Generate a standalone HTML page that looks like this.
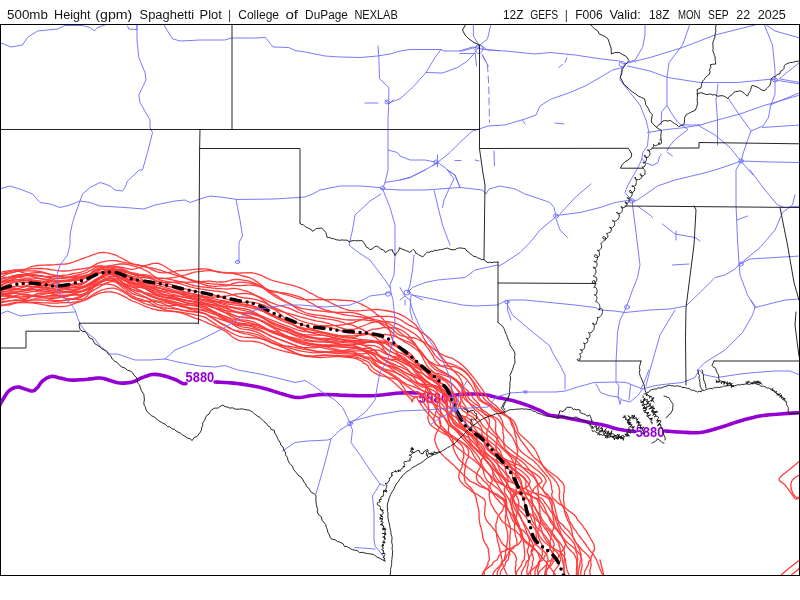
<!DOCTYPE html>
<html><head><meta charset="utf-8"><title>500mb Height (gpm) Spaghetti Plot | College of DuPage NEXLAB</title>
<style>
html,body{margin:0;padding:0;background:#fff;}
body{width:800px;height:600px;position:relative;overflow:hidden;}
</style></head><body>
<svg width="800" height="24" viewBox="0 0 800 24" style="position:absolute;left:0;top:0">
<g font-family="Liberation Sans, DejaVu Sans, sans-serif" font-size="12" fill="#141414">
<text x="7.1" y="19" textLength="40.8" lengthAdjust="spacingAndGlyphs">500mb</text>
<text x="54.1" y="19" textLength="36.3" lengthAdjust="spacingAndGlyphs">Height</text>
<text x="95.3" y="19" textLength="37" lengthAdjust="spacingAndGlyphs">(gpm)</text>
<text x="139.6" y="19" textLength="54.5" lengthAdjust="spacingAndGlyphs">Spaghetti</text>
<text x="199.6" y="19" textLength="22.3" lengthAdjust="spacingAndGlyphs">Plot</text>
<text x="229.5" y="19.3" text-anchor="middle" fill="#333">|</text>
<text x="238.2" y="19" textLength="40.9" lengthAdjust="spacingAndGlyphs">College</text>
<text x="285.4" y="19" textLength="12.6" lengthAdjust="spacingAndGlyphs">of</text>
<text x="305.1" y="19" textLength="42.8" lengthAdjust="spacingAndGlyphs">DuPage</text>
<text x="354.4" y="19" textLength="43.4" lengthAdjust="spacingAndGlyphs">NEXLAB</text>
<text x="503" y="19" textLength="20.5" lengthAdjust="spacingAndGlyphs">12Z</text>
<text x="530.2" y="19" textLength="28" lengthAdjust="spacingAndGlyphs">GEFS</text>
<text x="566.4" y="19.3" text-anchor="middle" fill="#333">|</text>
<text x="575.2" y="19" textLength="27.5" lengthAdjust="spacingAndGlyphs">F006</text>
<text x="609.4" y="19" textLength="31.4" lengthAdjust="spacingAndGlyphs">Valid:</text>
<text x="649" y="19" textLength="20.5" lengthAdjust="spacingAndGlyphs">18Z</text>
<text x="678" y="19" textLength="22.4" lengthAdjust="spacingAndGlyphs">MON</text>
<text x="708.1" y="19" textLength="20.5" lengthAdjust="spacingAndGlyphs">SEP</text>
<text x="736.2" y="19" textLength="13.9" lengthAdjust="spacingAndGlyphs">22</text>
<text x="757.7" y="19" textLength="28.1" lengthAdjust="spacingAndGlyphs">2025</text>
</g></svg>
<svg width="800" height="600" viewBox="0 0 800 600" style="position:absolute;left:0;top:0">
<defs><clipPath id="c"><rect x="1" y="25" width="798" height="550"/></clipPath></defs>
<g clip-path="url(#c)" fill="none" stroke-linejoin="round" stroke-linecap="round">
<g stroke="#9400d3" stroke-width="3.6">
<path d="M-2 408 L-1.2 406.6 L-0.1 404.7 L1.2 402.4 L2.6 400 L3.9 397.8 L5 396 L5.9 394.6 L6.7 393.4 L7.5 392.4 L8.2 391.6 L9 390.8 L10 390 L11.1 389.3 L12.3 388.6 L13.6 388 L14.9 387.5 L16.2 387.2 L17.5 387 L18.8 387 L20 387.3 L21.2 387.7 L22.5 388.1 L23.8 388.6 L25 389 L26.3 389.4 L27.6 389.9 L28.9 390.3 L30.2 390.7 L31.4 391 L32.5 391 L33.5 390.8 L34.4 390.4 L35.2 389.8 L35.9 389.1 L36.7 388.3 L37.5 387.5 L38.3 386.6 L39 385.5 L39.8 384.3 L40.6 383.1 L41.5 382 L42.5 381 L43.7 380.1 L45.1 379.1 L46.5 378.2 L48 377.5 L49.5 376.9 L51 376.5 L52.5 376.4 L53.9 376.5 L55.4 376.8 L56.9 377.2 L58.4 377.7 L60 378 L61.6 378.3 L63.1 378.7 L64.6 379.1 L66.3 379.5 L68 379.8 L70 380 L72.2 380.1 L74.6 380.1 L77.2 380 L79.8 379.8 L82.4 379.7 L85 379.5 L87.6 379.3 L90.2 378.9 L92.8 378.6 L95.4 378.2 L97.8 378 L100 378 L102 378.2 L103.7 378.5 L105.3 379 L106.9 379.5 L108.4 380 L110 380.5 L111.6 381 L113.2 381.5 L114.8 382 L116.5 382.4 L118.2 382.8 L120 383 L122 383.1 L124.1 383.1 L126.2 382.9 L128.4 382.7 L130.5 382.4 L132.5 382 L134.3 381.4 L136 380.7 L137.7 379.9 L139.3 379 L140.9 378.2 L142.5 377.5 L144.2 376.9 L145.8 376.2 L147.5 375.7 L149.2 375.1 L150.8 374.8 L152.5 374.5 L154.1 374.4 L155.7 374.4 L157.3 374.6 L159 374.8 L160.7 375.1 L162.5 375.5 L164.5 376 L166.6 376.6 L168.9 377.3 L171.1 378.1 L173.1 378.8 L175 379.5 L176.7 380.2 L178.2 381 L179.6 381.8 L180.9 382.5 L182 383.1 L183 383.5 L183.8 383.7 L184.5 383.8 L185 383.8 L185.4 383.6 L185.7 383.5 L186 383.5"/>
<path d="M215 382 L217.4 382.1 L220.7 382.3 L224.7 382.5 L229 382.7 L233.3 383.1 L237.5 383.5 L241.6 384.1 L245.8 384.7 L250.2 385.5 L254.4 386.3 L258.6 387.1 L262.5 388 L266.2 388.9 L269.7 390 L273.2 391.1 L276.4 392.1 L279.5 393.1 L282.5 394 L285.2 394.8 L287.7 395.6 L290 396.2 L292.3 396.8 L294.6 397.3 L297 397.5 L299.6 397.5 L302.2 397.2 L304.9 396.8 L307.5 396.3 L310.1 395.8 L312.5 395.5 L314.6 395.3 L316.4 395 L318.2 394.8 L320 394.6 L322.2 394.5 L325 394.5 L328.4 394.6 L332.4 394.7 L336.7 394.9 L341.2 395.2 L345.7 395.4 L350 395.5 L354.2 395.6 L358.3 395.7 L362.5 395.7 L366.7 395.7 L370.8 395.7 L375 395.5 L379.2 395.2 L383.6 394.8 L387.9 394.2 L392.2 393.7 L396.2 393.3 L400 393 L403.6 392.9 L407.2 392.8 L410.6 392.8 L413.6 392.9 L416.1 393 L418 393"/>
<path d="M450 396 L451 395.8 L452.4 395.6 L454.1 395.3 L455.9 395 L457.9 394.7 L460 394.5 L462.2 394.3 L464.7 394.2 L467.4 394.1 L470 394 L472.6 394 L475 394 L477.2 394.1 L479.4 394.2 L481.4 394.3 L483.4 394.5 L485.3 394.8 L487 395 L488.5 395.3 L489.7 395.6 L490.8 395.9 L492 396.2 L493.3 396.6 L495 397 L497.1 397.4 L499.5 397.9 L502.1 398.3 L504.7 398.9 L507.4 399.4 L510 400 L512.5 400.6 L515 401.3 L517.5 402.1 L520 402.8 L522.5 403.6 L525 404.5 L527.6 405.4 L530.2 406.4 L532.9 407.5 L535.4 408.6 L537.8 409.6 L540 410.5 L541.8 411.4 L543.3 412.2 L544.6 413 L545.9 413.7 L547.3 414.4 L549 415 L551 415.5 L553.1 415.8 L555.4 416.1 L557.7 416.4 L560.1 416.6 L562.5 417 L564.9 417.4 L567.4 417.9 L569.9 418.4 L572.4 419 L575 419.5 L577.5 420 L580 420.5 L582.6 421 L585.2 421.5 L587.7 422 L590.1 422.5 L592.5 423 L594.7 423.4 L596.9 423.8 L598.9 424.2 L600.9 424.6 L602.9 425 L605 425.5 L607.1 426 L609.2 426.6 L611.2 427.3 L613.3 427.9 L615.4 428.5 L617.5 429 L619.7 429.4 L621.9 429.8 L624.2 430.2 L626.4 430.5 L628.4 430.8 L630 431 L631.3 431.2 L632.4 431.3 L633.3 431.4 L634 431.4 L634.5 431.5 L635 431.5"/>
<path d="M665 431 L666.6 431.1 L668.7 431.3 L671.2 431.5 L674.1 431.7 L677 431.9 L680 432 L683 432.2 L686.3 432.4 L689.7 432.6 L693.1 432.8 L696.6 432.7 L700 432.5 L703.3 432 L706.7 431.3 L710 430.4 L713.3 429.5 L716.7 428.5 L720 427.5 L723.3 426.5 L726.7 425.4 L730 424.2 L733.3 423.1 L736.7 422 L740 421 L743.3 420 L746.7 419.1 L750 418.2 L753.3 417.4 L756.7 416.6 L760 416 L763.3 415.5 L766.6 415.1 L769.9 414.8 L773.2 414.5 L776.6 414.3 L780 414 L783.8 413.7 L788 413.4 L792.2 413.1 L796.2 412.9 L799.6 412.7 L802 412.5"/>
</g>
<g font-family="Liberation Sans, DejaVu Sans, sans-serif" font-weight="bold" font-size="14" fill="#9400d3" stroke="none">
<text x="185.6" y="382" textLength="28.6" lengthAdjust="spacingAndGlyphs">5880</text>
<text x="418.5" y="402.7" textLength="30" lengthAdjust="spacingAndGlyphs">5880</text>
<text x="635.7" y="436.7" textLength="28.6" lengthAdjust="spacingAndGlyphs">5880</text>
</g>
<g stroke="#ff3b3b" stroke-width="1.3">
<path d="M-16 312.3 L-14.7 311.9 L-12.9 311.2 L-10.7 310.3 L-9.5 309.7 L-7.1 308.8 L-4.7 307.9 L-3.6 307.4 L-1.6 306.8 L-0 306.3 L2.7 305.5 L4.4 304.9 L6.4 304.4 L8.5 303.9 L10.6 303.4 L11.9 303.1 L13.9 302.7 L16 302.4 L18.4 302.4 L20.1 302.5 L21.7 302.7 L23.9 302.7 L25.9 302.7 L27.5 302.7 L29.7 302.8 L31.1 302.9 L34.2 303.2 L35.8 303.4 L37.4 303.7 L40 304 L41.9 304.4 L44 304.9 L46 305.2 L47.5 305.5 L49.8 305.9 L52 306.3 L54.1 306.4 L55.5 306.5 L57.5 306.6 L59.5 306.6 L61.6 306.5 L63.8 306.3 L65.4 306.2 L67.8 305.8 L69.4 305.4 L71.5 304.7 L73.6 303.9 L75.7 303.1 L77.2 302.6 L79.5 301.9 L81 301.3 L83.3 300.5 L84.8 299.8 L87 298.7 L88.3 297.9 L90.2 296.6 L92 295.3 L93.8 294.1 L95.7 292.8 L97.7 291.8 L99.9 290.9 L101.5 290.2 L103.8 289.5 L105.2 289.1 L107.5 288.6 L109.8 288.3 L111.3 288.1 L113.6 288.2 L115.7 288.6 L117.5 289.2 L119.3 290 L121.4 290.9 L122.9 291.8 L124.5 292.7 L126.7 294 L128.2 295 L130.4 296.4 L132 297.3 L133.8 298.1 L135.8 299 L137.8 300.1 L140 301.3 L142.4 302.4 L143.6 303.2 L146.2 304 L147.5 304.5 L150 305.2 L151.2 305.6 L153.5 306.1 L155.9 306.5 L157.1 306.8 L160 307.3 L161.6 307.5 L163.4 307.8 L165.3 308 L167.2 308.2 L169.2 308.4 L171.1 308.6 L173.1 308.7 L175 308.9 L176.9 309.2 L178.8 309.5 L180.6 309.9 L182.5 310.3 L184.4 310.7 L186.2 311.1 L188.1 311.3 L190 311.5 L191.9 311.6 L193.7 311.7 L195.5 311.8 L199.2 312.3 L201.1 312.6 L203 313 L205 313.6 L207 314.5 L208.1 315.5 L210.1 316.7 L212.2 318.1 L214.4 319.5 L216.5 320.8 L218.7 322.1 L219.8 323.1 L222 324.2 L224.3 325.3 L226.6 326.5 L227.8 327.3 L230.2 328.4 L231.4 329 L233.8 329.8 L236 330.5 L238.1 331 L240 331.4 L241.6 331.7 L243.1 331.9 L245.5 332.2 L247.7 332.4 L250 332.8 L251.2 333.1 L253.8 333.7 L255 334 L257.5 334.8 L258.8 335.2 L261.2 336.3 L262.5 337 L263.8 337.7 L266.2 339.3 L267.5 340 L270 341.4 L271.2 342 L273.8 343.1 L275 343.6 L276.2 344.1 L278.8 345.2 L280 345.8 L282.5 346.9 L283.8 347.6 L286.2 348.8 L287.5 349.5 L290 350.7 L291.2 351.3 L293.6 352.5 L294.8 353.1 L297.3 354.1 L298.6 354.7 L301.5 355.5 L303 355.9 L304.7 356.2 L306.3 356.4 L308 356.5 L309.7 356.4 L313 356.6 L314.6 356.3 L316.2 355.9 L317.7 355.6 L320.8 355.5 L322.5 355.3 L324.2 355.1 L326 355.1 L329 355.4 L330.1 355.3 L332.3 355.4 L334.5 355.5 L336.7 355.5 L338.9 355.6 L340 355.6 L343 355.8 L344.8 355.8 L346.4 355.8 L348 355.8 L349.5 355.7 L352.6 355.8 L354.2 355.7 L355.8 355.7 L357.4 355.8 L359.1 355.9 L360.6 356.2 L362.1 356.6 L363.5 357 L363.5 357.4 L364.6 357.8 L364.4 358 L366.9 358.6 L367.4 358.8 L367.8 359 L368.1 359.2 L369.7 359.9 L369.9 360.3 L371.4 361.4 L371.6 362 L372 362.7 L373.6 364.2 L374.4 364.9 L376.8 366.5 L378.2 367 L379.7 367.5 L382.6 369 L384.1 369.6 L385.6 370.2 L387.1 370.9 L388.4 371.7 L391.1 373.6 L392.4 374.4 L393.7 375.3 L395.1 376.1 L396.5 377 L397.9 378 L399.3 378.9 L401.5 380.7 L403.1 381.8 L404.7 382.9 L406.4 384 L408.2 385 L409.3 385.2 L411.2 385.8 L413.1 386.4 L416 387.9 L417.6 388.3 L420.1 389.6 L421.2 389.9 L422 390.2 L423.6 391.3 L424 391.5 L425.4 392.4 L425.7 392.3 L426.9 393.1 L427 392.8 L427.8 393.5 L428.4 394.2 L428.7 394.9 L428.6 394.7 L428.9 395.6 L429.3 396.6 L430.1 398.7 L430.8 400 L432 402 L433.1 403.7 L434 405 L435 407 L436 409.2 L436.9 411 L437.5 412.1 L439.4 414.7 L441.8 416.1 L444.3 417.5 L446.8 420 L447.6 421.8 L448.1 423.6 L448.3 424.9 L448.7 426.5 L448.6 427.5 L448.3 428.5 L448.5 430 L448.6 431.3 L448.8 432.5 L449.8 433.9 L450.5 434.8 L451.2 435.8 L452 437 L452.7 438.5 L452.5 439.4 L453 441.2 L453.4 443.1 L452.9 444 L453.3 446 L453 447 L453.8 449 L453.9 450 L454.9 452 L455.2 452.9 L456.2 454.7 L457.2 456.4 L458.2 458.1 L458.7 459 L460.1 460.6 L461.7 462.2 L463.6 463.9 L465.1 464.9 L467.7 467.3 L469.7 468.7 L471.9 470.2 L474.1 471.8 L476.2 473.4 L478.1 475 L479.9 476.5 L481.5 478 L483.5 480.8 L485.3 482.2 L486.9 483.6 L488.9 486.3 L490.1 487.6 L490.9 489 L492.3 491.7 L492.9 493.1 L493.7 494.4 L495.3 497.2 L496.6 498.6 L498.1 500 L500.3 502.9 L502.1 504.4 L504.1 505.9 L506 507.4 L508.1 510.4 L509.7 512 L511.1 513.6 L512.4 515.2 L513.3 516.9 L514.6 520.2 L515.6 521.9 L516.6 523.5 L517.6 525 L518.9 528 L519.6 529.5 L520.2 530.9 L521.1 533.6 L521.6 534.9 L522.5 537 L524 539.3 L525.3 540.6 L526.8 542 L528.6 543.5 L530.6 545 L531.5 545.8 L533.3 547.2 L534.8 548.7 L535.2 549.5 L536.5 550.9 L536.7 551.6 L537.9 553.2 L538.8 554.9 L538.9 555.8 L539.7 557.6 L540.2 559.7 L539.8 560.8 L539.1 562 L539.2 564.9 L538.5 566.6 L538 568.2 L537.6 569.9 L537.6 571.5 L538.2 574 L539.2 576 L539.8 577.2 L540.8 579.1 L541.5 580.4 L542.3 583.4 L542.6 585 L542.8 586.7 L543 588.3 L543.2 590 L543.4 591.8 L543.9 594.7 L544.1 596.7 L544.1 597.8 L544.4 601.4 L544.3 602.9"/>
<path d="M-16 308.8 L-14.7 308.5 L-12.9 308 L-10.7 307.3 L-9.5 307 L-7.1 306.4 L-4.7 305.7 L-3.6 305.4 L-1.6 305 L-0 305.1 L2.7 304.9 L4.4 305 L6.4 305.1 L8.5 305 L10.6 304.5 L11.9 304.2 L13.9 303.6 L16 303 L18.4 302.6 L20.1 302.5 L21.7 302.3 L23.9 302.1 L25.9 302 L27.5 302 L29.7 302.1 L31.1 302.2 L34.2 302.4 L35.8 302.5 L37.4 302.5 L40 302.7 L41.9 302.7 L44 302.8 L46 302.9 L47.5 302.9 L49.8 303 L52 303.2 L54.1 303.1 L55.5 303.1 L57.5 303 L59.5 302.9 L61.6 302.8 L63.8 302.7 L65.4 302.7 L67.8 302.6 L69.4 302.6 L71.5 302.4 L73.6 302.1 L75.7 301.8 L77.2 301.7 L79.5 301.4 L81 301.2 L83.3 300.6 L84.8 300.1 L87 299.3 L88.3 298.7 L90.2 297.7 L92 296.7 L93.8 295.7 L95.7 294.8 L97.7 293.9 L99.9 293.2 L101.5 292.7 L103.8 292.3 L105.2 292 L107.5 291.9 L109.8 291.9 L111.3 292 L113.6 292.3 L115.7 292.8 L117.5 293.4 L119.3 294.2 L121.4 295.1 L122.9 295.9 L124.5 296.7 L126.7 297.8 L128.2 298.7 L130.4 299.9 L132 300.8 L133.8 301.5 L135.8 302.2 L137.8 303 L140 304 L142.4 305 L143.6 305.7 L146.2 306.6 L147.5 307.2 L150 308 L151.2 308.5 L153.5 309.1 L155.9 309.7 L157.1 310 L160 310.5 L161.6 310.7 L163.4 310.8 L165.3 311 L167.2 311.1 L169.2 311.2 L171.1 311.4 L173.1 311.5 L175 311.7 L176.9 312 L178.8 312.4 L180.6 312.8 L182.5 313.4 L184.4 314 L186.2 314.6 L188.1 315.3 L190 316.1 L191.9 316.8 L193.7 317.6 L195.5 318.4 L199.2 319.4 L201.1 320.2 L203 321 L205 321.8 L207 322.6 L208.1 323.3 L210.1 324.1 L212.2 325 L214.4 325.9 L216.5 326.8 L218.7 327.8 L219.8 328.5 L222 329.6 L224.3 330.6 L226.6 332 L227.8 333.3 L230.2 334.9 L231.4 336.2 L233.8 337.8 L236 339.1 L238.1 340.1 L240 340.7 L241.6 341 L243.1 341.1 L245.5 341.2 L247.7 341.1 L250 341.2 L251.2 341.1 L253.8 341.5 L255 341.5 L257.5 342.1 L258.8 342.2 L261.2 343.1 L262.5 343.5 L263.8 343.9 L266.2 345.2 L267.5 345.7 L270 346.9 L271.2 347.3 L273.8 348.3 L275 348.7 L276.2 349 L278.8 349.8 L280 350.1 L282.5 350.9 L283.8 351.1 L286.2 351.8 L287.5 352 L290 352.6 L291.2 352.8 L293.6 353.5 L294.8 353.6 L297.3 354.3 L298.6 354.5 L301.5 355.1 L303 355.3 L304.7 355.5 L306.3 355.8 L308 356.1 L309.7 356.4 L313 357 L314.6 357.2 L316.2 357.3 L317.7 357.3 L320.8 357.5 L322.5 357.4 L324.2 357.3 L326 357.2 L329 357.2 L330.1 356.9 L332.3 356.8 L334.5 356.7 L336.7 356.7 L338.9 356.7 L340 356.7 L343 356.9 L344.8 357 L346.4 357.1 L348 357.3 L349.5 357.5 L352.6 357.8 L354.2 358.1 L355.8 358.6 L357.4 359.1 L358.9 359.8 L360.3 360.4 L361.6 361.1 L362.8 361.7 L362.7 362.2 L363.5 362.7 L363.1 363 L365.3 363.6 L365.5 363.8 L365.6 364 L365.7 364.2 L367.1 364.8 L367.1 365.2 L368.4 366.3 L368.4 366.9 L368.6 367.6 L370 369.2 L370.6 370.1 L372.7 371.8 L374 372.7 L375.4 373.4 L378.2 374.9 L379.7 375.4 L381.4 375.8 L383.1 376.1 L384.9 376.3 L388 377.6 L389.7 377.8 L391.5 378.1 L393.3 378.4 L395 378.9 L396.7 379.5 L398.3 380.2 L400.7 381.7 L402.3 382.7 L404 383.9 L405.5 385.1 L407.1 386.3 L407.9 386.8 L409.4 387.9 L410.9 388.9 L413.5 390.8 L414.9 391.4 L417.4 392.7 L418.5 392.8 L419.4 392.7 L421.2 393.5 L421.8 393.3 L423.1 394.1 L423.2 393.9 L424 394.5 L423.7 394.2 L423.8 394.9 L423.7 395.4 L423.4 396 L422.6 395.5 L422.4 396.1 L422.2 396.9 L422.5 398.8 L422.6 400 L423.3 402 L424.2 403.7 L425.2 405 L426.6 407 L428.2 409.2 L429.8 411 L431 412.1 L433.5 414.7 L436 416.1 L438.2 417.5 L440 420 L440.4 421.8 L440.7 423.6 L440.5 424.9 L440.5 426.5 L439.8 427.5 L438.9 428.5 L438.3 430 L437.4 431.3 L436.5 432.5 L436.2 433.9 L435.7 434.8 L435.3 435.8 L435.1 437 L435.1 438.5 L434.5 439.4 L435 441.2 L435.7 443.1 L435.7 444 L436.7 446 L436.9 447 L438.2 449 L438.7 450 L440.1 452 L440.8 452.9 L442.4 454.7 L444 456.4 L445.7 458.1 L446.7 459 L448.6 460.6 L450.4 462.2 L452.4 463.9 L453.6 464.9 L455.8 467.3 L457.2 468.7 L458.7 470.2 L460.2 471.8 L461.8 473.4 L463.4 475 L465.1 476.5 L466.9 478 L469.5 480.8 L472.4 482.2 L475.6 483.6 L479.7 486.3 L483.3 487.6 L486.7 489 L490.7 491.7 L494.2 493.1 L497.6 494.4 L501.3 497.2 L503.5 498.6 L504.5 500 L505.3 502.9 L505.4 504.4 L505.5 505.9 L505.5 507.4 L505.9 510.4 L506.1 512 L506.4 513.6 L506.8 515.2 L507.2 516.9 L508.2 520.2 L508.7 521.9 L509.3 523.5 L509.7 525 L510.4 528 L510.5 529.5 L510.3 530.9 L510.4 533.6 L510 534.9 L509.8 537 L510 539.3 L509.7 540.6 L509.6 542 L509.7 543.5 L510 545 L509.5 545.8 L509.9 547.2 L510.2 548.7 L509.6 549.5 L510.1 550.9 L509.4 551.6 L509.7 553.2 L509.7 554.9 L508.8 555.8 L508.6 557.6 L508.2 559.7 L507 560.8 L505.8 562 L505.2 564.9 L504 566.6 L502.8 568.2 L501.7 569.9 L500.6 571.5 L500.2 574 L500.1 576 L499.8 577.2 L500.3 579.1 L500.6 580.4 L501.4 583.4 L502 585 L502.7 586.7 L503.4 588.3 L504.1 590 L504.8 591.8 L505.6 594.7 L506.1 596.7 L506.3 597.8 L506.8 601.4 L506.8 602.9"/>
<path d="M-16 307.9 L-14.7 307.6 L-12.9 307.1 L-10.7 306.4 L-9.5 306.1 L-7.1 305.4 L-4.7 304.6 L-3.6 304.2 L-1.6 303.6 L-0 303.2 L2.7 302.5 L4.4 302 L6.4 301.6 L8.5 301.2 L10.6 300.9 L11.9 300.7 L13.9 300.5 L16 300.5 L18.4 300.6 L20.1 300.9 L21.7 301.2 L23.9 301.2 L25.9 301.1 L27.5 300.8 L29.7 300.3 L31.1 299.7 L34.2 299.1 L35.8 298.5 L37.4 298 L40 297.8 L41.9 297.7 L44 297.8 L46 298 L47.5 298.1 L49.8 298.4 L52 298.5 L54.1 298.4 L55.5 298.2 L57.5 298 L59.5 297.7 L61.6 297.3 L63.8 296.9 L65.4 296.6 L67.8 296.1 L69.4 295.7 L71.5 295.1 L73.6 294.4 L75.7 293.7 L77.2 293.2 L79.5 292.5 L81 292 L83.3 291.2 L84.8 290.6 L87 289.7 L88.3 289.2 L90.2 288.4 L92 287.6 L93.8 286.8 L95.7 286.1 L97.7 285.4 L99.9 284.8 L101.5 284.5 L103.8 284.1 L105.2 284 L107.5 284 L109.8 284.3 L111.3 284.7 L113.6 285.3 L115.7 286.1 L117.5 287.1 L119.3 288.2 L121.4 289.5 L122.9 290.6 L124.5 291.8 L126.7 293.4 L128.2 294.8 L130.4 296.5 L132 297.7 L133.8 298.6 L135.8 299.3 L137.8 299.9 L140 300.4 L142.4 300.9 L143.6 301 L146.2 301.3 L147.5 301.3 L150 301.4 L151.2 301.3 L153.5 301.4 L155.9 301.6 L157.1 301.8 L160 302.5 L161.6 303.1 L163.4 303.8 L165.3 304.5 L167.2 305.3 L169.2 306.1 L171.1 306.8 L173.1 307.5 L175 308.2 L176.9 308.7 L178.8 309.2 L180.6 309.7 L182.5 310.1 L184.4 310.4 L186.2 310.7 L188.1 311 L190 311.2 L191.9 311.5 L193.7 311.7 L195.5 312 L199.2 312.6 L201.1 312.9 L203 313.4 L205 313.9 L207 314.7 L208.1 315.5 L210.1 316.6 L212.2 317.7 L214.4 319 L216.5 320.3 L218.7 321.6 L219.8 322.5 L222 323.6 L224.3 324.8 L226.6 326 L227.8 326.9 L230.2 328.1 L231.4 329 L233.8 330.1 L236 331 L238.1 331.9 L240 332.5 L241.6 333 L243.1 333.3 L245.5 333.8 L247.7 334.1 L250 334.7 L251.2 335.1 L253.8 335.8 L255 336.2 L257.5 337 L258.8 337.4 L261.2 338.3 L262.5 338.8 L263.8 339.3 L266.2 340.5 L267.5 341 L270 342.2 L271.2 342.7 L273.8 343.7 L275 344.2 L276.2 344.7 L278.8 345.7 L280 346.2 L282.5 347.2 L283.8 347.7 L286.2 348.6 L287.5 349.2 L290 350.2 L291.2 350.8 L293.6 351.9 L294.8 352.5 L297.3 353.6 L298.6 354.2 L301.5 355 L303 355.4 L304.7 355.6 L306.3 355.8 L308 355.9 L309.7 355.9 L313 356.1 L314.6 355.9 L316.2 355.7 L317.7 355.5 L320.8 355.4 L322.5 355.2 L324.2 355.2 L326 355.2 L329 355.5 L330.1 355.4 L332.3 355.6 L334.5 355.8 L336.7 356 L338.9 356.1 L340 356.1 L343 356.3 L344.8 356.4 L346.4 356.4 L348 356.4 L349.5 356.5 L352.6 356.7 L354.2 356.9 L355.8 357.2 L357.4 357.6 L359 358 L360.5 358.5 L361.9 359 L363.1 359.4 L363.1 359.7 L364.1 360.1 L363.8 360.2 L366.2 360.8 L366.6 361 L366.8 361.2 L367 361.4 L368.5 362.1 L368.6 362.5 L370 363.7 L370.1 364.3 L370.3 365.1 L371.8 366.7 L372.4 367.6 L374.5 369.5 L375.8 370.3 L377.1 371.1 L379.7 372.8 L381.1 373.5 L382.5 374.3 L383.9 375 L385.2 375.8 L387.8 377.7 L389.1 378.6 L390.3 379.6 L391.5 380.6 L392.8 381.6 L394 382.7 L395.3 383.8 L397.4 385.6 L398.8 386.9 L400.3 388.2 L401.7 389.5 L403.1 390.9 L403.7 391.6 L405 393 L406.1 394.3 L408.4 396.5 L409.4 397.7 L411.3 399.6 L411.6 400.3 L411.5 400.8 L412.3 401.8 L411.9 401.5 L412.5 401.7 L412.2 400.7 L413 400.3 L412.9 398.9 L413.7 398.4 L414.4 397.9 L415.1 397.6 L415.2 396.5 L415.9 396.6 L416.5 397.1 L417.4 398.8 L418 400 L419.1 402 L420.3 403.7 L421.3 405 L422.7 407 L424.2 409.2 L425.6 411 L426.7 412.1 L428.8 414.7 L430.3 416.1 L431.6 417.5 L433.4 420 L434.5 421.8 L435.7 423.6 L436.7 424.9 L438.3 426.5 L439.5 427.5 L440.8 428.5 L442.4 430 L443.7 431.3 L444.9 432.5 L446.4 433.9 L447.3 434.8 L448.2 435.8 L449.1 437 L450.1 438.5 L450.4 439.4 L451.7 441.2 L453.1 443.1 L453.8 444 L455.6 446 L456.7 447 L458.9 449 L460.3 450 L462.7 452 L464.3 452.9 L466.6 454.7 L468.8 456.4 L470.9 458.1 L472.3 459 L474.3 460.6 L476.2 462.2 L478.1 463.9 L479.4 464.9 L481.6 467.3 L483.2 468.7 L484.8 470.2 L486.5 471.8 L488.2 473.4 L489.8 475 L491.3 476.5 L492.6 478 L494.4 480.8 L495.9 482.2 L497 483.6 L498.5 486.3 L499.3 487.6 L500.2 489 L501.9 491.7 L503 493.1 L503.9 494.4 L505.3 497.2 L505.6 498.6 L505.6 500 L505.9 502.9 L505.4 504.4 L504.6 505.9 L503.6 507.4 L502.7 510.4 L501.4 512 L500.1 513.6 L498.8 515.2 L497.7 516.9 L497.2 520.2 L496.6 521.9 L496.1 523.5 L495.8 525 L496 528 L496 529.5 L496 530.9 L496.5 533.6 L496.5 534.9 L496.8 537 L497.4 539.3 L497.6 540.6 L497.9 542 L498.4 543.5 L499 545 L498.7 545.8 L499.3 547.2 L499.9 548.7 L499.5 549.5 L500.3 550.9 L499.9 551.6 L500.6 553.2 L501.2 554.9 L501 555.8 L501.6 557.6 L502.1 559.7 L502 560.8 L502.1 562 L503.1 564.9 L503.5 566.6 L504.1 568.2 L504.8 569.9 L505.5 571.5 L506.7 574 L508 576 L508.6 577.2 L509.4 579.1 L509.7 580.4 L510.2 583.4 L510.3 585 L510.3 586.7 L510.3 588.3 L510.3 590 L510.3 591.8 L510.6 594.7 L510.7 596.7 L510.8 597.8 L511.4 601.4 L511.6 602.9"/>
<path d="M-16 306.3 L-14.7 305.9 L-12.9 305.4 L-10.7 304.7 L-9.5 304.4 L-7.1 303.7 L-4.7 303 L-3.6 302.7 L-1.6 302.2 L-0 302 L2.7 301.5 L4.4 301.2 L6.4 301.1 L8.5 300.9 L10.6 300.6 L11.9 300.5 L13.9 300.2 L16 300 L18.4 300 L20.1 300.2 L21.7 300.4 L23.9 300.4 L25.9 300.4 L27.5 300.4 L29.7 300.4 L31.1 300.2 L34.2 300.2 L35.8 300 L37.4 299.9 L40 300 L41.9 300 L44 300.2 L46 300.4 L47.5 300.6 L49.8 300.9 L52 301.2 L54.1 301.4 L55.5 301.4 L57.5 301.3 L59.5 301.1 L61.6 300.8 L63.8 300.5 L65.4 300.3 L67.8 300 L69.4 299.8 L71.5 299.4 L73.6 299.2 L75.7 299.3 L77.2 299.5 L79.5 299.5 L81 299.5 L83.3 298.9 L84.8 298.1 L87 296.3 L88.3 294.4 L90.2 292 L92 289.6 L93.8 287.4 L95.7 285.9 L97.7 284.3 L99.9 282.9 L101.5 281.7 L103.8 280.5 L105.2 279.6 L107.5 278.8 L109.8 278.4 L111.3 278.4 L113.6 278.8 L115.7 279.7 L117.5 280.9 L119.3 282.3 L121.4 283.7 L122.9 284.8 L124.5 285.9 L126.7 287.4 L128.2 288.5 L130.4 290 L132 291 L133.8 291.9 L135.8 292.8 L137.8 293.6 L140 294.5 L142.4 295.5 L143.6 296.3 L146.2 297.4 L147.5 298.3 L150 299.6 L151.2 300.8 L153.5 302.2 L155.9 303.5 L157.1 304.3 L160 305.2 L161.6 305.5 L163.4 305.7 L165.3 305.8 L167.2 305.9 L169.2 305.8 L171.1 305.7 L173.1 305.5 L175 305.3 L176.9 305.1 L178.8 305 L180.6 305 L182.5 305 L184.4 305 L186.2 305 L188.1 305.1 L190 305.1 L191.9 305.2 L193.7 305.3 L195.5 305.3 L199.2 305.8 L201.1 306 L203 306.3 L205 306.8 L207 307.5 L208.1 308.2 L210.1 309.3 L212.2 310.5 L214.4 311.9 L216.5 313.2 L218.7 314.6 L219.8 315.7 L222 316.9 L224.3 318.1 L226.6 319.3 L227.8 320.5 L230.2 322.1 L231.4 323.4 L233.8 324.9 L236 326.4 L238.1 327.6 L240 328.5 L241.6 328.9 L243.1 329.1 L245.5 329.4 L247.7 329.6 L250 330 L251.2 330.3 L253.8 331 L255 331.4 L257.5 332.4 L258.8 333 L261.2 334.2 L262.5 335 L263.8 335.7 L266.2 337.3 L267.5 338 L270 339.4 L271.2 340 L273.8 341.2 L275 341.8 L276.2 342.4 L278.8 343.5 L280 344.1 L282.5 345.2 L283.8 345.7 L286.2 346.7 L287.5 347.1 L290 348 L291.2 348.3 L293.6 349.1 L294.8 349.4 L297.3 350.2 L298.6 350.5 L301.5 351.2 L303 351.4 L304.7 351.7 L306.3 351.9 L308 352.2 L309.7 352.4 L313 352.8 L314.6 352.8 L316.2 352.7 L317.7 352.6 L320.8 352.6 L322.5 352.5 L324.2 352.4 L326 352.3 L329 352.5 L330.1 352.3 L332.3 352.2 L334.5 352.1 L336.7 351.9 L338.9 351.6 L340 351.1 L343 350.9 L344.8 350.4 L346.4 350 L348 349.6 L349.5 349.2 L352.6 349 L354.2 348.8 L355.9 348.6 L357.6 348.5 L359.4 348.4 L361.2 348.3 L363 348.3 L364.7 348.3 L365.2 348.2 L366.7 348.3 L367.1 348.3 L370.1 348.9 L371 349.1 L371.8 349.4 L372.5 349.8 L374.5 350.7 L375.1 351.3 L376.9 352.6 L377.4 353.4 L378 354.2 L379.7 355.9 L380.5 356.7 L382.8 358.4 L384.1 359.2 L385.4 360 L388.2 361.6 L389.6 362.4 L391.1 363 L392.7 363.6 L394.3 364.2 L397.2 365.8 L398.8 366.4 L400.4 366.9 L402 367.6 L403.6 368.3 L405.1 369.2 L406.7 370 L409.1 371.6 L410.8 372.7 L412.6 373.7 L414.4 374.7 L416.3 375.7 L417.3 375.9 L419.1 376.8 L420.8 377.6 L423.6 379.3 L424.9 380 L427.3 381.6 L428.4 382.2 L429.3 382.8 L431.3 384.3 L432.2 384.7 L434.2 386.1 L435.3 386.4 L437.3 387.6 L438.5 387.9 L440.4 389.1 L442.2 390.5 L443.9 392 L444.8 392.6 L446.1 394.2 L447.1 395.9 L448.3 398.4 L449 400 L449.8 402 L450.4 403.7 L450.5 405 L450.8 407 L451.3 409.2 L451.6 411 L451.5 412.1 L452 414.7 L451.9 416.1 L451.8 417.5 L452.4 420 L453 421.8 L453.9 423.6 L455 424.9 L456.9 426.5 L458.7 427.5 L460.6 428.5 L463 430 L465 431.3 L466.8 432.5 L468.9 433.9 L470.4 434.8 L471.9 435.8 L473.6 437 L475.4 438.5 L476.4 439.4 L478.4 441.2 L480.3 443.1 L481.3 444 L482.9 446 L483.5 447 L484.7 449 L484.7 450 L485 452 L484.1 452.9 L483.8 454.7 L483.3 456.4 L482.9 458.1 L481.7 459 L481.4 460.6 L481.1 462.2 L481 463.9 L480.2 464.9 L480.2 467.3 L479.4 468.7 L478.5 470.2 L477.6 471.8 L477 473.4 L476.5 475 L476.3 476.5 L476.4 478 L477.6 480.8 L478.3 482.2 L479.9 483.6 L482.6 486.3 L485 487.6 L487.4 489 L490.3 491.7 L492.9 493.1 L495.6 494.4 L498.9 497.2 L501.4 498.6 L503.1 500 L504.6 502.9 L505.6 504.4 L506.6 505.9 L507.4 507.4 L508.5 510.4 L509.2 512 L509.8 513.6 L510.5 515.2 L511.2 516.9 L512.5 520.2 L513.6 521.9 L515.1 523.5 L517 525 L519.5 528 L521.6 529.5 L523.7 530.9 L525.9 533.6 L527.5 534.9 L529.1 537 L530.6 539.3 L531.4 540.6 L532 542 L532.6 543.5 L533.2 545 L532.9 545.8 L533.3 547.2 L533.6 548.7 L532.8 549.5 L532.9 550.9 L531.8 551.6 L531.6 553.2 L531.2 554.9 L529.9 555.8 L529.4 557.6 L528.8 559.7 L527.4 560.8 L526.1 562 L525.7 564.9 L524.6 566.6 L523.6 568.2 L522.7 569.9 L521.9 571.5 L521.5 574 L521.5 576 L521.2 577.2 L521.8 579.1 L522.3 580.4 L523.1 583.4 L523.8 585 L524.5 586.7 L525.1 588.3 L525.7 590 L526.2 591.8 L526.8 594.7 L527 596.7 L526.9 597.8 L527.3 601.4 L527.1 602.9"/>
<path d="M-16 305.7 L-14.7 305.5 L-12.9 305 L-10.7 304.3 L-9.5 304 L-7.1 303.2 L-4.7 302.3 L-3.6 301.9 L-1.6 301.1 L-0 300.5 L2.7 299.6 L4.4 298.9 L6.4 298.3 L8.5 297.7 L10.6 297.1 L11.9 296.7 L13.9 296 L16 295.4 L18.4 295 L20.1 294.7 L21.7 294.6 L23.9 294.4 L25.9 294.3 L27.5 294.5 L29.7 294.9 L31.1 295.3 L34.2 295.9 L35.8 296.2 L37.4 296.3 L40 296.5 L41.9 296.5 L44 296.6 L46 296.7 L47.5 296.7 L49.8 296.8 L52 297 L54.1 297 L55.5 297 L57.5 296.9 L59.5 296.7 L61.6 296.4 L63.8 296.1 L65.4 295.9 L67.8 295.6 L69.4 295.4 L71.5 295.1 L73.6 294.8 L75.7 294.7 L77.2 295 L79.5 295 L81 295.1 L83.3 294.8 L84.8 294.5 L87 293.8 L88.3 293.3 L90.2 292.3 L92 291.3 L93.8 290.1 L95.7 289 L97.7 287.9 L99.9 286.7 L101.5 285.6 L103.8 284.4 L105.2 283.4 L107.5 282.5 L109.8 281.9 L111.3 281.6 L113.6 281.6 L115.7 281.7 L117.5 282.1 L119.3 282.7 L121.4 283.4 L122.9 284.1 L124.5 284.7 L126.7 285.5 L128.2 285.8 L130.4 286.5 L132 286.9 L133.8 287.5 L135.8 288.4 L137.8 289.5 L140 290.8 L142.4 292.2 L143.6 293.3 L146.2 294.5 L147.5 295.3 L150 296.2 L151.2 296.8 L153.5 297.5 L155.9 298.3 L157.1 298.7 L160 299.5 L161.6 299.8 L163.4 300.2 L165.3 300.6 L167.2 301 L169.2 301.5 L171.1 302 L173.1 302.6 L175 303.2 L176.9 303.8 L178.8 304.5 L180.6 305.1 L182.5 305.8 L184.4 306.3 L186.2 306.9 L188.1 307.4 L190 307.8 L191.9 308.2 L193.7 308.6 L195.5 309 L199.2 309.8 L201.1 310.2 L203 310.7 L205 311.2 L207 311.8 L208.1 312.2 L210.1 312.9 L212.2 313.6 L214.4 314.3 L216.5 315 L218.7 315.7 L219.8 316.2 L222 317 L224.3 317.9 L226.6 318.8 L227.8 319.5 L230.2 320.5 L231.4 321.1 L233.8 322 L236 322.7 L238.1 323.3 L240 323.8 L241.6 324.1 L243.1 324.3 L245.5 324.6 L247.7 324.8 L250 325.3 L251.2 325.5 L253.8 326.2 L255 326.4 L257.5 327.2 L258.8 327.4 L261.2 328.3 L262.5 328.6 L263.8 329 L266.2 330.1 L267.5 330.6 L270 331.8 L271.2 332.2 L273.8 333.3 L275 333.7 L276.2 334.2 L278.8 335.1 L280 335.5 L282.5 336.4 L283.8 336.8 L286.2 337.6 L287.5 337.9 L290 338.8 L291.2 339.2 L293.6 340.1 L294.8 340.5 L297.3 341.5 L298.6 341.9 L301.5 342.7 L303 343 L304.7 343.2 L306.3 343.4 L308 343.6 L309.7 343.8 L313 344.2 L314.6 344.3 L316.2 344.4 L317.7 344.5 L320.8 344.7 L322.5 344.8 L324.2 344.8 L326 344.9 L329 345.1 L330.1 345 L332.3 345 L334.5 345 L336.7 345 L338.9 345 L340 344.9 L343 345.1 L344.8 345.1 L346.4 345.1 L348 345.2 L349.5 345.2 L352.6 345.4 L354.2 345.7 L355.9 346.2 L357.6 346.8 L359.4 347.6 L361.2 348.5 L362.8 349.5 L364.4 350.5 L364.6 351.4 L365.8 352.4 L365.8 353.1 L368.4 354.2 L368.9 354.8 L369.3 355.3 L369.7 355.8 L371.4 356.7 L371.6 357.3 L373.2 358.6 L373.4 359.4 L373.7 360.3 L375.2 362.1 L375.7 363.1 L377.8 365.1 L378.9 366.1 L380.2 366.9 L383 368.5 L384.5 369.1 L386.1 369.5 L387.8 369.9 L389.5 370.3 L392.5 371.7 L394.2 372.2 L395.8 372.7 L397.4 373.3 L398.9 374.1 L400.4 374.9 L401.9 375.8 L404.2 377.4 L405.9 378.5 L407.6 379.5 L409.4 380.6 L411 381.7 L411.9 382.2 L413.4 383.3 L414.8 384.4 L417.3 386.4 L418.4 387.4 L420.5 389.2 L421.3 389.9 L421.9 390.3 L423.5 391.4 L424 391.5 L425.7 392.2 L426.3 391.9 L427.9 392.5 L428.6 392.1 L430.1 392.7 L431.4 393.4 L432.6 394.2 L433.2 394.1 L434.3 395.2 L435.1 396.4 L436.1 398.6 L436.6 400 L437.2 402 L437.5 403.7 L437.2 405 L437 407 L436.8 409.2 L436.5 411 L435.7 412.1 L435.5 414.7 L434.6 416.1 L433.9 417.5 L434 420 L434.4 421.8 L435.1 423.6 L436 424.9 L437.7 426.5 L439.1 427.5 L440.7 428.5 L442.8 430 L444.6 431.3 L446.5 432.5 L448.7 433.9 L450.3 434.8 L452.1 435.8 L454 437 L456.2 438.5 L457.8 439.4 L460.4 441.2 L462.9 443.1 L464.5 444 L466.8 446 L468 447 L469.9 449 L470.6 450 L471.9 452 L472.2 452.9 L473.2 454.7 L474.3 456.4 L475.3 458.1 L475.8 459 L477 460.6 L478.3 462.2 L479.7 463.9 L480.4 464.9 L482 467.3 L482.7 468.7 L483.2 470.2 L483.6 471.8 L483.9 473.4 L484.3 475 L484.9 476.5 L485.6 478 L487.3 480.8 L488.9 482.2 L491.4 483.6 L494.6 486.3 L496.4 487.6 L498.1 489 L500.4 491.7 L502 493.1 L503.4 494.4 L505.2 497.2 L505.9 498.6 L506.2 500 L506.8 502.9 L506.7 504.4 L506.6 505.9 L506.5 507.4 L506.6 510.4 L506.3 512 L506 513.6 L505.6 515.2 L505.3 516.9 L505.5 520.2 L505.4 521.9 L505.5 523.5 L505.7 525 L506.4 528 L506.8 529.5 L507.2 530.9 L507.8 533.6 L507.7 534.9 L507.8 537 L507.9 539.3 L507.5 540.6 L507.2 542 L507.1 543.5 L507.1 545 L506.3 545.8 L506.4 547.2 L506.5 548.7 L505.8 549.5 L506.2 550.9 L505.5 551.6 L505.7 553.2 L505.7 554.9 L504.9 555.8 L504.8 557.6 L504.5 559.7 L503.3 560.8 L502 562 L501.5 564.9 L500.4 566.6 L499.4 568.2 L498.5 569.9 L497.6 571.5 L497.2 574 L497.1 576 L496.5 577.2 L496.8 579.1 L496.8 580.4 L497.1 583.4 L497.1 585 L497.2 586.7 L497.3 588.3 L497.4 590 L497.7 591.8 L498.1 594.7 L498.4 596.7 L498.5 597.8 L499 601.4 L499.1 602.9"/>
<path d="M-16 303.6 L-14.7 303.2 L-12.9 302.7 L-10.7 302.1 L-9.5 301.8 L-7.1 301.1 L-4.7 300.4 L-3.6 300 L-1.6 299.5 L-0 299.2 L2.7 298.6 L4.4 298.3 L6.4 298.1 L8.5 297.9 L10.6 297.6 L11.9 297.5 L13.9 297.1 L16 296.9 L18.4 296.8 L20.1 296.8 L21.7 296.8 L23.9 296.6 L25.9 296.4 L27.5 296.3 L29.7 296.3 L31.1 296.3 L34.2 296.5 L35.8 296.5 L37.4 296.5 L40 296.6 L41.9 296.6 L44 296.5 L46 296.2 L47.5 295.7 L49.8 295.6 L52 295.5 L54.1 295.6 L55.5 295.6 L57.5 295.6 L59.5 295.6 L61.6 295.5 L63.8 295.3 L65.4 295.3 L67.8 295 L69.4 294.7 L71.5 294.1 L73.6 293.4 L75.7 292.8 L77.2 292.3 L79.5 291.6 L81 291.2 L83.3 290.3 L84.8 289.7 L87 288.8 L88.3 288.2 L90.2 287.2 L92 286.2 L93.8 285.2 L95.7 284.3 L97.7 283.3 L99.9 282.4 L101.5 281.8 L103.8 281 L105.2 280.6 L107.5 280.2 L109.8 280.1 L111.3 280.3 L113.6 280.8 L115.7 281.4 L117.5 282.3 L119.3 283.4 L121.4 284.5 L122.9 285.4 L124.5 286.2 L126.7 287.2 L128.2 287.9 L130.4 288.8 L132 289.4 L133.8 289.8 L135.8 290.3 L137.8 290.8 L140 291.4 L142.4 292.1 L143.6 292.7 L146.2 293.5 L147.5 294.1 L150 295 L151.2 295.7 L153.5 296.6 L155.9 297.4 L157.1 298.1 L160 299.1 L161.6 299.7 L163.4 300.4 L165.3 301.1 L167.2 301.8 L169.2 302.5 L171.1 303.3 L173.1 304 L175 304.6 L176.9 305.3 L178.8 305.8 L180.6 306.4 L182.5 306.9 L184.4 307.4 L186.2 307.9 L188.1 308.5 L190 309 L191.9 309.6 L193.7 310.2 L195.5 310.8 L199.2 311.7 L201.1 312.4 L203 313 L205 313.7 L207 314.5 L208.1 315 L210.1 315.8 L212.2 316.5 L214.4 317.2 L216.5 318 L218.7 318.7 L219.8 319.2 L222 319.9 L224.3 320.6 L226.6 321.4 L227.8 321.8 L230.2 322.5 L231.4 322.9 L233.8 323.5 L236 324.1 L238.1 324.5 L240 324.8 L241.6 325 L243.1 325.1 L245.5 325.4 L247.7 325.6 L250 326.1 L251.2 326.5 L253.8 327.3 L255 327.8 L257.5 328.8 L258.8 329.4 L261.2 330.5 L262.5 331.2 L263.8 331.9 L266.2 333.3 L267.5 334 L270 335.4 L271.2 336 L273.8 337.1 L275 337.7 L276.2 338.2 L278.8 339.2 L280 339.7 L282.5 340.7 L283.8 341.1 L286.2 342 L287.5 342.3 L290 343.2 L291.2 343.5 L293.6 344.5 L294.8 344.9 L297.3 345.8 L298.6 346.3 L301.5 347.2 L303 347.7 L304.7 348.3 L306.3 348.8 L308 349.3 L309.7 349.8 L313 350.5 L314.6 350.9 L316.2 351.1 L317.7 351.3 L320.8 351.6 L322.5 351.8 L324.2 352 L326 352.2 L329 352.6 L330.1 352.7 L332.3 353 L334.5 353.2 L336.7 353.5 L338.9 353.7 L340 353.7 L343 353.9 L344.8 353.9 L346.4 353.9 L348 353.9 L349.5 353.9 L352.6 354 L354.2 354.2 L355.8 354.5 L357.5 354.9 L359.1 355.4 L360.6 355.9 L362.1 356.4 L363.5 356.9 L363.6 357.2 L364.6 357.5 L364.6 357.6 L367.1 358 L367.7 358 L368.2 357.9 L368.7 357.8 L370.6 358.2 L371.1 358.2 L372.9 359 L373.5 359.2 L374.2 359.6 L376 360.9 L377.1 361.4 L379.5 362.8 L381.1 363.3 L382.7 363.6 L385.7 364.8 L387.5 365.2 L389.2 365.5 L391 365.8 L392.6 366.3 L395.5 367.9 L397.1 368.5 L398.6 369.2 L400 370 L401.5 370.9 L403 371.7 L404.6 372.5 L407.2 373.9 L409.1 374.7 L411 375.5 L413 376.3 L415 377.2 L416.1 377.4 L417.9 378.2 L419.4 379.1 L422 381.1 L423.2 382 L425.1 384 L425.5 385.3 L425.4 386.7 L426.1 389.1 L425.4 390.3 L425.7 392.2 L425 392.8 L425.2 393.9 L424.7 393.8 L425.1 394.4 L425.4 395 L425.6 395.5 L425.4 395.2 L425.7 395.8 L426.1 396.7 L427 398.7 L427.7 400 L429.7 402 L432.8 403.7 L436.2 405 L439.9 407 L443.2 409.2 L445.8 411 L448.3 412.1 L451.4 414.7 L453.9 416.1 L456 417.5 L458.3 420 L459.8 421.8 L460.9 423.6 L461.8 424.9 L463.1 426.5 L464 427.5 L464.9 428.5 L466.3 430 L467.4 431.3 L468.7 432.5 L470.3 433.9 L471.5 434.8 L472.7 435.8 L473.8 437 L475.1 438.5 L475.5 439.4 L476.8 441.2 L478.2 443.1 L478.8 444 L480.3 446 L481.1 447 L482.8 449 L483.8 450 L485.5 452 L486.5 452.9 L488.2 454.7 L489.9 456.4 L491.5 458.1 L492.4 459 L494 460.6 L495.5 462.2 L497.1 463.9 L498.1 464.9 L500.2 467.3 L501.5 468.7 L502.8 470.2 L504.1 471.8 L505.3 473.4 L506.3 475 L507.1 476.5 L507.6 478 L508.5 480.8 L507.9 482.2 L506.8 483.6 L506.1 486.3 L505 487.6 L504.2 489 L504.6 491.7 L505 493.1 L505.8 494.4 L507.5 497.2 L508.5 498.6 L509.3 500 L510.3 502.9 L510.8 504.4 L511.2 505.9 L511.5 507.4 L512.2 510.4 L512.7 512 L513.1 513.6 L513.7 515.2 L514.3 516.9 L515.4 520.2 L516.3 521.9 L517.3 523.5 L518.4 525 L519.7 528 L520.6 529.5 L521.3 530.9 L522.2 533.6 L522.4 534.9 L522.8 537 L523.3 539.3 L523.3 540.6 L523.4 542 L523.6 543.5 L524.1 545 L523.7 545.8 L524.2 547.2 L524.7 548.7 L524.2 549.5 L524.8 550.9 L524.3 551.6 L524.7 553.2 L525 554.9 L524.3 555.8 L524.4 557.6 L524.4 559.7 L523.3 560.8 L522.1 562 L521.6 564.9 L520.4 566.6 L519.2 568.2 L518 569.9 L516.8 571.5 L516.2 574 L515.8 576 L515 577.2 L515.2 579.1 L515.1 580.4 L515.3 583.4 L515.2 585 L515.2 586.7 L515.3 588.3 L515.5 590 L515.8 591.8 L516.4 594.7 L516.9 596.7 L517.3 597.8 L518.2 601.4 L518.6 602.9"/>
<path d="M-16 301.8 L-14.7 301.4 L-12.9 300.8 L-10.7 300 L-9.5 299.5 L-7.1 298.7 L-4.7 297.8 L-3.6 297.3 L-1.6 296.7 L-0 296.6 L2.7 296.2 L4.4 296.2 L6.4 296.3 L8.5 296.5 L10.6 296.7 L11.9 297 L13.9 297.1 L16 297.3 L18.4 297.6 L20.1 298 L21.7 298.2 L23.9 298.2 L25.9 298 L27.5 297.6 L29.7 297.1 L31.1 296.5 L34.2 296.1 L35.8 296 L37.4 296 L40 296.4 L41.9 296.8 L44 297.4 L46 298 L47.5 298.6 L49.8 299.4 L52 300 L54.1 300.3 L55.5 300.5 L57.5 300.7 L59.5 300.7 L61.6 300.5 L63.8 300.3 L65.4 300.2 L67.8 299.9 L69.4 299.6 L71.5 299 L73.6 298.4 L75.7 297.8 L77.2 297.4 L79.5 296.7 L81 296.1 L83.3 295.2 L84.8 294.3 L87 292.8 L88.3 291.4 L90.2 289.6 L92 287.8 L93.8 286.2 L95.7 284.8 L97.7 283.7 L99.9 282.6 L101.5 281.8 L103.8 281 L105.2 280.5 L107.5 280.1 L109.8 280 L111.3 280.3 L113.6 280.9 L115.7 282 L117.5 283.3 L119.3 284.9 L121.4 286.6 L122.9 287.9 L124.5 289.4 L126.7 291.2 L128.2 292.7 L130.4 294.5 L132 295.7 L133.8 296.7 L135.8 297.6 L137.8 298.3 L140 298.9 L142.4 299.6 L143.6 300.1 L146.2 300.9 L147.5 301.6 L150 302.6 L151.2 303.6 L153.5 304.7 L155.9 305.9 L157.1 306.9 L160 308 L161.6 308.7 L163.4 309.3 L165.3 309.8 L167.2 310.3 L169.2 310.6 L171.1 310.9 L173.1 311.2 L175 311.4 L176.9 311.6 L178.8 311.9 L180.6 312.2 L182.5 312.5 L184.4 312.8 L186.2 313.1 L188.1 313.5 L190 313.8 L191.9 314.2 L193.7 314.5 L195.5 314.9 L199.2 315.7 L201.1 316.1 L203 316.7 L205 317.4 L207 318.4 L208.1 319.3 L210.1 320.6 L212.2 322 L214.4 323.4 L216.5 324.8 L218.7 326 L219.8 326.9 L222 327.9 L224.3 328.9 L226.6 330 L227.8 330.9 L230.2 332 L231.4 332.9 L233.8 334 L236 335 L238.1 335.8 L240 336.5 L241.6 336.9 L243.1 337.2 L245.5 337.4 L247.7 337.5 L250 337.7 L251.2 337.6 L253.8 337.9 L255 337.8 L257.5 338.2 L258.8 338.2 L261.2 338.9 L262.5 339.1 L263.8 339.4 L266.2 340.5 L267.5 341 L270 342.2 L271.2 342.6 L273.8 343.6 L275 343.9 L276.2 344.2 L278.8 344.9 L280 345.1 L282.5 345.6 L283.8 345.6 L286.2 346.1 L287.5 346.1 L290 346.5 L291.2 346.6 L293.6 347.2 L294.8 347.3 L297.3 348 L298.6 348.2 L301.5 348.8 L303 349.1 L304.7 349.3 L306.3 349.6 L308 349.9 L309.7 350.2 L313 350.8 L314.6 351 L316.2 351.2 L317.7 351.3 L320.8 351.5 L322.5 351.6 L324.2 351.6 L326 351.6 L329 351.8 L330.1 351.7 L332.3 351.8 L334.5 351.8 L336.7 351.9 L338.9 352 L340 352 L343 352.3 L344.8 352.4 L346.4 352.6 L348 352.7 L349.5 352.9 L352.6 353.1 L354.2 353.3 L355.8 353.5 L357.5 353.7 L359.1 353.8 L360.8 353.9 L362.4 353.9 L363.9 353.9 L364.2 353.6 L365.6 353.4 L365.8 353.1 L368.7 353.2 L369.5 353 L370.4 352.8 L371.2 352.7 L373.4 352.9 L374.1 352.9 L376.2 353.7 L377 353.9 L377.9 354.3 L379.9 355.5 L381.1 356 L383.6 357.4 L385.1 357.9 L386.7 358.4 L389.6 359.7 L391.3 360.1 L393 360.6 L394.6 361.1 L396.3 361.6 L399.1 363.3 L400.6 364.1 L402 364.9 L403.4 365.9 L404.7 366.9 L406.1 368 L407.4 369.2 L409.4 371.3 L410.6 372.9 L411.9 374.5 L413.1 376.3 L414.3 378 L414.7 378.9 L415.9 380.4 L417.1 381.7 L419.6 383.8 L420.9 384.6 L423.3 386 L424.8 386 L426.3 385.8 L428.8 386.5 L430.3 386.3 L432.7 387.2 L433.8 387.3 L435.4 388.6 L435.8 389 L436.8 390.4 L437.4 391.8 L438 393.1 L438 393.5 L438.6 394.8 L439.3 396.2 L440.5 398.5 L441.6 400 L443.4 402 L445.3 403.7 L447 405 L449.1 407 L451.2 409.2 L453.4 411 L455.3 412.1 L459.2 414.7 L463.3 416.1 L467.1 417.5 L470.5 420 L471.9 421.8 L472.5 423.6 L472.9 424.9 L473.8 426.5 L474.2 427.5 L474.8 428.5 L475.8 430 L476.7 431.3 L477.7 432.5 L479.2 433.9 L480.2 434.8 L481.1 435.8 L481.9 437 L482.7 438.5 L482.6 439.4 L483.4 441.2 L484.3 443.1 L484.3 444 L485.3 446 L485.6 447 L487 449 L487.8 450 L490.1 452 L492 452.9 L495 454.7 L498.3 456.4 L501.9 458.1 L504.9 459 L508.6 460.6 L511.9 462.2 L515.4 463.9 L518.3 464.9 L522.3 467.3 L525.6 468.7 L528.8 470.2 L531.9 471.8 L534.6 473.4 L537 475 L538.9 476.5 L540.4 478 L542 480.8 L541.8 482.2 L539.2 483.6 L536.5 486.3 L534.9 487.6 L533.6 489 L532.9 491.7 L531.7 493.1 L530.8 494.4 L530.9 497.2 L530.8 498.6 L531.3 500 L532.5 502.9 L533.3 504.4 L534.2 505.9 L535 507.4 L536.2 510.4 L537.1 512 L537.9 513.6 L538.7 515.2 L539.5 516.9 L540.7 520.2 L541.8 521.9 L543 523.5 L544.5 525 L546.4 528 L547.9 529.5 L549.4 530.9 L551.2 533.6 L552.5 534.9 L554 537 L555.6 539.3 L556.7 540.6 L557.6 542 L558.5 543.5 L559.3 545 L559.1 545.8 L559.7 547.2 L560.3 548.7 L559.8 549.5 L560.5 550.9 L560.1 551.6 L560.8 553.2 L561.6 554.9 L561.5 555.8 L562.1 557.6 L562.8 559.7 L562.7 560.8 L562.7 562 L563.5 564.9 L563.7 566.6 L563.8 568.2 L563.8 569.9 L563.8 571.5 L564.1 574 L564.5 576 L564.3 577.2 L564.4 579.1 L564.2 580.4 L564.3 583.4 L564.2 585 L564.2 586.7 L564.3 588.3 L564.6 590 L565.1 591.8 L566 594.7 L566.9 596.7 L567.6 597.8 L568.8 601.4 L569.5 602.9"/>
<path d="M-16 301.6 L-14.7 301.3 L-12.9 300.7 L-10.7 300 L-9.5 299.5 L-7.1 298.5 L-4.7 297.6 L-3.6 297 L-1.6 296.4 L-0 296.1 L2.7 295.6 L4.4 295.4 L6.4 295.4 L8.5 295.5 L10.6 295.7 L11.9 296 L13.9 296.1 L16 296.6 L18.4 297.4 L20.1 298.4 L21.7 299.2 L23.9 299.5 L25.9 299.3 L27.5 298.7 L29.7 297.6 L31.1 296.3 L34.2 295.2 L35.8 294.2 L37.4 293.7 L40 293.4 L41.9 293.1 L44 293 L46 293 L47.5 293 L49.8 293.4 L52 293.8 L54.1 294.2 L55.5 294.5 L57.5 294.9 L59.5 295.2 L61.6 295.4 L63.8 295.5 L65.4 295.6 L67.8 295.5 L69.4 295.5 L71.5 295.1 L73.6 294.8 L75.7 294.7 L77.2 294.7 L79.5 294.6 L81 294.5 L83.3 293.9 L84.8 293.3 L87 292 L88.3 290.6 L90.2 288.8 L92 286.7 L93.8 284.6 L95.7 282.5 L97.7 280.7 L99.9 278.9 L101.5 277.4 L103.8 276 L105.2 275 L107.5 274.3 L109.8 274.1 L111.3 274.4 L113.6 275.2 L115.7 276.3 L117.5 277.7 L119.3 279.3 L121.4 281 L122.9 282.4 L124.5 283.7 L126.7 285.5 L128.2 286.8 L130.4 288.4 L132 289.4 L133.8 290.2 L135.8 290.9 L137.8 291.4 L140 291.8 L142.4 292.2 L143.6 292.5 L146.2 293 L147.5 293.2 L150 293.8 L151.2 294.1 L153.5 294.7 L155.9 295.3 L157.1 295.7 L160 296.5 L161.6 296.9 L163.4 297.3 L165.3 297.6 L167.2 298 L169.2 298.3 L171.1 298.6 L173.1 299 L175 299.4 L176.9 299.9 L178.8 300.5 L180.6 301.1 L182.5 301.7 L184.4 302.3 L186.2 302.9 L188.1 303.3 L190 303.6 L191.9 303.9 L193.7 304 L195.5 304.1 L199.2 304.5 L201.1 304.5 L203 304.7 L205 305 L207 305.4 L208.1 305.8 L210.1 306.4 L212.2 307.1 L214.4 307.9 L216.5 308.8 L218.7 309.7 L219.8 310.4 L222 311.4 L224.3 312.4 L226.6 313.5 L227.8 314.4 L230.2 315.6 L231.4 316.4 L233.8 317.4 L236 318.3 L238.1 319 L240 319.6 L241.6 319.8 L243.1 320 L245.5 320.2 L247.7 320.4 L250 320.9 L251.2 321.3 L253.8 322.1 L255 322.7 L257.5 323.8 L258.8 324.4 L261.2 325.7 L262.5 326.4 L263.8 327.1 L266.2 328.4 L267.5 329 L270 330.1 L271.2 330.4 L273.8 331.3 L275 331.6 L276.2 331.9 L278.8 332.8 L280 333.3 L282.5 334.3 L283.8 334.8 L286.2 335.8 L287.5 336.3 L290 337.3 L291.2 337.8 L293.6 338.8 L294.8 339.3 L297.3 340.2 L298.6 340.5 L301.5 341.3 L303 341.7 L304.7 342 L306.3 342.4 L308 342.8 L309.7 343.1 L313 343.8 L314.6 344.2 L316.2 344.5 L317.7 344.9 L320.8 345.4 L322.5 345.8 L324.2 346.2 L326 346.7 L329 347.4 L330.1 347.9 L332.3 348.4 L334.5 349 L336.7 349.5 L338.9 349.9 L340 350.1 L343 350.5 L344.8 350.7 L346.4 350.9 L348 351.1 L349.5 351.3 L352.6 351.7 L354.2 352.2 L355.8 352.8 L357.5 353.5 L359.1 354.2 L360.7 354.9 L362.2 355.5 L363.6 356.1 L363.7 356.4 L364.8 356.7 L364.8 356.7 L367.4 357.1 L368 357.2 L368.5 357.3 L368.9 357.5 L370.6 358.1 L370.9 358.5 L372.5 359.7 L372.7 360.4 L373 361.3 L374.4 363.1 L375 364.2 L377 366.1 L378.1 367.2 L379.3 368.1 L382 369.8 L383.3 370.6 L384.7 371.4 L386.2 372.1 L387.6 372.8 L390.3 374.6 L391.7 375.4 L393 376.2 L394.4 377.1 L395.7 378 L396.9 379.1 L398.1 380.4 L400.1 382.4 L401.3 384 L402.4 385.7 L403.6 387.4 L404.7 389.1 L405 390.1 L406.2 391.6 L407.4 392.9 L409.8 394.9 L411.1 395.7 L413.6 397 L414.7 396.9 L415.7 396.5 L417.6 396.8 L418.3 396.1 L420 396.3 L420.4 395.6 L421.5 395.8 L421.5 395.2 L422 395.5 L422.5 395.8 L422.9 396.1 L423 395.5 L423.6 396 L424.4 396.8 L425.5 398.7 L426.3 400 L427.2 402 L428 403.7 L428.2 405 L428.6 407 L428.8 409.2 L428.9 411 L428.5 412.1 L428.6 414.7 L428.2 416.1 L427.8 417.5 L428.3 420 L428.9 421.8 L429.8 423.6 L430.7 424.9 L432.4 426.5 L433.8 427.5 L435.4 428.5 L437.6 430 L439.7 431.3 L441.9 432.5 L444.4 433.9 L446.5 434.8 L448.7 435.8 L450.9 437 L453.3 438.5 L454.9 439.4 L457.3 441.2 L459.5 443.1 L460.5 444 L462.1 446 L462.6 447 L463.7 449 L463.6 450 L464.1 452 L463.5 452.9 L463.7 454.7 L463.7 456.4 L463.7 458.1 L462.9 459 L462.9 460.6 L462.7 462.2 L462.7 463.9 L462 464.9 L462.1 467.3 L461.2 468.7 L460.4 470.2 L459.7 471.8 L459.1 473.4 L458.8 475 L458.7 476.5 L459 478 L460.2 480.8 L461.1 482.2 L462.6 483.6 L465 486.3 L467.1 487.6 L469.3 489 L472.1 491.7 L474.4 493.1 L477.5 494.4 L481.3 497.2 L483.7 498.6 L484.7 500 L485.5 502.9 L485.5 504.4 L485.2 505.9 L484.9 507.4 L484.9 510.4 L484.6 512 L484.5 513.6 L484.7 515.2 L485.2 516.9 L486.4 520.2 L487.6 521.9 L489.1 523.5 L490.6 525 L492.6 528 L494.1 529.5 L495.4 530.9 L496.8 533.6 L497.6 534.9 L498.6 537 L499.8 539.3 L500.4 540.6 L501.2 542 L502.3 543.5 L503.7 545 L504.4 545.8 L506.2 547.2 L508.1 548.7 L509.1 549.5 L511.2 550.9 L512.1 551.6 L513.9 553.2 L515.3 554.9 L515.5 555.8 L516.2 557.6 L516.6 559.7 L516.1 560.8 L515.7 562 L516 564.9 L515.6 566.6 L515.4 568.2 L515.3 569.9 L515.3 571.5 L515.9 574 L516.7 576 L517.2 577.2 L517.9 579.1 L518.5 580.4 L519.4 583.4 L519.9 585 L520.4 586.7 L520.9 588.3 L521.3 590 L521.6 591.8 L522 594.7 L522.1 596.7 L521.9 597.8 L522.1 601.4 L522 602.9"/>
<path d="M-16 299.6 L-14.7 299.3 L-12.9 298.8 L-10.7 298.1 L-9.5 297.9 L-7.1 297.2 L-4.7 296.4 L-3.6 296 L-1.6 295.3 L-0 294.9 L2.7 294 L4.4 293.5 L6.4 293.1 L8.5 292.8 L10.6 292.7 L11.9 292.7 L13.9 292.7 L16 293 L18.4 293.5 L20.1 294.1 L21.7 294.7 L23.9 295 L25.9 295.2 L27.5 295.3 L29.7 295.4 L31.1 295.4 L34.2 295.5 L35.8 295.4 L37.4 295.1 L40 295 L41.9 294.7 L44 294.4 L46 293.9 L47.5 293.3 L49.8 293.2 L52 293.6 L54.1 294.1 L55.5 294.7 L57.5 295.4 L59.5 296.1 L61.6 296.8 L63.8 297.5 L65.4 298.2 L67.8 298.6 L69.4 298.9 L71.5 299 L73.6 298.8 L75.7 298.5 L77.2 298.4 L79.5 297.8 L81 297.2 L83.3 296.2 L84.8 295.3 L87 293.6 L88.3 291.8 L90.2 289.6 L92 287.5 L93.8 285.8 L95.7 284.3 L97.7 282.8 L99.9 281.4 L101.5 280.3 L103.8 279.3 L105.2 278.7 L107.5 278.4 L109.8 278.4 L111.3 278.8 L113.6 279.5 L115.7 280.5 L117.5 281.8 L119.3 283.2 L121.4 284.8 L122.9 286 L124.5 287.3 L126.7 289 L128.2 290.4 L130.4 292.1 L132 293.3 L133.8 294.2 L135.8 294.9 L137.8 295.4 L140 296 L142.4 296.7 L143.6 297.2 L146.2 297.9 L147.5 298.5 L150 299.2 L151.2 299.7 L153.5 300.2 L155.9 300.7 L157.1 300.9 L160 301.4 L161.6 301.7 L163.4 302.1 L165.3 302.5 L167.2 302.9 L169.2 303.4 L171.1 303.9 L173.1 304.3 L175 304.7 L176.9 305 L178.8 305.4 L180.6 305.9 L182.5 306.4 L184.4 306.8 L186.2 307.3 L188.1 307.7 L190 308.1 L191.9 308.4 L193.7 308.5 L195.5 308.6 L199.2 309.1 L201.1 309.2 L203 309.5 L205 309.8 L207 310.3 L208.1 310.6 L210.1 311.2 L212.2 311.8 L214.4 312.4 L216.5 313 L218.7 313.7 L219.8 314.2 L222 315.1 L224.3 316 L226.6 317.1 L227.8 318 L230.2 319.2 L231.4 320 L233.8 321 L236 321.9 L238.1 322.6 L240 323 L241.6 323.3 L243.1 323.5 L245.5 323.7 L247.7 323.9 L250 324.1 L251.2 324.2 L253.8 324.7 L255 324.8 L257.5 325.4 L258.8 325.6 L261.2 326.6 L262.5 327.2 L263.8 327.8 L266.2 329.2 L267.5 329.9 L270 331.2 L271.2 331.7 L273.8 332.7 L275 333.1 L276.2 333.4 L278.8 334.3 L280 334.6 L282.5 335.4 L283.8 335.7 L286.2 336.4 L287.5 336.5 L290 337.1 L291.2 337.1 L293.6 337.8 L294.8 338 L297.3 338.7 L298.6 339 L301.5 339.8 L303 340.1 L304.7 340.4 L306.3 340.7 L308 341 L309.7 341.2 L313 341.6 L314.6 341.7 L316.2 341.8 L317.7 341.9 L320.8 342.1 L322.5 342.1 L324.2 342.1 L326 342 L329 342.1 L330.1 341.9 L332.3 341.9 L334.5 341.9 L336.7 342 L338.9 342.1 L340 342.2 L343 342.5 L344.8 342.7 L346.4 342.8 L348 342.8 L349.5 342.9 L352.6 343.1 L354.2 343.2 L355.9 343.5 L357.7 343.8 L359.6 344.2 L361.4 344.6 L363.3 345 L365.1 345.2 L365.7 345.3 L367.4 345.3 L367.9 345.2 L371.1 345.6 L372.3 345.6 L373.4 345.7 L374.4 345.8 L376.8 346.5 L377.6 346.9 L379.8 348 L380.6 348.5 L381.5 349.2 L383.4 350.7 L384.4 351.5 L386.7 353.3 L387.9 354.1 L389.3 354.9 L392 356.5 L393.5 357.2 L395.2 357.7 L396.9 358.2 L398.6 358.6 L401.7 360 L403.4 360.6 L405 361.2 L406.5 362 L407.9 363 L409.2 364.2 L410.5 365.5 L412.6 367.5 L414 368.9 L415.4 370.4 L416.8 372 L418 373.6 L418.4 374.7 L419.4 376.4 L420.3 378.1 L422.4 380.7 L423.1 382.1 L424.9 384.2 L425.5 385.2 L426.1 386.1 L427.6 387.7 L428 388.2 L429.3 389.6 L429.5 390 L430.4 391.2 L430.4 391.4 L431 392.4 L431.4 393.4 L431.8 394.3 L431.6 394.3 L432 395.3 L432.2 396.5 L432.6 398.6 L432.7 400 L433.3 402 L434.1 403.7 L434.9 405 L436.2 407 L437.8 409.2 L439.5 411 L440.8 412.1 L442.8 414.7 L443.8 416.1 L444.5 417.5 L445.5 420 L446.5 421.8 L447.6 423.6 L448.8 424.9 L450.5 426.5 L452 427.5 L453.4 428.5 L455.1 430 L456.4 431.3 L457.5 432.5 L458.7 433.9 L459.4 434.8 L460.3 435.8 L461.3 437 L462.7 438.5 L463.5 439.4 L465.3 441.2 L467.1 443.1 L468 444 L469.8 446 L470.6 447 L472.2 449 L473 450 L474.6 452 L475.3 452.9 L476.8 454.7 L478.1 456.4 L479.3 458.1 L479.6 459 L480.4 460.6 L481 462.2 L481.8 463.9 L482 464.9 L483.5 467.3 L484.4 468.7 L485.5 470.2 L486.8 471.8 L488.2 473.4 L489.4 475 L490.4 476.5 L491.2 478 L492.4 480.8 L491.7 482.2 L490.6 483.6 L489.9 486.3 L489 487.6 L488.8 489 L489.4 491.7 L489.3 493.1 L489.1 494.4 L489.5 497.2 L489.6 498.6 L489.9 500 L490.7 502.9 L491.3 504.4 L492.2 505.9 L493.2 507.4 L494.6 510.4 L495.8 512 L497 513.6 L498.3 515.2 L499.5 516.9 L501.3 520.2 L502.8 521.9 L504.8 523.5 L507.3 525 L510.5 528 L513.3 529.5 L515.8 530.9 L518.2 533.6 L519.7 534.9 L520.8 537 L521.6 539.3 L521.2 540.6 L520.4 542 L519.1 543.5 L517.6 545 L514.9 545.8 L512.7 547.2 L510.4 548.7 L507 549.5 L504.9 550.9 L502 551.6 L500.6 553.2 L500.2 554.9 L498.8 555.8 L498.2 557.6 L497.3 559.7 L495.5 560.8 L493.4 562 L492 564.9 L489.7 566.6 L487.5 568.2 L485.4 569.9 L483.6 571.5 L482.5 574 L481.8 576 L480.9 577.2 L481.2 579.1 L481.2 580.4 L481.5 583.4 L481.6 585 L481.8 586.7 L482.2 588.3 L482.9 590 L483.7 591.8 L484.8 594.7 L485.7 596.7 L486.3 597.8 L487.1 601.4 L487.4 602.9"/>
<path d="M-16 299.8 L-14.7 299.4 L-12.9 298.8 L-10.7 298 L-9.5 297.5 L-7.1 296.6 L-4.7 295.7 L-3.6 295.2 L-1.6 294.6 L-0 294.5 L2.7 294.2 L4.4 294.3 L6.4 294.4 L8.5 294.3 L10.6 293.9 L11.9 293.6 L13.9 292.9 L16 292.2 L18.4 291.7 L20.1 291.3 L21.7 291 L23.9 290.7 L25.9 290.5 L27.5 290.5 L29.7 290.7 L31.1 291 L34.2 291.4 L35.8 291.5 L37.4 291.7 L40 291.8 L41.9 291.9 L44 291.7 L46 291.3 L47.5 290.8 L49.8 290.7 L52 290.8 L54.1 291.1 L55.5 291.3 L57.5 291.6 L59.5 291.8 L61.6 292 L63.8 292.1 L65.4 292.4 L67.8 292.4 L69.4 292.5 L71.5 292.3 L73.6 292.1 L75.7 291.9 L77.2 292 L79.5 291.8 L81 291.6 L83.3 291.1 L84.8 290.6 L87 289.8 L88.3 289.2 L90.2 288.2 L92 287.1 L93.8 286.1 L95.7 285 L97.7 284 L99.9 283 L101.5 282 L103.8 280.7 L105.2 279.5 L107.5 278.5 L109.8 277.9 L111.3 277.8 L113.6 278 L115.7 278.5 L117.5 279.4 L119.3 280.4 L121.4 281.6 L122.9 282.5 L124.5 283.4 L126.7 284.4 L128.2 285.1 L130.4 286.2 L132 286.9 L133.8 287.6 L135.8 288.4 L137.8 289.3 L140 290.4 L142.4 291.5 L143.6 292.5 L146.2 293.6 L147.5 294.5 L150 295.4 L151.2 296.1 L153.5 296.8 L155.9 297.4 L157.1 297.8 L160 298.5 L161.6 298.8 L163.4 299.1 L165.3 299.5 L167.2 300 L169.2 300.5 L171.1 301 L173.1 301.5 L175 302 L176.9 302.5 L178.8 303 L180.6 303.4 L182.5 303.8 L184.4 304.1 L186.2 304.4 L188.1 304.8 L190 305.1 L191.9 305.4 L193.7 305.8 L195.5 306.2 L199.2 306.9 L201.1 307.3 L203 307.8 L205 308.4 L207 309.2 L208.1 309.9 L210.1 311 L212.2 312.2 L214.4 313.5 L216.5 314.8 L218.7 316.2 L219.8 317.2 L222 318.4 L224.3 319.4 L226.6 320.6 L227.8 321.4 L230.2 322.4 L231.4 323.1 L233.8 324 L236 324.9 L238.1 325.6 L240 326.2 L241.6 326.7 L243.1 327.1 L245.5 327.4 L247.7 327.7 L250 328.2 L251.2 328.4 L253.8 329 L255 329.3 L257.5 330 L258.8 330.4 L261.2 331.3 L262.5 331.9 L263.8 332.5 L266.2 333.8 L267.5 334.5 L270 335.8 L271.2 336.3 L273.8 337.3 L275 337.7 L276.2 338.1 L278.8 339 L280 339.5 L282.5 340.4 L283.8 340.9 L286.2 341.9 L287.5 342.4 L290 343.4 L291.2 344 L293.6 345 L294.8 345.5 L297.3 346.4 L298.6 346.8 L301.5 347.4 L303 347.6 L304.7 347.7 L306.3 347.7 L308 347.7 L309.7 347.7 L313 347.9 L314.6 347.8 L316.2 347.5 L317.7 347.2 L320.8 347 L322.5 346.7 L324.2 346.5 L326 346.4 L329 346.5 L330.1 346.3 L332.3 346.4 L334.5 346.6 L336.7 346.8 L338.9 347 L340 347 L343 347.2 L344.8 347.3 L346.4 347.4 L348 347.4 L349.5 347.5 L352.6 347.7 L354.2 347.9 L355.9 348.3 L357.6 348.8 L359.3 349.3 L361.1 349.9 L362.7 350.5 L364.3 351 L364.6 351.4 L365.9 351.8 L366.1 352 L368.9 352.6 L369.6 352.8 L370.3 352.9 L370.9 353.2 L372.8 354 L373.2 354.5 L374.9 355.8 L375.3 356.5 L375.8 357.3 L377.5 358.9 L378.3 359.8 L380.5 361.4 L381.9 362.2 L383.2 363 L385.9 364.7 L387.2 365.6 L388.5 366.5 L389.7 367.4 L391 368.4 L393.5 370.5 L394.7 371.5 L396 372.4 L397.3 373.4 L398.8 374.2 L400.2 375.1 L401.8 375.9 L404.3 377.4 L406 378.3 L407.9 379.3 L409.7 380.2 L411.6 381.1 L412.7 381.2 L414.6 381.9 L416.5 382.4 L419.6 383.8 L421.5 384 L424.4 384.8 L426.1 384.6 L427.8 384.3 L430.5 385 L432.1 384.8 L434.7 385.7 L436.2 385.8 L438.6 386.9 L439.9 387.3 L441.9 388.6 L443.8 390.1 L445.5 391.6 L446.5 392.4 L447.9 394 L449 395.8 L450.1 398.4 L450.9 400 L451.9 402 L452.7 403.7 L453.2 405 L454 407 L454.9 409.2 L455.9 411 L457 412.1 L459 414.7 L460.4 416.1 L461.8 417.5 L463.4 420 L464.4 421.8 L465.3 423.6 L466.1 424.9 L467.3 426.5 L468.2 427.5 L469.2 428.5 L470.5 430 L471.7 431.3 L472.8 432.5 L474.2 433.9 L475 434.8 L475.7 435.8 L476.3 437 L476.9 438.5 L476.5 439.4 L477 441.2 L477.5 443.1 L477.2 444 L478 446 L478.1 447 L479.2 449 L479.5 450 L480.7 452 L481 452.9 L482 454.7 L483 456.4 L484 458.1 L484.4 459 L485.6 460.6 L486.9 462.2 L488.5 463.9 L489.5 464.9 L491.6 467.3 L493 468.7 L494.5 470.2 L495.9 471.8 L497.2 473.4 L498.4 475 L499.4 476.5 L500.2 478 L501.6 480.8 L502.3 482.2 L503.2 483.6 L504.8 486.3 L505.9 487.6 L507.1 489 L508.9 491.7 L510 493.1 L511.1 494.4 L512.6 497.2 L513.4 498.6 L513.9 500 L514.7 502.9 L515.1 504.4 L515.6 505.9 L516.2 507.4 L517.2 510.4 L518.1 512 L519 513.6 L519.9 515.2 L520.7 516.9 L521.9 520.2 L522.7 521.9 L523.4 523.5 L524.1 525 L525.1 528 L525.7 529.5 L526.3 530.9 L527.1 533.6 L527.6 534.9 L528.3 537 L529.2 539.3 L529.5 540.6 L529.6 542 L529.6 543.5 L529.5 545 L528.5 545.8 L528.3 547.2 L528.2 548.7 L527.3 549.5 L527.7 550.9 L527.1 551.6 L527.8 553.2 L528.5 554.9 L528.4 555.8 L528.8 557.6 L529.1 559.7 L528.6 560.8 L528 562 L528.2 564.9 L527.7 566.6 L527.3 568.2 L527 569.9 L526.8 571.5 L527.1 574 L527.6 576 L527.6 577.2 L528.1 579.1 L528.2 580.4 L528.5 583.4 L528.4 585 L528.3 586.7 L528.3 588.3 L528.3 590 L528.4 591.8 L528.8 594.7 L529.2 596.7 L529.4 597.8 L530.1 601.4 L530.4 602.9"/>
<path d="M-16 298.6 L-14.7 298.2 L-12.9 297.6 L-10.7 296.8 L-9.5 296.3 L-7.1 295.4 L-4.7 294.6 L-3.6 294.1 L-1.6 293.6 L-0 293.7 L2.7 293.5 L4.4 293.7 L6.4 293.9 L8.5 293.8 L10.6 293.6 L11.9 293.5 L13.9 293.3 L16 293.1 L18.4 293.1 L20.1 293.2 L21.7 293.2 L23.9 293 L25.9 292.7 L27.5 292.4 L29.7 292.1 L31.1 291.7 L34.2 291.4 L35.8 291 L37.4 290.6 L40 290.6 L41.9 290.6 L44 290.8 L46 291.1 L47.5 291.4 L49.8 292 L52 292.4 L54.1 292.7 L55.5 292.9 L57.5 293 L59.5 293 L61.6 292.9 L63.8 292.8 L65.4 292.7 L67.8 292.5 L69.4 292.2 L71.5 291.7 L73.6 291 L75.7 290.3 L77.2 289.9 L79.5 289.1 L81 288.6 L83.3 287.7 L84.8 287 L87 285.8 L88.3 284.8 L90.2 283.4 L92 282 L93.8 280.6 L95.7 279.3 L97.7 278 L99.9 276.7 L101.5 275.7 L103.8 274.7 L105.2 274 L107.5 273.4 L109.8 273.2 L111.3 273.3 L113.6 273.7 L115.7 274.5 L117.5 275.5 L119.3 276.7 L121.4 278 L122.9 279.2 L124.5 280.4 L126.7 282 L128.2 283.3 L130.4 285 L132 286 L133.8 286.8 L135.8 287.2 L137.8 287.3 L140 287.2 L142.4 287.2 L143.6 287.2 L146.2 287.4 L147.5 287.6 L150 288.1 L151.2 288.4 L153.5 289.1 L155.9 289.8 L157.1 290.3 L160 291.1 L161.6 291.7 L163.4 292.2 L165.3 292.7 L167.2 293.2 L169.2 293.6 L171.1 294.1 L173.1 294.5 L175 294.9 L176.9 295.4 L178.8 295.9 L180.6 296.3 L182.5 296.8 L184.4 297.3 L186.2 297.7 L188.1 298.2 L190 298.7 L191.9 299.2 L193.7 299.7 L195.5 300.2 L199.2 301.1 L201.1 301.6 L203 302.2 L205 302.8 L207 303.4 L208.1 303.8 L210.1 304.4 L212.2 305 L214.4 305.7 L216.5 306.4 L218.7 307.3 L219.8 307.9 L222 308.9 L224.3 309.9 L226.6 311 L227.8 311.9 L230.2 313.2 L231.4 314.1 L233.8 315.1 L236 316.1 L238.1 316.8 L240 317.3 L241.6 317.6 L243.1 317.7 L245.5 317.9 L247.7 318 L250 318.2 L251.2 318.3 L253.8 318.8 L255 318.9 L257.5 319.6 L258.8 319.9 L261.2 321 L262.5 321.6 L263.8 322.3 L266.2 323.9 L267.5 324.7 L270 326.2 L271.2 326.8 L273.8 327.9 L275 328.3 L276.2 328.7 L278.8 329.5 L280 329.8 L282.5 330.6 L283.8 330.9 L286.2 331.8 L287.5 332.2 L290 333.2 L291.2 333.8 L293.6 334.8 L294.8 335.4 L297.3 336.5 L298.6 337 L301.5 337.9 L303 338.4 L304.7 338.9 L306.3 339.4 L308 339.8 L309.7 340.2 L313 340.8 L314.6 341 L316.2 341.1 L317.7 341.1 L320.8 341.2 L322.5 341.2 L324.2 341.3 L326 341.5 L329 342 L330.1 342.3 L332.3 342.8 L334.5 343.4 L336.7 343.9 L338.9 344.4 L340 344.6 L343 345 L344.8 345 L346.4 345 L348 344.9 L349.5 344.8 L352.6 344.7 L354.2 344.5 L355.9 344.3 L357.7 344.1 L359.6 343.8 L361.5 343.5 L363.5 343.3 L365.4 343 L366.2 342.6 L368.1 342.4 L368.8 342.1 L372.2 342.3 L373.6 342.2 L374.9 342.1 L376.3 341.9 L379.1 342.2 L380.5 342 L383.2 342.5 L384.7 342.5 L386.1 342.6 L388.7 343.6 L390.1 343.9 L392.8 345.1 L394.3 345.7 L395.8 346.3 L398.5 347.9 L399.9 348.8 L401.4 349.6 L402.7 350.6 L404.1 351.5 L406.8 353.5 L408.1 354.5 L409.5 355.6 L410.8 356.6 L412.1 357.8 L413.4 359.1 L414.7 360.4 L416.8 362.4 L418.2 363.9 L419.7 365.4 L421.2 366.9 L422.6 368.3 L423.3 369.1 L424.6 370.5 L425.8 371.9 L428.1 374.2 L429 375.4 L430.9 377.5 L431.8 378.4 L432.9 379.2 L435.1 380.7 L436.5 381.2 L439.1 382.6 L440.6 383.1 L443 384.6 L444.6 385.3 L446.8 387 L448.7 388.8 L450.4 390.7 L451.2 391.7 L452.4 393.7 L453.3 395.6 L454.3 398.4 L454.8 400 L455.5 402 L456 403.7 L456.1 405 L456.4 407 L456.8 409.2 L457.2 411 L457.6 412.1 L459.3 414.7 L461.1 416.1 L463.3 417.5 L466.3 420 L468.6 421.8 L470.6 423.6 L472.6 424.9 L475.1 426.5 L477.1 427.5 L478.9 428.5 L480.9 430 L482.4 431.3 L483.8 432.5 L485.5 433.9 L486.7 434.8 L488.1 435.8 L489.7 437 L491.4 438.5 L492.5 439.4 L494.5 441.2 L496.5 443.1 L497.6 444 L499.6 446 L500.7 447 L502.8 449 L504 450 L506.2 452 L507.5 452.9 L509.5 454.7 L511.5 456.4 L513.5 458.1 L514.6 459 L516.3 460.6 L517.9 462.2 L519.5 463.9 L520.4 464.9 L522.4 467.3 L523.8 468.7 L525.4 470.2 L527.3 471.8 L529.2 473.4 L531.1 475 L532.9 476.5 L534.3 478 L536.1 480.8 L536.9 482.2 L537.3 483.6 L538 486.3 L537.9 487.6 L537.8 489 L538.3 491.7 L538.3 493.1 L538.2 494.4 L538.8 497.2 L538.6 498.6 L538.7 500 L539.3 502.9 L539.3 504.4 L539.4 505.9 L539.4 507.4 L539.8 510.4 L540 512 L540.1 513.6 L540.3 515.2 L540.3 516.9 L540.6 520.2 L540.3 521.9 L539.9 523.5 L539.3 525 L539 528 L538.5 529.5 L538 530.9 L538.2 533.6 L538 534.9 L538.4 537 L539.3 539.3 L539.7 540.6 L540.5 542 L541.4 543.5 L542.3 545 L542.1 545.8 L542.7 547.2 L543 548.7 L542.4 549.5 L542.8 550.9 L542.1 551.6 L542.3 553.2 L542.4 554.9 L541.6 555.8 L541.5 557.6 L541 559.7 L539.7 560.8 L538.5 562 L537.9 564.9 L536.9 566.6 L536 568.2 L535.4 569.9 L534.9 571.5 L535 574 L535.4 576 L535.4 577.2 L536 579.1 L536.1 580.4 L536.4 583.4 L536.1 585 L535.9 586.7 L535.7 588.3 L535.6 590 L535.7 591.8 L536.2 594.7 L536.7 596.7 L537.1 597.8 L538.1 601.4 L538.7 602.9"/>
<path d="M-16 297.7 L-14.7 297.2 L-12.9 296.6 L-10.7 295.8 L-9.5 295.3 L-7.1 294.5 L-4.7 293.6 L-3.6 293.1 L-1.6 292.5 L-0 292.2 L2.7 291.6 L4.4 291.3 L6.4 291.2 L8.5 291.2 L10.6 291.1 L11.9 291.2 L13.9 291.1 L16 291.1 L18.4 291.1 L20.1 291.3 L21.7 291.4 L23.9 291.1 L25.9 290.7 L27.5 290 L29.7 289.3 L31.1 288.5 L34.2 288 L35.8 287.5 L37.4 287.4 L40 287.4 L41.9 287.3 L44 287.3 L46 287.4 L47.5 287.5 L49.8 287.9 L52 288.3 L54.1 288.7 L55.5 289.3 L57.5 289.9 L59.5 290.5 L61.6 291 L63.8 291.4 L65.4 291.6 L67.8 291.5 L69.4 291.6 L71.5 291.5 L73.6 291.4 L75.7 291.3 L77.2 291.4 L79.5 291.2 L81 291.1 L83.3 290.4 L84.8 289.9 L87 288.7 L88.3 287.6 L90.2 286.1 L92 284.5 L93.8 282.8 L95.7 281.3 L97.7 279.9 L99.9 278.5 L101.5 277.3 L103.8 276.1 L105.2 275.3 L107.5 274.6 L109.8 274.2 L111.3 274.2 L113.6 274.6 L115.7 275.2 L117.5 276.1 L119.3 277.2 L121.4 278.4 L122.9 279.2 L124.5 280 L126.7 281 L128.2 281.7 L130.4 282.7 L132 283.2 L133.8 283.7 L135.8 284.1 L137.8 284.4 L140 284.8 L142.4 285.3 L143.6 285.6 L146.2 286.1 L147.5 286.4 L150 286.8 L151.2 286.9 L153.5 287.2 L155.9 287.5 L157.1 287.7 L160 288.1 L161.6 288.5 L163.4 288.8 L165.3 289.3 L167.2 289.9 L169.2 290.4 L171.1 291 L173.1 291.6 L175 292.3 L176.9 292.9 L178.8 293.5 L180.6 294.2 L182.5 294.8 L184.4 295.3 L186.2 295.8 L188.1 296.1 L190 296.3 L191.9 296.4 L193.7 296.4 L195.5 296.4 L199.2 296.8 L201.1 297 L203 297.4 L205 298 L207 298.8 L208.1 299.6 L210.1 300.8 L212.2 302 L214.4 303.2 L216.5 304.3 L218.7 305.4 L219.8 306.1 L222 306.9 L224.3 307.8 L226.6 308.6 L227.8 309.2 L230.2 310 L231.4 310.5 L233.8 311.3 L236 312.1 L238.1 312.8 L240 313.5 L241.6 314 L243.1 314.4 L245.5 314.9 L247.7 315.5 L250 316.2 L251.2 316.8 L253.8 317.8 L255 318.4 L257.5 319.4 L258.8 319.9 L261.2 320.9 L262.5 321.5 L263.8 322.1 L266.2 323.6 L267.5 324.4 L270 325.9 L271.2 326.7 L273.8 328.2 L275 329.2 L276.2 330.1 L278.8 331.6 L280 332.5 L282.5 333.9 L283.8 334.6 L286.2 335.8 L287.5 336.5 L290 337.7 L291.2 338.3 L293.6 339.5 L294.8 340.1 L297.3 341.1 L298.6 341.6 L301.5 342.4 L303 342.8 L304.7 343.1 L306.3 343.5 L308 343.9 L309.7 344.3 L313 344.9 L314.6 345.2 L316.2 345.4 L317.7 345.5 L320.8 345.7 L322.5 345.6 L324.2 345.5 L326 345.4 L329 345.5 L330.1 345.3 L332.3 345.4 L334.5 345.6 L336.7 345.8 L338.9 346.1 L340 346.2 L343 346.7 L344.8 346.9 L346.4 347 L348 347.2 L349.5 347.3 L352.6 347.5 L354.2 347.7 L355.9 348 L357.6 348.4 L359.4 348.8 L361.1 349.3 L362.8 349.7 L364.4 350.1 L364.8 350.2 L366.2 350.5 L366.5 350.6 L369.4 351.1 L370.2 351.3 L370.9 351.6 L371.5 352 L373.4 352.8 L373.9 353.3 L375.8 354.4 L376.4 354.8 L377.2 355.3 L379.2 356.5 L380.4 356.9 L383.1 358.1 L384.9 358.2 L386.7 358.3 L390 359.2 L391.9 359.3 L393.9 359.4 L395.8 359.6 L397.6 359.9 L400.7 361.3 L402.4 361.8 L404 362.4 L405.5 363.2 L407 364.1 L408.4 365.1 L409.9 366.1 L412.2 367.9 L413.9 369 L415.6 370.2 L417.4 371.2 L419.2 372.2 L420.3 372.5 L422.1 373.4 L423.8 374.2 L426.5 376 L427.8 376.8 L430.1 378.4 L431.1 379.2 L432 380 L434 381.7 L435 382.5 L437.1 384 L438.4 384.5 L440.7 385.8 L442.2 386.3 L444.6 387.7 L447 389.2 L449.4 390.9 L451.1 391.7 L453.1 393.6 L454.8 395.6 L456.6 398.3 L457.7 400 L458.9 402 L459.6 403.7 L459.9 405 L460.5 407 L461.6 409.2 L463.2 411 L465.2 412.1 L468.3 414.7 L471 416.1 L473.4 417.5 L475.8 420 L477.3 421.8 L478.5 423.6 L479.5 424.9 L480.7 426.5 L481.3 427.5 L481.6 428.5 L482.1 430 L482.1 431.3 L481.9 432.5 L482.1 433.9 L482 434.8 L482.3 435.8 L482.9 437 L484 438.5 L484.7 439.4 L486.5 441.2 L488.4 443.1 L489.4 444 L491.2 446 L492 447 L493.5 449 L493.9 450 L495 452 L495.1 452.9 L495.9 454.7 L496.5 456.4 L497 458.1 L496.7 459 L497.1 460.6 L497.4 462.2 L497.9 463.9 L497.8 464.9 L498.7 467.3 L499.1 468.7 L499.7 470.2 L500.6 471.8 L501.6 473.4 L502.6 475 L503.6 476.5 L504.4 478 L505.7 480.8 L506.3 482.2 L507.1 483.6 L508.6 486.3 L509.6 487.6 L510.7 489 L512.6 491.7 L513.8 493.1 L515.3 494.4 L517.3 497.2 L518 498.6 L518.3 500 L518.9 502.9 L518.8 504.4 L518.6 505.9 L518.2 507.4 L518.1 510.4 L517.6 512 L517.1 513.6 L516.5 515.2 L516 516.9 L515.7 520.2 L515.3 521.9 L514.8 523.5 L514.5 525 L514.6 528 L514.5 529.5 L514.6 530.9 L515.1 533.6 L515.3 534.9 L515.9 537 L516.7 539.3 L516.8 540.6 L516.9 542 L516.8 543.5 L516.5 545 L514.9 545.8 L514.1 547.2 L513.2 548.7 L511.3 549.5 L510.6 550.9 L509 551.6 L508.5 553.2 L507.9 554.9 L506.5 555.8 L506.1 557.6 L505.3 559.7 L503.5 560.8 L501.7 562 L500.6 564.9 L498.9 566.6 L497.2 568.2 L495.7 569.9 L494.1 571.5 L493.1 574 L492.4 576 L491.2 577.2 L491.2 579.1 L490.9 580.4 L491 583.4 L491 585 L491.1 586.7 L491.5 588.3 L492.2 590 L493.1 591.8 L494.2 594.7 L495.1 596.7 L495.8 597.8 L496.7 601.4 L496.9 602.9"/>
<path d="M-16 298.4 L-14.7 298 L-12.9 297.6 L-10.7 297 L-9.5 296.6 L-7.1 295.9 L-4.7 295.1 L-3.6 294.6 L-1.6 293.8 L-0 293.3 L2.7 292.4 L4.4 291.9 L6.4 291.5 L8.5 291.1 L10.6 290.7 L11.9 290.4 L13.9 289.7 L16 289.1 L18.4 288.5 L20.1 288.1 L21.7 287.6 L23.9 287.1 L25.9 286.7 L27.5 286.5 L29.7 286.5 L31.1 286.5 L34.2 286.7 L35.8 286.7 L37.4 286.6 L40 286.6 L41.9 286.4 L44 286 L46 285.6 L47.5 285 L49.8 284.9 L52 285.1 L54.1 285.4 L55.5 285.8 L57.5 286.3 L59.5 286.7 L61.6 287.1 L63.8 287.4 L65.4 287.6 L67.8 287.6 L69.4 287.7 L71.5 287.6 L73.6 287.4 L75.7 287.2 L77.2 287.3 L79.5 287 L81 286.7 L83.3 286.1 L84.8 285.5 L87 284.6 L88.3 283.9 L90.2 282.8 L92 281.8 L93.8 280.7 L95.7 279.6 L97.7 278.6 L99.9 277.6 L101.5 276.2 L103.8 274.4 L105.2 272.8 L107.5 271.4 L109.8 270.7 L111.3 270.7 L113.6 271.1 L115.7 272 L117.5 273.2 L119.3 274.6 L121.4 276.1 L122.9 277.3 L124.5 278.5 L126.7 280.1 L128.2 281.4 L130.4 283 L132 284.2 L133.8 285.3 L135.8 286.1 L137.8 286.8 L140 287.4 L142.4 287.9 L143.6 288.2 L146.2 288.6 L147.5 288.9 L150 289.6 L151.2 290.5 L153.5 291.9 L155.9 293.5 L157.1 294.7 L160 295.9 L161.6 296.4 L163.4 296.9 L165.3 297.3 L167.2 297.7 L169.2 298.1 L171.1 298.6 L173.1 299 L175 299.4 L176.9 299.9 L178.8 300.4 L180.6 301 L182.5 301.5 L184.4 302 L186.2 302.5 L188.1 302.8 L190 303.1 L191.9 303.4 L193.7 303.7 L195.5 304.1 L199.2 304.8 L201.1 305.4 L203 306 L205 306.7 L207 307.6 L208.1 308.4 L210.1 309.5 L212.2 310.6 L214.4 311.7 L216.5 312.8 L218.7 313.8 L219.8 314.5 L222 315.4 L224.3 316.2 L226.6 317 L227.8 317.5 L230.2 318.2 L231.4 318.6 L233.8 319.2 L236 319.7 L238.1 320.2 L240 320.6 L241.6 321 L243.1 321.4 L245.5 321.8 L247.7 322.2 L250 322.8 L251.2 323.2 L253.8 323.9 L255 324.3 L257.5 325.2 L258.8 325.6 L261.2 326.7 L262.5 327.3 L263.8 327.9 L266.2 329.3 L267.5 329.9 L270 331.1 L271.2 331.5 L273.8 332.5 L275 332.9 L276.2 333.3 L278.8 334.3 L280 334.9 L282.5 336 L283.8 336.6 L286.2 337.8 L287.5 338.5 L290 339.6 L291.2 340.1 L293.6 341.2 L294.8 341.7 L297.3 342.6 L298.6 343 L301.5 343.9 L303 344.3 L304.7 344.7 L306.3 345.1 L308 345.4 L309.7 345.7 L313 346.3 L314.6 346.6 L316.2 346.8 L317.7 347 L320.8 347.4 L322.5 347.7 L324.2 348.2 L326 348.6 L329 349.2 L330.1 349.6 L332.3 350 L334.5 350.3 L336.7 350.6 L338.9 350.8 L340 350.8 L343 351 L344.8 351.1 L346.4 351.1 L348 351.1 L349.5 351 L352.6 351.1 L354.2 351 L355.9 350.9 L357.5 350.9 L359.3 350.9 L361 350.9 L362.7 350.9 L364.3 351 L364.7 351 L366.1 351.1 L366.4 350.9 L369.3 351.1 L370.3 350.9 L371.3 350.6 L372.4 350.1 L374.8 350.1 L375.9 349.9 L378.3 350.4 L379.3 350.5 L380.3 350.8 L382.5 352.1 L383.6 352.6 L386.1 354.1 L387.5 354.7 L389 355.3 L391.8 356.8 L393.4 357.4 L394.9 358.1 L396.4 358.8 L397.8 359.6 L400.5 361.5 L402 362.3 L403.4 363.2 L404.9 363.9 L406.5 364.7 L408.2 365.4 L409.9 366.2 L412.4 367.7 L414.1 368.8 L415.8 370 L417.4 371.3 L418.8 372.7 L419.4 373.6 L420.6 375.1 L421.8 376.5 L424.1 378.7 L425.1 379.8 L427.2 381.6 L428.1 382.4 L428.9 383.2 L430.7 384.8 L431.4 385.4 L433.2 386.8 L433.9 387.3 L435.6 388.5 L436.3 388.8 L438 390 L439.5 391.2 L441 392.5 L441.8 393 L443 394.4 L443.8 396 L444.6 398.5 L444.9 400 L445.4 402 L445.9 403.7 L446 405 L446.5 407 L447.1 409.2 L447.7 411 L447.9 412.1 L448.5 414.7 L448.4 416.1 L448.2 417.5 L448.8 420 L449.4 421.8 L450.5 423.6 L451.6 424.9 L453.4 426.5 L454.9 427.5 L456.4 428.5 L458.3 430 L459.7 431.3 L460.9 432.5 L462.2 433.9 L463 434.8 L463.7 435.8 L464.6 437 L465.8 438.5 L466.4 439.4 L468 441.2 L469.9 443.1 L471 444 L473 446 L474.2 447 L476.2 449 L477.4 450 L479.5 452 L480.8 452.9 L482.9 454.7 L485 456.4 L487 458.1 L488.3 459 L490.1 460.6 L491.8 462.2 L493.2 463.9 L493.9 464.9 L495.4 467.3 L496.2 468.7 L497 470.2 L498.1 471.8 L499.4 473.4 L501 475 L502.8 476.5 L504.9 478 L507.8 480.8 L510.8 482.2 L514.2 483.6 L518.4 486.3 L522.1 487.6 L525.9 489 L530.2 491.7 L534.9 493.1 L540.4 494.4 L546.2 497.2 L550 498.6 L551.4 500 L552.2 502.9 L552.2 504.4 L552.1 505.9 L551.9 507.4 L552.1 510.4 L552.2 512 L552.4 513.6 L552.7 515.2 L553.1 516.9 L553.7 520.2 L554 521.9 L554 523.5 L553.8 525 L553.7 528 L553.2 529.5 L552.5 530.9 L552.1 533.6 L551.3 534.9 L550.9 537 L550.7 539.3 L550.2 540.6 L550 542 L550 543.5 L550.1 545 L549.5 545.8 L549.9 547.2 L550.4 548.7 L550.3 549.5 L551.4 550.9 L551.5 551.6 L552.6 553.2 L553.3 554.9 L553 555.8 L553.3 557.6 L553.1 559.7 L551.9 560.8 L550.6 562 L550 564.9 L548.9 566.6 L547.9 568.2 L547 569.9 L546.2 571.5 L546 574 L546 576 L545.7 577.2 L546.2 579.1 L546.5 580.4 L547.3 583.4 L547.9 585 L548.7 586.7 L549.5 588.3 L550.3 590 L551.1 591.8 L551.8 594.7 L552.2 596.7 L552.1 597.8 L552.3 601.4 L552.1 602.9"/>
<path d="M-16 294.7 L-14.7 294.3 L-12.9 293.7 L-10.7 293.1 L-9.5 292.8 L-7.1 292.2 L-4.7 291.5 L-3.6 291.3 L-1.6 290.8 L-0 290.6 L2.7 290 L4.4 289.7 L6.4 289.4 L8.5 289.2 L10.6 289.1 L11.9 289.1 L13.9 288.9 L16 289 L18.4 289.1 L20.1 289.4 L21.7 289.7 L23.9 289.7 L25.9 289.5 L27.5 289.4 L29.7 289.4 L31.1 289.3 L34.2 289.4 L35.8 289.4 L37.4 289.3 L40 289.3 L41.9 289.2 L44 289.1 L46 288.9 L47.5 288.7 L49.8 288.8 L52 289 L54.1 289.1 L55.5 289.2 L57.5 289.3 L59.5 289.3 L61.6 289.2 L63.8 289 L65.4 288.8 L67.8 288.4 L69.4 288.1 L71.5 287.5 L73.6 287 L75.7 286.4 L77.2 286.1 L79.5 285.5 L81 284.9 L83.3 283.9 L84.8 282.9 L87 281.2 L88.3 279.4 L90.2 277.3 L92 275.5 L93.8 274.2 L95.7 273.4 L97.7 272.9 L99.9 272.6 L101.5 272.6 L103.8 272.5 L105.2 272.6 L107.5 272.5 L109.8 272.5 L111.3 272.5 L113.6 272.5 L115.7 272.6 L117.5 272.9 L119.3 273.3 L121.4 273.9 L122.9 274.3 L124.5 274.8 L126.7 275.7 L128.2 276.3 L130.4 277.4 L132 278.2 L133.8 279.1 L135.8 280.3 L137.8 281.9 L140 283.6 L142.4 285.3 L143.6 286.5 L146.2 287.4 L147.5 288.1 L150 289 L151.2 289.8 L153.5 290.7 L155.9 291.7 L157.1 292.4 L160 293.4 L161.6 294 L163.4 294.6 L165.3 295.2 L167.2 295.8 L169.2 296.4 L171.1 297.1 L173.1 297.7 L175 298.3 L176.9 298.8 L178.8 299.3 L180.6 299.6 L182.5 299.9 L184.4 300.1 L186.2 300.4 L188.1 300.6 L190 300.8 L191.9 301.1 L193.7 301.4 L195.5 301.7 L199.2 302.4 L201.1 302.7 L203 303.1 L205 303.6 L207 304.2 L208.1 304.8 L210.1 305.6 L212.2 306.6 L214.4 307.7 L216.5 308.8 L218.7 309.8 L219.8 310.5 L222 311.3 L224.3 312.1 L226.6 312.9 L227.8 313.4 L230.2 314.2 L231.4 314.7 L233.8 315.5 L236 316.2 L238.1 316.7 L240 317 L241.6 317.1 L243.1 317.1 L245.5 317.1 L247.7 317.1 L250 317.2 L251.2 317.3 L253.8 317.9 L255 318.1 L257.5 318.9 L258.8 319.3 L261.2 320.3 L262.5 320.8 L263.8 321.3 L266.2 322.7 L267.5 323.4 L270 324.7 L271.2 325.4 L273.8 326.6 L275 327.2 L276.2 327.8 L278.8 328.9 L280 329.4 L282.5 330.3 L283.8 330.6 L286.2 331.5 L287.5 331.8 L290 332.7 L291.2 333.2 L293.6 334.2 L294.8 334.7 L297.3 335.6 L298.6 335.9 L301.5 336.6 L303 336.8 L304.7 337 L306.3 337.3 L308 337.5 L309.7 337.8 L313 338.4 L314.6 338.7 L316.2 339 L317.7 339.2 L320.8 339.5 L322.5 339.8 L324.2 340 L326 340.4 L329 341 L330.1 341.4 L332.3 342 L334.5 342.6 L336.7 343.2 L338.9 343.7 L340 344 L343 344.5 L344.8 344.7 L346.4 345 L348 345.2 L349.5 345.5 L352.6 345.9 L354.2 346.2 L355.9 346.8 L357.6 347.3 L359.4 347.8 L361.2 348.3 L362.9 348.9 L364.5 349.4 L364.9 349.9 L366.2 350.5 L366.4 351 L369.1 351.9 L369.7 352.5 L370.3 353.1 L370.7 353.6 L372.6 354.4 L373 354.9 L374.7 356.1 L375.1 356.8 L375.5 357.6 L377.1 359.4 L377.8 360.3 L380 362.2 L381.2 363 L382.6 363.7 L385.4 365.2 L387 365.7 L388.7 366.2 L390.3 366.7 L391.9 367.2 L394.7 368.9 L396.2 369.7 L397.6 370.5 L399 371.3 L400.4 372.2 L401.9 373 L403.5 373.9 L405.9 375.5 L407.6 376.5 L409.3 377.6 L410.9 378.9 L412.4 380.1 L413.1 380.8 L414.5 382 L415.9 383.1 L418.5 385 L419.9 385.7 L422.4 387.1 L423.7 387.2 L424.8 387.3 L427 388.2 L428 388.2 L429.9 389.2 L430.8 389.2 L432.5 390.1 L433.2 390.2 L434.5 391.2 L435.7 392.2 L436.7 393.4 L437 393.6 L437.7 394.9 L438.1 396.2 L438.6 398.6 L438.6 400 L439 402 L439.4 403.7 L439.6 405 L440 407 L440.4 409.2 L440.7 411 L440.6 412.1 L441 414.7 L440.3 416.1 L439.6 417.5 L439.4 420 L439.4 421.8 L439.9 423.6 L440.6 424.9 L441.9 426.5 L443 427.5 L444 428.5 L445.5 430 L446.6 431.3 L447.8 432.5 L449.4 433.9 L450.6 434.8 L452 435.8 L453.8 437 L455.9 438.5 L457.4 439.4 L460 441.2 L462.4 443.1 L463.8 444 L465.8 446 L466.6 447 L468 449 L468.1 450 L468.8 452 L468.4 452.9 L468.6 454.7 L468.5 456.4 L468.2 458.1 L467.1 459 L466.5 460.6 L466 462.2 L465.8 463.9 L465.1 464.9 L465.4 467.3 L465 468.7 L464.8 470.2 L464.6 471.8 L464.5 473.4 L464.4 475 L464.3 476.5 L464.2 478 L465 480.8 L465.1 482.2 L466.5 483.6 L469 486.3 L470.6 487.6 L471.7 489 L473.4 491.7 L474.2 493.1 L474.8 494.4 L475.9 497.2 L476.2 498.6 L476.4 500 L477.1 502.9 L477.4 504.4 L477.8 505.9 L478.1 507.4 L478.8 510.4 L479 512 L479.1 513.6 L479.1 515.2 L479 516.9 L479.4 520.2 L479.5 521.9 L479.8 523.5 L480.2 525 L481.1 528 L481.5 529.5 L481.8 530.9 L482.4 533.6 L482.4 534.9 L482.7 537 L483.4 539.3 L483.7 540.6 L484.3 542 L485.3 543.5 L486.4 545 L486.5 545.8 L487.5 547.2 L488.4 548.7 L488.1 549.5 L488.7 550.9 L488.3 551.6 L488.8 553.2 L489.2 554.9 L488.8 555.8 L489.3 557.6 L489.5 559.7 L488.8 560.8 L488 562 L487.8 564.9 L486.7 566.6 L485.7 568.2 L484.8 569.9 L484.1 571.5 L484.2 574 L484.7 576 L485 577.2 L485.9 579.1 L486.6 580.4 L487.4 583.4 L487.8 585 L488.1 586.7 L488.3 588.3 L488.5 590 L488.9 591.8 L489.4 594.7 L489.9 596.7 L490.1 597.8 L490.7 601.4 L490.7 602.9"/>
<path d="M-16 293.6 L-14.7 293.1 L-12.9 292.6 L-10.7 292 L-9.5 291.8 L-7.1 291.2 L-4.7 290.6 L-3.6 290.3 L-1.6 289.9 L-0 289.7 L2.7 289 L4.4 288.7 L6.4 288.4 L8.5 288 L10.6 287.7 L11.9 287.4 L13.9 287 L16 286.6 L18.4 286.4 L20.1 286.3 L21.7 286.3 L23.9 286.2 L25.9 286.1 L27.5 286.1 L29.7 286.2 L31.1 286.4 L34.2 286.8 L35.8 287.1 L37.4 287.4 L40 287.8 L41.9 288.2 L44 288.8 L46 289.3 L47.5 289.7 L49.8 290.2 L52 290.7 L54.1 290.8 L55.5 291 L57.5 291.1 L59.5 291.2 L61.6 291.2 L63.8 291.3 L65.4 291.4 L67.8 291.2 L69.4 291.2 L71.5 290.8 L73.6 290.3 L75.7 289.7 L77.2 289.3 L79.5 288.6 L81 288 L83.3 287 L84.8 286.2 L87 285.1 L88.3 284.3 L90.2 283.2 L92 282.1 L93.8 281 L95.7 280 L97.7 279 L99.9 278.2 L101.5 277.4 L103.8 276.3 L105.2 275.5 L107.5 274.8 L109.8 274.5 L111.3 274.7 L113.6 275.2 L115.7 275.9 L117.5 276.9 L119.3 278 L121.4 279.2 L122.9 280 L124.5 280.8 L126.7 281.7 L128.2 282.3 L130.4 283.3 L132 283.8 L133.8 284.3 L135.8 284.8 L137.8 285.5 L140 286.4 L142.4 287.3 L143.6 288.2 L146.2 289.2 L147.5 290.1 L150 291.2 L151.2 292.1 L153.5 293.1 L155.9 293.9 L157.1 294.3 L160 294.9 L161.6 295 L163.4 295.1 L165.3 295.2 L167.2 295.3 L169.2 295.4 L171.1 295.6 L173.1 295.7 L175 295.9 L176.9 296.2 L178.8 296.4 L180.6 296.7 L182.5 297 L184.4 297.3 L186.2 297.6 L188.1 297.8 L190 298.1 L191.9 298.3 L193.7 298.4 L195.5 298.6 L199.2 299 L201.1 299.2 L203 299.3 L205 299.6 L207 299.8 L208.1 300 L210.1 300.4 L212.2 300.9 L214.4 301.5 L216.5 302.2 L218.7 302.9 L219.8 303.3 L222 304 L224.3 304.7 L226.6 305.4 L227.8 305.8 L230.2 306.4 L231.4 306.7 L233.8 307.2 L236 307.6 L238.1 307.9 L240 308.2 L241.6 308.5 L243.1 308.7 L245.5 309 L247.7 309.4 L250 310.1 L251.2 310.7 L253.8 311.8 L255 312.5 L257.5 313.8 L258.8 314.6 L261.2 316 L262.5 316.8 L263.8 317.7 L266.2 319.2 L267.5 320 L270 321.3 L271.2 321.9 L273.8 323 L275 323.5 L276.2 324 L278.8 325 L280 325.4 L282.5 326.4 L283.8 326.8 L286.2 327.7 L287.5 328.2 L290 329.2 L291.2 329.7 L293.6 330.8 L294.8 331.5 L297.3 332.6 L298.6 333.1 L301.5 334 L303 334.4 L304.7 334.7 L306.3 334.8 L308 334.9 L309.7 334.9 L313 335.2 L314.6 335.1 L316.2 335 L317.7 334.9 L320.8 335.1 L322.5 335.1 L324.2 335.3 L326 335.6 L329 336.2 L330.1 336.5 L332.3 337.1 L334.5 337.6 L336.7 338.1 L338.9 338.7 L340 338.9 L343 339.5 L344.8 339.7 L346.4 340 L348 340.1 L349.5 340.2 L352.6 340.4 L354.2 340.5 L355.9 340.6 L357.8 340.6 L359.7 340.7 L361.7 340.7 L363.7 340.8 L365.7 340.9 L366.5 340.9 L368.3 341.1 L369.1 341.1 L372.4 341.7 L373.7 342 L374.9 342.3 L375.9 342.7 L378.4 343.5 L379.3 344 L381.5 345.2 L382.4 345.9 L383.3 346.6 L385.3 348.1 L386.4 348.8 L388.8 350.4 L390.2 351.1 L391.6 351.8 L394.3 353.5 L395.7 354.3 L397.1 355.2 L398.5 356.1 L399.9 357 L402.6 358.9 L404 359.7 L405.5 360.5 L407.1 361.2 L408.8 361.9 L410.5 362.6 L412.2 363.4 L414.8 364.8 L416.7 365.8 L418.5 366.8 L420.3 367.8 L422 369 L422.9 369.5 L424.5 370.7 L425.9 371.8 L428.3 373.9 L429.4 374.9 L431.5 376.8 L432.4 377.8 L433.2 378.8 L435 380.8 L435.7 381.8 L437.5 383.8 L438.1 384.7 L439.6 386.4 L440.2 387.1 L441.6 388.7 L442.7 390.4 L443.8 392 L444.2 392.7 L445.1 394.3 L445.8 395.9 L446.6 398.5 L446.9 400 L447.2 402 L447.4 403.7 L447.3 405 L447.3 407 L447.5 409.2 L447.7 411 L447.7 412.1 L448.7 414.7 L449.3 416.1 L450.2 417.5 L451.8 420 L453.4 421.8 L455 423.6 L456.6 424.9 L458.7 426.5 L460.3 427.5 L461.9 428.5 L463.8 430 L465.3 431.3 L466.7 432.5 L468.4 433.9 L469.6 434.8 L470.7 435.8 L471.9 437 L473.1 438.5 L473.5 439.4 L474.8 441.2 L476.1 443.1 L476.5 444 L477.9 446 L478.5 447 L480.1 449 L481 450 L482.8 452 L483.7 452.9 L485.4 454.7 L486.9 456.4 L488.4 458.1 L489 459 L490.3 460.6 L491.4 462.2 L492.4 463.9 L492.8 464.9 L494.2 467.3 L494.9 468.7 L495.8 470.2 L497 471.8 L498.4 473.4 L499.9 475 L501.4 476.5 L503 478 L505.1 480.8 L506.3 482.2 L507.3 483.6 L508.6 486.3 L509.2 487.6 L509.6 489 L510.6 491.7 L510.7 493.1 L510.7 494.4 L511.5 497.2 L512.1 498.6 L513 500 L514.3 502.9 L515.4 504.4 L516.6 505.9 L518 507.4 L519.8 510.4 L521.3 512 L522.9 513.6 L524.5 515.2 L526 516.9 L527.9 520.2 L529.3 521.9 L530.9 523.5 L532.4 525 L534.2 528 L535.5 529.5 L536.7 530.9 L538.1 533.6 L539 534.9 L540.3 537 L541.8 539.3 L543 540.6 L544.4 542 L546.1 543.5 L548.1 545 L549.4 545.8 L551.7 547.2 L554.1 548.7 L555.6 549.5 L558.1 550.9 L559.4 551.6 L561.5 553.2 L563.2 554.9 L563.7 555.8 L564.7 557.6 L565.5 559.7 L565.5 560.8 L565.4 562 L566.1 564.9 L566.3 566.6 L566.6 568.2 L567 569.9 L567.6 571.5 L568.7 574 L570 576 L570.8 577.2 L571.6 579.1 L572.2 580.4 L573 583.4 L573.5 585 L573.8 586.7 L574.2 588.3 L574.5 590 L574.7 591.8 L575.1 594.7 L575.3 596.7 L575.2 597.8 L575.6 601.4 L575.6 602.9"/>
<path d="M-16 292.8 L-14.7 292.3 L-12.9 291.6 L-10.7 290.9 L-9.5 290.5 L-7.1 289.9 L-4.7 289.3 L-3.6 289.1 L-1.6 288.6 L0 288 L2.7 286.9 L4.4 286 L6.4 285.2 L8.5 284.4 L10.6 283.7 L11.9 283.1 L13.9 282.4 L16 281.7 L18.4 281.3 L20.1 281 L21.7 280.9 L23.9 280.6 L25.9 280.4 L27.5 280.4 L29.7 280.5 L31.1 280.6 L34.2 280.8 L35.8 280.9 L37.4 280.9 L40 281 L41.9 281.1 L44 281.1 L46 281.1 L47.5 281.1 L49.8 281.2 L52 281.4 L54.1 281.5 L55.5 281.5 L57.5 281.5 L59.5 281.4 L61.6 281.4 L63.8 281.3 L65.4 281.3 L67.8 281.2 L69.4 281.1 L71.5 280.8 L73.6 280.5 L75.7 280.3 L77.2 280.3 L79.5 280 L81 279.8 L83.3 279.1 L84.8 278.3 L87 276.9 L88.3 275.5 L90.2 273.7 L92 272 L93.8 270.6 L95.7 269.5 L97.7 268.6 L99.9 268 L101.5 267.7 L103.8 267.5 L105.2 267.5 L107.5 267.6 L109.8 267.8 L111.3 268.2 L113.6 268.7 L115.7 269.3 L117.5 270.2 L119.3 271.1 L121.4 272.1 L122.9 273 L124.5 273.8 L126.7 275 L128.2 275.9 L130.4 277.1 L132 278 L133.8 278.9 L135.8 280 L137.8 281.1 L140 282.3 L142.4 283.5 L143.6 284.4 L146.2 285.1 L147.5 285.6 L150 286.3 L151.2 286.6 L153.5 287.1 L155.9 287.6 L157.1 287.9 L160 288.4 L161.6 288.7 L163.4 289.1 L165.3 289.6 L167.2 290.1 L169.2 290.6 L171.1 291.1 L173.1 291.7 L175 292.2 L176.9 292.6 L178.8 293.1 L180.6 293.5 L182.5 293.9 L184.4 294.2 L186.2 294.5 L188.1 294.8 L190 295.1 L191.9 295.4 L193.7 295.6 L195.5 295.9 L199.2 296.5 L201.1 296.9 L203 297.3 L205 297.8 L207 298.4 L208.1 298.7 L210.1 299.4 L212.2 300 L214.4 300.7 L216.5 301.4 L218.7 302 L219.8 302.3 L222 302.9 L224.3 303.4 L226.6 303.8 L227.8 304 L230.2 304.3 L231.4 304.4 L233.8 304.8 L236 305.1 L238.1 305.4 L240 305.6 L241.6 305.9 L243.1 306.2 L245.5 306.5 L247.7 306.9 L250 307.4 L251.2 307.8 L253.8 308.5 L255 308.8 L257.5 309.6 L258.8 309.9 L261.2 310.8 L262.5 311.1 L263.8 311.5 L266.2 312.7 L267.5 313.1 L270 314.3 L271.2 314.7 L273.8 315.8 L275 316.2 L276.2 316.7 L278.8 317.7 L280 318.2 L282.5 319.1 L283.8 319.4 L286.2 320.2 L287.5 320.4 L290 321 L291.2 321.2 L293.6 321.9 L294.8 322.2 L297.3 323 L298.6 323.3 L301.5 324.2 L303 324.8 L304.7 325.4 L306.3 326.2 L308 327 L309.7 327.8 L313 329 L314.6 329.7 L316.2 330.4 L317.7 331 L320.8 331.6 L322.5 332.1 L324.2 332.5 L326 332.9 L329 333.5 L330.1 333.8 L332.3 334.2 L334.5 334.7 L336.7 335.1 L338.9 335.6 L340 335.9 L343 336.4 L344.8 336.7 L346.4 337 L348 337.3 L349.5 337.6 L352.6 338 L354.2 338.3 L355.9 338.6 L357.8 339 L359.8 339.3 L361.8 339.5 L363.8 339.8 L365.9 339.9 L366.7 340 L368.6 340.1 L369.3 340.1 L372.7 340.6 L374.1 340.8 L375.4 341.1 L376.5 341.5 L379 342.3 L379.9 342.9 L382.1 344.3 L382.9 345.2 L383.6 346.1 L385.5 347.9 L386.4 348.9 L388.6 350.6 L390 351.4 L391.5 352 L394.4 353.4 L396.1 353.8 L397.8 354.3 L399.4 354.8 L401 355.5 L403.8 357.3 L405.1 358.3 L406.3 359.5 L407.4 360.9 L408.4 362.4 L409.3 364 L410.3 365.7 L412 368.1 L413.2 369.8 L414.5 371.5 L415.8 373.1 L417.2 374.6 L417.9 375.3 L419.3 376.5 L420.8 377.6 L423.3 379.6 L424.5 380.5 L426.8 382.1 L427.9 382.7 L429 383.1 L431 384.5 L432.1 384.9 L434.2 386.1 L435.2 386.5 L437 387.7 L437.9 388.1 L439.4 389.5 L440.7 390.9 L441.9 392.3 L442.6 392.9 L443.8 394.4 L445.1 396 L446.7 398.5 L448.3 400 L451.3 402 L455.2 403.7 L459.3 405 L463.4 407 L466.4 409.2 L468.8 411 L470.9 412.1 L473.7 414.7 L475.6 416.1 L477.3 417.5 L479.3 420 L480.5 421.8 L481.4 423.6 L482.3 424.9 L483.6 426.5 L484.6 427.5 L485.7 428.5 L487.3 430 L488.7 431.3 L490.1 432.5 L491.9 433.9 L493.2 434.8 L494.4 435.8 L495.7 437 L496.9 438.5 L497.2 439.4 L498.4 441.2 L499.6 443.1 L500 444 L501.3 446 L501.9 447 L503.6 449 L504.4 450 L506.1 452 L506.9 452.9 L508.5 454.7 L509.9 456.4 L511.3 458.1 L511.7 459 L512.7 460.6 L513.5 462.2 L514.3 463.9 L514.3 464.9 L515.3 467.3 L515.5 468.7 L515.8 470.2 L516.3 471.8 L517 473.4 L517.8 475 L518.7 476.5 L519.6 478 L521.1 480.8 L521.5 482.2 L521.7 483.6 L522.2 486.3 L521.7 487.6 L520.6 489 L519.7 491.7 L517.6 493.1 L515.4 494.4 L514 497.2 L512.6 498.6 L512.1 500 L512.5 502.9 L512.8 504.4 L513.3 505.9 L514.1 507.4 L515.4 510.4 L516.6 512 L517.8 513.6 L519 515.2 L520.2 516.9 L521.7 520.2 L522.9 521.9 L524.1 523.5 L525.3 525 L526.8 528 L527.9 529.5 L528.8 530.9 L529.9 533.6 L530.6 534.9 L531.5 537 L532.7 539.3 L533.4 540.6 L534.3 542 L535.4 543.5 L536.8 545 L537.4 545.8 L539 547.2 L540.7 548.7 L541.5 549.5 L543.3 550.9 L544.1 551.6 L545.6 553.2 L546.9 554.9 L547 555.8 L547.7 557.6 L548.1 559.7 L547.6 560.8 L546.9 562 L547 564.9 L546.4 566.6 L546 568.2 L545.8 569.9 L545.8 571.5 L546.5 574 L547.5 576 L548.3 577.2 L549.4 579.1 L550.2 580.4 L551.2 583.4 L551.7 585 L552 586.7 L552.1 588.3 L552 590 L551.8 591.8 L551.8 594.7 L551.7 596.7 L551.5 597.8 L551.8 601.4 L552 602.9"/>
<path d="M-16 294 L-14.7 293.6 L-12.9 293 L-10.7 292.3 L-9.5 292 L-7.1 291.2 L-4.7 290.5 L-3.6 290.2 L-1.6 289.7 L-0 289.6 L2.7 289.1 L4.4 288.9 L6.4 288.9 L8.5 288.8 L10.6 288.8 L11.9 288.9 L13.9 288.7 L16 288.9 L18.4 289.1 L20.1 289.5 L21.7 289.8 L23.9 289.7 L25.9 289.4 L27.5 288.8 L29.7 288 L31.1 287.1 L34.2 286.4 L35.8 285.8 L37.4 285.4 L40 285.3 L41.9 285.2 L44 285.3 L46 285.4 L47.5 285.4 L49.8 285.8 L52 286.2 L54.1 286.6 L55.5 287 L57.5 287.5 L59.5 288 L61.6 288.4 L63.8 288.8 L65.4 289.2 L67.8 289.3 L69.4 289.5 L71.5 289.4 L73.6 289.2 L75.7 289 L77.2 289 L79.5 288.7 L81 288.4 L83.3 287.8 L84.8 287.3 L87 286.4 L88.3 285.6 L90.2 284.5 L92 283.3 L93.8 282.1 L95.7 280.8 L97.7 279.8 L99.9 278.8 L101.5 278.2 L103.8 277.5 L105.2 277.1 L107.5 276.8 L109.8 276.5 L111.3 276.3 L113.6 276.3 L115.7 276.4 L117.5 276.7 L119.3 277.1 L121.4 277.7 L122.9 278 L124.5 278.4 L126.7 279 L128.2 279.3 L130.4 279.9 L132 280.2 L133.8 280.5 L135.8 281.1 L137.8 281.8 L140 282.7 L142.4 283.7 L143.6 284.5 L146.2 285.4 L147.5 286.1 L150 286.9 L151.2 287.6 L153.5 288.4 L155.9 289.1 L157.1 289.6 L160 290.3 L161.6 290.6 L163.4 291 L165.3 291.3 L167.2 291.6 L169.2 291.9 L171.1 292.2 L173.1 292.4 L175 292.6 L176.9 292.9 L178.8 293.1 L180.6 293.4 L182.5 293.6 L184.4 294 L186.2 294.4 L188.1 294.9 L190 295.5 L191.9 296.2 L193.7 296.9 L195.5 297.7 L199.2 298.7 L201.1 299.4 L203 300 L205 300.5 L207 300.9 L208.1 301 L210.1 301.1 L212.2 301.2 L214.4 301.3 L216.5 301.4 L218.7 301.5 L219.8 301.4 L222 301.7 L224.3 302 L226.6 302.4 L227.8 302.5 L230.2 302.8 L231.4 302.9 L233.8 303.3 L236 303.6 L238.1 303.8 L240 304 L241.6 304.1 L243.1 304.2 L245.5 304.4 L247.7 304.6 L250 305.1 L251.2 305.4 L253.8 306.2 L255 306.7 L257.5 307.6 L258.8 308.2 L261.2 309.3 L262.5 309.9 L263.8 310.5 L266.2 311.9 L267.5 312.5 L270 313.7 L271.2 314.3 L273.8 315.4 L275 315.9 L276.2 316.5 L278.8 317.6 L280 318.2 L282.5 319.4 L283.8 320 L286.2 321.1 L287.5 321.7 L290 322.8 L291.2 323.5 L293.6 324.7 L294.8 325.4 L297.3 326.6 L298.6 327.4 L301.5 328.6 L303 329.4 L304.7 330.1 L306.3 330.9 L308 331.6 L309.7 332.3 L313 333.2 L314.6 333.7 L316.2 334.1 L317.7 334.4 L320.8 334.9 L322.5 335.1 L324.2 335.5 L326 335.8 L329 336.4 L330.1 336.7 L332.3 337.3 L334.5 337.8 L336.7 338.4 L338.9 339 L340 339.3 L343 339.9 L344.8 340.4 L346.4 340.7 L348 341.1 L349.5 341.4 L352.6 341.9 L354.2 342.4 L355.9 342.9 L357.7 343.5 L359.6 344.1 L361.4 344.7 L363.3 345.3 L365 345.9 L365.5 346.3 L367.1 346.8 L367.4 347.2 L370.4 347.9 L371.3 348.4 L372.1 348.8 L372.8 349.3 L374.8 350.3 L375.3 351 L377.1 352.4 L377.5 353.3 L377.9 354.3 L379.5 356.1 L380.2 357.2 L382.3 359.1 L383.5 360 L384.9 360.8 L387.6 362.4 L389 363.1 L390.5 363.8 L392 364.5 L393.5 365.2 L396.2 367.1 L397.6 367.9 L399 368.7 L400.3 369.6 L401.8 370.5 L403.2 371.4 L404.8 372.3 L407.4 373.7 L409.3 374.5 L411.2 375.3 L413.3 376.1 L415.2 376.9 L416.4 377 L418.2 377.9 L419.8 378.7 L422.4 380.6 L423.6 381.5 L425.6 383.4 L426.1 384.6 L426.2 385.9 L427.2 388 L427.1 389 L427.9 390.6 L427.9 391 L429.1 391.9 L429.4 391.8 L430.7 392.5 L431.9 393.3 L433.1 394.1 L433.8 394.1 L435 395.1 L436.1 396.3 L437.5 398.6 L438.5 400 L440 402 L441.5 403.7 L442.7 405 L444 407 L445.1 409.2 L446 411 L446.5 412.1 L447.5 414.7 L447.8 416.1 L448 417.5 L448.8 420 L449.4 421.8 L450.1 423.6 L450.8 424.9 L452.1 426.5 L453.1 427.5 L454.2 428.5 L455.9 430 L457.3 431.3 L458.8 432.5 L460.5 433.9 L461.7 434.8 L462.9 435.8 L464.1 437 L465.4 438.5 L466 439.4 L467.5 441.2 L469.2 443.1 L470 444 L471.9 446 L473 447 L475 449 L476.3 450 L478.3 452 L479.5 452.9 L481.3 454.7 L482.9 456.4 L484.4 458.1 L485.1 459 L486.4 460.6 L487.6 462.2 L488.9 463.9 L489.5 464.9 L491 467.3 L491.7 468.7 L492.4 470.2 L493.1 471.8 L493.9 473.4 L494.8 475 L495.7 476.5 L496.7 478 L498.6 480.8 L500.3 482.2 L502.4 483.6 L505.3 486.3 L508 487.6 L510.6 489 L513.9 491.7 L517 493.1 L520.1 494.4 L523.8 497.2 L526.7 498.6 L529 500 L531.1 502.9 L532.6 504.4 L533.9 505.9 L535.1 507.4 L536.6 510.4 L537.7 512 L538.9 513.6 L540 515.2 L541.1 516.9 L542.6 520.2 L543.9 521.9 L545.3 523.5 L546.8 525 L548.6 528 L550 529.5 L551.3 530.9 L552.9 533.6 L554 534.9 L555.3 537 L556.9 539.3 L558.1 540.6 L559.2 542 L560.4 543.5 L561.6 545 L561.8 545.8 L562.9 547.2 L563.8 548.7 L563.6 549.5 L564.4 550.9 L564.1 551.6 L564.6 553.2 L564.9 554.9 L564.3 555.8 L564.5 557.6 L564.6 559.7 L564.1 560.8 L563.7 562 L564.1 564.9 L564 566.6 L564 568.2 L564.1 569.9 L564.2 571.5 L564.8 574 L565.7 576 L566 577.2 L566.7 579.1 L567.1 580.4 L567.9 583.4 L568.3 585 L568.8 586.7 L569.3 588.3 L569.8 590 L570.3 591.8 L570.9 594.7 L571.3 596.7 L571.5 597.8 L572 601.4 L572 602.9"/>
<path d="M-16 293.4 L-14.7 293 L-12.9 292.3 L-10.7 291.6 L-9.5 291.1 L-7.1 290.2 L-4.7 289.4 L-3.6 288.9 L-1.6 288.3 L0 288 L2.7 287.3 L4.4 287 L6.4 286.9 L8.5 286.7 L10.6 286.6 L11.9 286.6 L13.9 286.4 L16 286.3 L18.4 286.3 L20.1 286.4 L21.7 286.4 L23.9 286.2 L25.9 285.7 L27.5 285.1 L29.7 284.3 L31.1 283.3 L34.2 282.7 L35.8 282.1 L37.4 281.8 L40 281.8 L41.9 281.8 L44 281.9 L46 282.1 L47.5 282.3 L49.8 282.8 L52 283.2 L54.1 283.5 L55.5 283.8 L57.5 284.1 L59.5 284.4 L61.6 284.6 L63.8 284.7 L65.4 284.8 L67.8 284.8 L69.4 284.8 L71.5 284.5 L73.6 284.3 L75.7 284 L77.2 284 L79.5 283.7 L81 283.5 L83.3 282.9 L84.8 282.3 L87 281.2 L88.3 280.2 L90.2 278.7 L92 277.2 L93.8 275.8 L95.7 274.4 L97.7 273.3 L99.9 272.5 L101.5 272.2 L103.8 271.9 L105.2 271.9 L107.5 271.9 L109.8 271.9 L111.3 271.9 L113.6 271.9 L115.7 271.9 L117.5 272.1 L119.3 272.5 L121.4 273.1 L122.9 273.5 L124.5 274.1 L126.7 275 L128.2 275.6 L130.4 276.7 L132 277.5 L133.8 278.2 L135.8 278.8 L137.8 279.6 L140 280.4 L142.4 281.3 L143.6 282 L146.2 283 L147.5 283.9 L150 285 L151.2 286.4 L153.5 288.1 L155.9 289.8 L157.1 291.2 L160 292.7 L161.6 293.4 L163.4 294 L165.3 294.6 L167.2 295.1 L169.2 295.6 L171.1 296 L173.1 296.5 L175 297 L176.9 297.6 L178.8 298.1 L180.6 298.7 L182.5 299.3 L184.4 299.8 L186.2 300.3 L188.1 300.8 L190 301.2 L191.9 301.7 L193.7 302.1 L195.5 302.5 L199.2 303.3 L201.1 303.8 L203 304.3 L205 304.9 L207 305.5 L208.1 306 L210.1 306.6 L212.2 307.3 L214.4 307.9 L216.5 308.5 L218.7 309 L219.8 309.3 L222 309.8 L224.3 310.3 L226.6 310.8 L227.8 311 L230.2 311.4 L231.4 311.5 L233.8 311.8 L236 312 L238.1 312.2 L240 312.3 L241.6 312.5 L243.1 312.6 L245.5 312.8 L247.7 312.9 L250 313.2 L251.2 313.4 L253.8 314.1 L255 314.3 L257.5 315 L258.8 315.3 L261.2 316.2 L262.5 316.5 L263.8 316.8 L266.2 318 L267.5 318.4 L270 319.5 L271.2 319.8 L273.8 320.9 L275 321.3 L276.2 321.8 L278.8 322.8 L280 323.4 L282.5 324.4 L283.8 324.8 L286.2 325.7 L287.5 326.1 L290 327 L291.2 327.5 L293.6 328.4 L294.8 328.8 L297.3 329.8 L298.6 330.2 L301.5 331 L303 331.3 L304.7 331.5 L306.3 331.7 L308 331.9 L309.7 332 L313 332.5 L314.6 332.5 L316.2 332.6 L317.7 332.7 L320.8 333 L322.5 333.2 L324.2 333.4 L326 333.8 L329 334.5 L330.1 334.9 L332.3 335.4 L334.5 336 L336.7 336.5 L338.9 336.9 L340 337.2 L343 337.6 L344.8 337.8 L346.4 337.9 L348 338 L349.5 337.9 L352.6 337.8 L354.2 337.5 L356 336.8 L357.9 336 L360 335.1 L362.2 334 L364.6 333 L367 331.9 L368.4 330.8 L370.9 329.9 L372.3 329.1 L376.5 329 L378.7 328.5 L380.9 328.1 L383.1 327.6 L386.8 327.6 L389 327.3 L392.4 327.8 L394.5 327.8 L396.3 328 L399.1 329.2 L400.7 329.7 L403.2 331.2 L404.5 332 L405.8 333 L408.3 335.1 L409.4 336.3 L410.5 337.7 L411.5 339.2 L412.5 340.7 L414.8 343.3 L415.7 344.9 L416.6 346.5 L417.6 348.2 L418.5 349.9 L419.5 351.7 L420.4 353.5 L422 356.2 L423 358.2 L424 360.3 L425.1 362.3 L426.2 364.2 L426.6 365.2 L427.8 366.8 L429.1 368.2 L431.5 370.3 L432.6 371.3 L434.8 373.1 L436.1 373.8 L437.5 374.5 L440.1 376.2 L441.8 376.9 L444.6 378.6 L446.4 379.5 L449 381.5 L450.6 382.6 L452.9 384.8 L455 387.1 L456.8 389.4 L457.8 390.8 L459 393.1 L459.9 395.4 L460.7 398.3 L460.9 400 L460.9 402 L460.3 403.7 L459.2 405 L458.3 407 L457.7 409.2 L457.4 411 L457.2 412.1 L457.9 414.7 L457.9 416.1 L457.9 417.5 L458.5 420 L458.8 421.8 L459.4 423.6 L460 424.9 L461.2 426.5 L462 427.5 L462.9 428.5 L464.3 430 L465.3 431.3 L466.2 432.5 L467.3 433.9 L467.9 434.8 L468.4 435.8 L468.8 437 L469.4 438.5 L469.2 439.4 L470 441.2 L471.1 443.1 L471.4 444 L472.8 446 L473.6 447 L475.3 449 L476.3 450 L478.2 452 L479.1 452.9 L480.8 454.7 L482.4 456.4 L484 458.1 L484.9 459 L486.4 460.6 L487.9 462.2 L489.4 463.9 L490.2 464.9 L491.7 467.3 L492.2 468.7 L492.5 470.2 L492.7 471.8 L492.8 473.4 L493 475 L493.4 476.5 L494.1 478 L495.9 480.8 L498 482.2 L500.9 483.6 L504.9 486.3 L508.7 487.6 L512.7 489 L517.2 491.7 L522.1 493.1 L527.4 494.4 L533 497.2 L537.3 498.6 L539.8 500 L541.6 502.9 L542.7 504.4 L543.6 505.9 L544.5 507.4 L545.6 510.4 L546.4 512 L547.1 513.6 L547.9 515.2 L548.6 516.9 L549.7 520.2 L550.6 521.9 L551.7 523.5 L552.9 525 L554.7 528 L556.2 529.5 L557.7 530.9 L559.5 533.6 L560.9 534.9 L562.4 537 L563.9 539.3 L564.6 540.6 L565.2 542 L565.6 543.5 L565.8 545 L564.8 545.8 L564.6 547.2 L564.2 548.7 L562.8 549.5 L562.4 550.9 L561.1 551.6 L560.7 553.2 L560.1 554.9 L558.7 555.8 L558.1 557.6 L557.1 559.7 L555.1 560.8 L553 562 L551.6 564.9 L549.7 566.6 L548 568.2 L546.5 569.9 L545.2 571.5 L544.7 574 L544.7 576 L544.4 577.2 L545.2 579.1 L545.7 580.4 L546.4 583.4 L546.6 585 L546.7 586.7 L546.8 588.3 L546.7 590 L546.8 591.8 L547 594.7 L547.2 596.7 L547.2 597.8 L547.7 601.4 L547.9 602.9"/>
<path d="M-16 291.5 L-14.7 291.2 L-12.9 290.7 L-10.7 290.2 L-9.5 289.9 L-7.1 289.2 L-4.7 288.4 L-3.6 288 L-1.6 287.2 L0 286.3 L2.7 284.9 L4.4 283.7 L6.4 282.7 L8.5 281.7 L10.6 280.8 L11.9 280.4 L13.9 280 L16 279.8 L18.4 279.9 L20.1 280.3 L21.7 280.6 L23.9 280.7 L25.9 280.8 L27.5 280.9 L29.7 281.1 L31.1 281.2 L34.2 281.6 L35.8 281.9 L37.4 282.3 L40 282.9 L41.9 283.5 L44 284.2 L46 284.8 L47.5 285.3 L49.8 286 L52 286.4 L54.1 286.6 L55.5 286.7 L57.5 286.6 L59.5 286.5 L61.6 286.3 L63.8 286.1 L65.4 286.1 L67.8 285.9 L69.4 285.8 L71.5 285.5 L73.6 285.2 L75.7 284.8 L77.2 284.6 L79.5 284.1 L81 283.8 L83.3 283 L84.8 282.4 L87 281.3 L88.3 280.5 L90.2 279.3 L92 278 L93.8 276.8 L95.7 275.5 L97.7 274.5 L99.9 273.4 L101.5 272.5 L103.8 271.5 L105.2 270.8 L107.5 270.2 L109.8 269.9 L111.3 269.9 L113.6 270.3 L115.7 271.1 L117.5 272.1 L119.3 273.3 L121.4 274.6 L122.9 275.8 L124.5 277 L126.7 278.6 L128.2 279.9 L130.4 281.4 L132 282.3 L133.8 283 L135.8 283.3 L137.8 283.3 L140 283.1 L142.4 282.9 L143.6 282.7 L146.2 283 L147.5 283.2 L150 283.7 L151.2 284 L153.5 284.4 L155.9 284.9 L157.1 285.3 L160 285.9 L161.6 286.4 L163.4 286.9 L165.3 287.5 L167.2 288.1 L169.2 288.7 L171.1 289.4 L173.1 290 L175 290.6 L176.9 291.1 L178.8 291.6 L180.6 292 L182.5 292.3 L184.4 292.7 L186.2 293 L188.1 293.2 L190 293.5 L191.9 293.7 L193.7 294 L195.5 294.3 L199.2 295 L201.1 295.4 L203 295.8 L205 296.3 L207 296.8 L208.1 297.2 L210.1 297.8 L212.2 298.3 L214.4 298.9 L216.5 299.4 L218.7 299.9 L219.8 300.1 L222 300.5 L224.3 301 L226.6 301.5 L227.8 301.7 L230.2 302.2 L231.4 302.3 L233.8 302.6 L236 302.8 L238.1 302.9 L240 302.8 L241.6 302.7 L243.1 302.5 L245.5 302.4 L247.7 302.2 L250 302.2 L251.2 302.2 L253.8 302.6 L255 302.7 L257.5 303.3 L258.8 303.5 L261.2 304.4 L262.5 304.7 L263.8 305.1 L266.2 306.3 L267.5 306.7 L270 307.8 L271.2 308.2 L273.8 309.1 L275 309.4 L276.2 309.8 L278.8 310.7 L280 311 L282.5 311.9 L283.8 312.2 L286.2 312.9 L287.5 313.2 L290 313.9 L291.2 314.2 L293.6 314.9 L294.8 315.2 L297.3 316 L298.6 316.3 L301.5 317.1 L303 317.5 L304.7 317.9 L306.3 318.4 L308 318.9 L309.7 319.3 L313 320.1 L314.6 320.5 L316.2 320.9 L317.7 321.2 L320.8 321.7 L322.5 322 L324.2 322.4 L326 322.8 L329 323.5 L330.1 324 L332.3 324.7 L334.5 325.5 L336.7 326.3 L338.9 327.1 L340 327.7 L343 328.5 L344.8 328.9 L346.4 329.2 L348 329.4 L349.5 329.4 L352.6 329.4 L354.2 329.1 L356 328.6 L358.1 327.8 L360.3 326.9 L362.8 326 L365.4 325 L368.1 324 L369.8 323 L372.6 322.3 L374.3 321.8 L378.8 321.9 L381.2 321.7 L383.7 321.6 L386 321.5 L389.7 322 L391.9 322.2 L395.2 323.3 L397.1 323.9 L398.8 324.6 L401.4 326.1 L402.8 326.9 L405.3 328.5 L406.7 329.2 L408.1 329.9 L410.9 331.6 L412.3 332.4 L413.8 333.3 L415.2 334.3 L416.6 335.4 L419.2 337.7 L420.4 339 L421.6 340.3 L422.8 341.8 L424 343.2 L425.2 344.7 L426.3 346.3 L428.2 348.7 L429.5 350.6 L430.7 352.5 L431.9 354.3 L433.1 356.2 L433.5 357.3 L434.6 359.1 L435.6 360.6 L437.9 363.1 L438.8 364.2 L441.1 366 L442.7 366.6 L444.8 367.1 L448.3 368.6 L451 369.3 L455 371.1 L458 372.3 L461.7 374.9 L464.1 376.9 L467 380 L469.6 383.2 L471.8 386.5 L473.1 388.8 L474.8 391.8 L476.3 394.7 L478 398.1 L479.3 400 L481.9 402 L484.9 403.7 L487.8 405 L490.7 407 L492.9 409.2 L494.8 411 L496.3 412.1 L498.4 414.7 L499.7 416.1 L500.6 417.5 L501.8 420 L502.4 421.8 L502.8 423.6 L503.2 424.9 L504.1 426.5 L504.7 427.5 L505.4 428.5 L506.5 430 L507.5 431.3 L508.5 432.5 L509.8 433.9 L510.6 434.8 L511.5 435.8 L512.3 437 L513.3 438.5 L513.4 439.4 L514.4 441.2 L515.4 443.1 L515.5 444 L516.5 446 L516.5 447 L517.4 449 L517.3 450 L517.8 452 L517.3 452.9 L517.3 454.7 L517.2 456.4 L517 458.1 L516 459 L515.8 460.6 L515.6 462.2 L515.6 463.9 L515.1 464.9 L515.6 467.3 L515.4 468.7 L515.5 470.2 L515.6 471.8 L515.7 473.4 L515.9 475 L516 476.5 L516 478 L516.6 480.8 L516.2 482.2 L515.9 483.6 L516.3 486.3 L516.2 487.6 L516.1 489 L516.5 491.7 L515.2 493.1 L513.2 494.4 L511.8 497.2 L510.4 498.6 L510.3 500 L511 502.9 L511.3 504.4 L511.6 505.9 L512 507.4 L512.8 510.4 L513.4 512 L514.1 513.6 L514.9 515.2 L515.7 516.9 L516.9 520.2 L517.7 521.9 L518.4 523.5 L519 525 L519.8 528 L520.1 529.5 L520.3 530.9 L520.8 533.6 L521 534.9 L521.6 537 L522.9 539.3 L523.9 540.6 L525.3 542 L526.9 543.5 L528.7 545 L529.7 545.8 L531.7 547.2 L533.5 548.7 L534.4 549.5 L536.3 550.9 L537.1 551.6 L538.8 553.2 L540.3 554.9 L540.9 555.8 L542.4 557.6 L543.9 559.7 L544.9 560.8 L546 562 L548 564.9 L549.3 566.6 L550.6 568.2 L551.9 569.9 L553.1 571.5 L554.7 574 L556.3 576 L557.2 577.2 L557.8 579.1 L558.2 580.4 L559 583.4 L559.5 585 L560.1 586.7 L560.8 588.3 L561.4 590 L562.1 591.8 L562.9 594.7 L563.4 596.7 L563.6 597.8 L564.1 601.4 L564.1 602.9"/>
<path d="M-16 290.2 L-14.7 289.9 L-12.9 289.4 L-10.7 288.8 L-9.5 288.5 L-7.1 287.7 L-4.7 286.9 L-3.6 286.4 L-1.6 285.7 L0 285.1 L2.7 284.1 L4.4 283.4 L6.4 282.8 L8.5 282.3 L10.6 282 L11.9 281.9 L13.9 281.8 L16 281.7 L18.4 281.9 L20.1 282.2 L21.7 282.4 L23.9 282.5 L25.9 282.4 L27.5 282.4 L29.7 282.3 L31.1 282.2 L34.2 282.3 L35.8 282.1 L37.4 282.1 L40 282.1 L41.9 282 L44 281.9 L46 281.8 L47.5 281.6 L49.8 281.6 L52 281.5 L54.1 281.4 L55.5 281.2 L57.5 281 L59.5 280.8 L61.6 280.5 L63.8 280.3 L65.4 280.1 L67.8 279.8 L69.4 279.6 L71.5 279.1 L73.6 278.5 L75.7 278.1 L77.2 278 L79.5 277.6 L81 277.5 L83.3 276.9 L84.8 276.5 L87 275.6 L88.3 274.9 L90.2 273.9 L92 272.8 L93.8 271.7 L95.7 270.6 L97.7 269.8 L99.9 269.1 L101.5 269.1 L103.8 269.2 L105.2 269.6 L107.5 270 L109.8 270.5 L111.3 270.8 L113.6 271.2 L115.7 271.8 L117.5 272.5 L119.3 273.3 L121.4 274.2 L122.9 274.9 L124.5 275.6 L126.7 276.6 L128.2 277.1 L130.4 277.9 L132 278.3 L133.8 278.7 L135.8 279.4 L137.8 280.5 L140 281.6 L142.4 282.5 L143.6 282.8 L146.2 283 L147.5 282.9 L150 282.9 L151.2 282.8 L153.5 282.9 L155.9 283.1 L157.1 283.3 L160 283.9 L161.6 284.3 L163.4 284.8 L165.3 285.4 L167.2 286 L169.2 286.6 L171.1 287.2 L173.1 287.9 L175 288.6 L176.9 289.3 L178.8 289.9 L180.6 290.6 L182.5 291.1 L184.4 291.6 L186.2 292.1 L188.1 292.6 L190 293.1 L191.9 293.6 L193.7 294.1 L195.5 294.6 L199.2 295.4 L201.1 295.9 L203 296.4 L205 296.8 L207 297.1 L208.1 297 L210.1 297.1 L212.2 297.1 L214.4 297 L216.5 296.9 L218.7 296.7 L219.8 296.4 L222 296.3 L224.3 296.2 L226.6 296.1 L227.8 295.6 L230.2 295.4 L231.4 294.8 L233.8 294.5 L236 294.2 L238.1 293.9 L240 293.7 L241.6 293.6 L243.1 293.5 L245.5 293.5 L247.7 293.6 L250 294 L251.2 294.2 L253.8 295 L255 295.3 L257.5 296.2 L258.8 296.7 L261.2 297.7 L262.5 298.3 L263.8 298.9 L266.2 300.2 L267.5 300.9 L270 302.1 L271.2 302.6 L273.8 303.7 L275 304.1 L276.2 304.5 L278.8 305.3 L280 305.6 L282.5 306.3 L283.8 306.6 L286.2 307.4 L287.5 307.7 L290 308.6 L291.2 309.1 L293.6 310.2 L294.8 310.8 L297.3 311.9 L298.6 312.5 L301.5 313.5 L303 314 L304.7 314.5 L306.3 315 L308 315.4 L309.7 315.9 L313 316.6 L314.6 317 L316.2 317.4 L317.7 317.7 L320.8 318.1 L322.5 318.3 L324.2 318.5 L326 318.8 L329 319.2 L330.1 319.4 L332.3 319.7 L334.5 320.2 L336.7 320.7 L338.9 321.2 L340 321.7 L343 322.4 L344.8 323 L346.4 323.5 L348 324.1 L349.5 324.6 L352.6 325.2 L354.2 325.9 L356 326.7 L358.1 327.6 L360.3 328.6 L362.5 329.7 L364.8 330.9 L367 332 L367.9 333.1 L369.9 334.2 L370.7 335.1 L374.1 336.4 L375.4 337.3 L376.5 338.3 L377.5 339.4 L379.7 341 L380.3 342.4 L382 344.4 L382.4 346 L382.7 347.5 L384.1 349.9 L384.6 351.2 L386.6 353.3 L387.8 354.3 L389.3 354.9 L392.2 356.2 L394 356.5 L395.9 356.8 L397.8 357 L399.7 357.2 L402.8 358.6 L404.5 359.2 L406.1 359.8 L407.5 360.7 L409 361.6 L410.5 362.6 L412 363.6 L414.4 365.3 L416 366.5 L417.6 367.8 L419.2 369.2 L420.6 370.6 L421.2 371.4 L422.5 372.9 L423.7 374.3 L426 376.6 L427.1 377.6 L429.4 379.2 L430.7 379.7 L432.1 380 L434.7 381.1 L436.4 381.3 L439.2 382.5 L440.8 382.9 L443.4 384.4 L444.8 385.2 L446.7 387 L448.5 388.8 L450 390.8 L450.8 391.8 L451.9 393.7 L452.8 395.6 L453.8 398.4 L454.2 400 L454.5 402 L454.4 403.7 L453.5 405 L452.7 407 L451.7 409.2 L450.8 411 L449.8 412.1 L449.5 414.7 L448.8 416.1 L448.4 417.5 L448.9 420 L449.4 421.8 L450.3 423.6 L451.1 424.9 L452.5 426.5 L453.6 427.5 L454.7 428.5 L456.4 430 L458 431.3 L459.7 432.5 L461.9 433.9 L463.6 434.8 L465.4 435.8 L467.4 437 L469.3 438.5 L470.4 439.4 L472.2 441.2 L474 443.1 L474.9 444 L476.7 446 L477.7 447 L479.7 449 L481 450 L483.2 452 L484.8 452.9 L487.3 454.7 L489.8 456.4 L492.3 458.1 L494.1 459 L496.5 460.6 L499 462.2 L501.4 463.9 L503.1 464.9 L505.8 467.3 L507.9 468.7 L510 470.2 L512 471.8 L513.8 473.4 L515.4 475 L516.8 476.5 L517.9 478 L519.4 480.8 L520.2 482.2 L520.7 483.6 L521.7 486.3 L522.1 487.6 L522.6 489 L523.8 491.7 L524.4 493.1 L525.1 494.4 L526.5 497.2 L527.4 498.6 L528.2 500 L529.3 502.9 L530 504.4 L530.7 505.9 L531.5 507.4 L532.7 510.4 L533.6 512 L534.6 513.6 L535.7 515.2 L536.7 516.9 L538 520.2 L538.7 521.9 L539.4 523.5 L540 525 L541 528 L541.4 529.5 L541.9 530.9 L542.7 533.6 L543.2 534.9 L544.1 537 L545.4 539.3 L546.3 540.6 L547.4 542 L548.7 543.5 L550.2 545 L550.7 545.8 L552.1 547.2 L553.5 548.7 L554 549.5 L555.6 550.9 L556.2 551.6 L557.7 553.2 L559 554.9 L559.4 555.8 L560.3 557.6 L560.9 559.7 L560.4 560.8 L559.5 562 L559 564.9 L557.7 566.6 L556.4 568.2 L555.2 569.9 L554.1 571.5 L553.7 574 L553.7 576 L553.6 577.2 L554.2 579.1 L554.7 580.4 L555.5 583.4 L556 585 L556.4 586.7 L556.8 588.3 L557.3 590 L557.8 591.8 L558.5 594.7 L559.2 596.7 L559.7 597.8 L560.6 601.4 L561.1 602.9"/>
<path d="M-16 287.9 L-14.7 287.6 L-12.9 287 L-10.7 286.4 L-9.5 286.1 L-7.1 285.3 L-4.7 284.6 L-3.6 284.3 L-1.6 283.8 L0 283.3 L2.7 282.5 L4.4 281.9 L6.4 281.4 L8.5 280.8 L10.6 280.1 L11.9 279.6 L13.9 278.8 L16 278 L18.4 277.3 L20.1 276.9 L21.7 276.5 L23.9 276 L25.9 275.6 L27.5 275.4 L29.7 275.3 L31.1 275.3 L34.2 275.4 L35.8 275.4 L37.4 275.5 L40 275.8 L41.9 276.1 L44 276.6 L46 277.1 L47.5 277.7 L49.8 278.4 L52 279.1 L54.1 279.7 L55.5 280.3 L57.5 280.7 L59.5 281.1 L61.6 281.3 L63.8 281.4 L65.4 281.3 L67.8 281 L69.4 280.6 L71.5 280 L73.6 279.3 L75.7 278.5 L77.2 278 L79.5 277.2 L81 276.7 L83.3 275.9 L84.8 275.4 L87 274.9 L88.3 274.9 L90.2 274.6 L92 274.4 L93.8 274.1 L95.7 273.7 L97.7 273.2 L99.9 272.6 L101.5 272.1 L103.8 271.4 L105.2 270.9 L107.5 270.4 L109.8 270.1 L111.3 270 L113.6 270 L115.7 270.3 L117.5 270.7 L119.3 271.2 L121.4 271.8 L122.9 272 L124.5 272.1 L126.7 272.6 L128.2 272.8 L130.4 273.5 L132 273.9 L133.8 274.4 L135.8 275.3 L137.8 276.5 L140 278 L142.4 279.6 L143.6 280.8 L146.2 281.8 L147.5 282.6 L150 283.6 L151.2 284.3 L153.5 285.3 L155.9 286.3 L157.1 287 L160 288 L161.6 288.5 L163.4 289 L165.3 289.5 L167.2 290 L169.2 290.4 L171.1 290.9 L173.1 291.4 L175 291.9 L176.9 292.6 L178.8 293.3 L180.6 294.1 L182.5 294.9 L184.4 295.6 L186.2 296.3 L188.1 297 L190 297.5 L191.9 298 L193.7 298.4 L195.5 298.8 L199.2 299.6 L201.1 300 L203 300.4 L205 300.9 L207 301.5 L208.1 301.8 L210.1 302.3 L212.2 302.8 L214.4 303.3 L216.5 303.9 L218.7 304.5 L219.8 305 L222 305.8 L224.3 306.7 L226.6 307.7 L227.8 308.4 L230.2 309.4 L231.4 310.1 L233.8 310.9 L236 311.7 L238.1 312.2 L240 312.7 L241.6 312.9 L243.1 313.1 L245.5 313.3 L247.7 313.5 L250 313.9 L251.2 314.2 L253.8 314.8 L255 315.1 L257.5 315.9 L258.8 316.3 L261.2 317.4 L262.5 318 L263.8 318.7 L266.2 320.2 L267.5 321.1 L270 322.6 L271.2 323.3 L273.8 324.6 L275 325.3 L276.2 325.9 L278.8 326.9 L280 327.4 L282.5 328.3 L283.8 328.7 L286.2 329.6 L287.5 330.1 L290 331 L291.2 331.4 L293.6 332.4 L294.8 332.8 L297.3 333.7 L298.6 334.1 L301.5 334.8 L303 335.1 L304.7 335.5 L306.3 335.9 L308 336.3 L309.7 336.7 L313 337.5 L314.6 337.8 L316.2 338.2 L317.7 338.4 L320.8 338.7 L322.5 338.8 L324.2 339 L326 339.1 L329 339.5 L330.1 339.6 L332.3 340 L334.5 340.4 L336.7 340.7 L338.9 341.1 L340 341.2 L343 341.6 L344.8 341.7 L346.4 341.7 L348 341.7 L349.5 341.7 L352.6 341.9 L354.2 342 L355.9 342.1 L357.7 342.2 L359.6 342.4 L361.6 342.5 L363.6 342.6 L365.5 342.5 L366.3 342.3 L368.1 342.2 L368.9 341.8 L372.3 342 L373.7 341.8 L375.2 341.5 L376.7 341.2 L379.6 341.2 L381.1 340.9 L384 341.3 L385.5 341.2 L387.1 341.2 L389.6 342.2 L391.1 342.6 L393.6 344 L394.9 344.8 L396.2 345.7 L398.7 347.7 L399.9 348.9 L401 350.1 L402.1 351.4 L403.3 352.6 L405.7 354.9 L406.9 356.1 L408.1 357.2 L409.4 358.4 L410.7 359.5 L412.1 360.6 L413.6 361.7 L415.8 363.6 L417.5 364.8 L419.2 366 L421 367 L422.9 368 L424 368.2 L425.9 369 L427.7 369.7 L430.6 371.4 L432.1 371.9 L434.8 373.1 L436.6 373.3 L438.5 373.5 L441.7 374.7 L444 375.1 L447.5 376.5 L450.1 377.2 L453.6 379.1 L455.9 380.4 L459 382.7 L461.9 385.3 L464.6 387.9 L466.6 389.7 L469 392.3 L471 394.9 L473.2 398.1 L474.9 400 L477 402 L478.5 403.7 L479.3 405 L480.1 407 L480.9 409.2 L481.8 411 L483 412.1 L485.3 414.7 L487.1 416.1 L488.4 417.5 L489.5 420 L489.5 421.8 L489.4 423.6 L489 424.9 L489 426.5 L488.5 427.5 L487.9 428.5 L487.7 430 L487.2 431.3 L486.8 432.5 L486.9 433.9 L486.8 434.8 L487 435.8 L487.3 437 L487.7 438.5 L487.3 439.4 L487.8 441.2 L488.2 443.1 L487.7 444 L488.1 446 L487.7 447 L488.4 449 L488.5 450 L490 452 L491 452.9 L493.1 454.7 L495.5 456.4 L498 458.1 L499.8 459 L502.2 460.6 L504.3 462.2 L506.3 463.9 L507.6 464.9 L510 467.3 L511.9 468.7 L513.9 470.2 L516.1 471.8 L518.3 473.4 L520.3 475 L522.2 476.5 L523.7 478 L525.6 480.8 L526.1 482.2 L525.8 483.6 L525.9 486.3 L525.8 487.6 L526.3 489 L527.8 491.7 L528.8 493.1 L529.9 494.4 L531.4 497.2 L531.9 498.6 L532.1 500 L532.5 502.9 L532.4 504.4 L532.2 505.9 L532.1 507.4 L532.4 510.4 L532.6 512 L532.9 513.6 L533.4 515.2 L533.8 516.9 L534.6 520.2 L534.9 521.9 L535.2 523.5 L535.4 525 L535.9 528 L535.9 529.5 L535.9 530.9 L536.2 533.6 L536.1 534.9 L536.3 537 L536.6 539.3 L536.4 540.6 L536 542 L535.5 543.5 L535 545 L533.5 545.8 L533 547.2 L532.6 548.7 L531.4 549.5 L531.6 550.9 L531 551.6 L531.7 553.2 L532.7 554.9 L532.7 555.8 L533.3 557.6 L533.6 559.7 L533 560.8 L532.4 562 L532.5 564.9 L531.9 566.6 L531.4 568.2 L530.9 569.9 L530.5 571.5 L530.6 574 L530.9 576 L530.6 577.2 L530.8 579.1 L530.7 580.4 L531 583.4 L531 585 L531.2 586.7 L531.5 588.3 L532.1 590 L532.8 591.8 L533.8 594.7 L534.6 596.7 L535.2 597.8 L536.2 601.4 L536.6 602.9"/>
<path d="M-16 287.8 L-14.7 287.5 L-12.9 287 L-10.7 286.4 L-9.5 286.1 L-7.1 285.4 L-4.7 284.6 L-3.6 284.1 L-1.6 283.4 L0 282.7 L2.7 281.5 L4.4 280.6 L6.4 279.8 L8.5 279 L10.6 278.3 L11.9 277.8 L13.9 277.2 L16 276.8 L18.4 276.9 L20.1 277.3 L21.7 277.8 L23.9 278.1 L25.9 278.1 L27.5 278.1 L29.7 278.1 L31.1 278.1 L34.2 278.2 L35.8 278.3 L37.4 278.4 L40 278.7 L41.9 278.8 L44 279 L46 279.3 L47.5 279.5 L49.8 280 L52 280.6 L54.1 281.3 L55.5 282.1 L57.5 283 L59.5 284 L61.6 284.9 L63.8 285.7 L65.4 286.3 L67.8 286.6 L69.4 287 L71.5 287.2 L73.6 287.3 L75.7 287.4 L77.2 287.7 L79.5 287.7 L81 287.7 L83.3 287.3 L84.8 287 L87 286.2 L88.3 285.5 L90.2 284.5 L92 283.3 L93.8 282 L95.7 280.8 L97.7 279.7 L99.9 278.6 L101.5 277.6 L103.8 276.3 L105.2 275.3 L107.5 274.3 L109.8 273.7 L111.3 273.4 L113.6 273.4 L115.7 273.7 L117.5 274.3 L119.3 275.1 L121.4 276 L122.9 276.7 L124.5 277.4 L126.7 278.5 L128.2 279.4 L130.4 280.6 L132 281.5 L133.8 282.3 L135.8 283.2 L137.8 284.2 L140 285.4 L142.4 286.6 L143.6 287.7 L146.2 288.9 L147.5 289.9 L150 291.2 L151.2 292.2 L153.5 293.4 L155.9 294.6 L157.1 295.3 L160 296.2 L161.6 296.6 L163.4 296.9 L165.3 297.1 L167.2 297.3 L169.2 297.5 L171.1 297.7 L173.1 297.9 L175 298.1 L176.9 298.4 L178.8 298.8 L180.6 299.2 L182.5 299.6 L184.4 300 L186.2 300.4 L188.1 300.8 L190 301.1 L191.9 301.4 L193.7 301.6 L195.5 301.9 L199.2 302.4 L201.1 302.6 L203 302.9 L205 303.3 L207 303.6 L208.1 303.8 L210.1 304.2 L212.2 304.6 L214.4 305 L216.5 305.4 L218.7 305.7 L219.8 305.8 L222 306.1 L224.3 306.5 L226.6 306.8 L227.8 306.9 L230.2 307.3 L231.4 307.5 L233.8 308 L236 308.5 L238.1 309.1 L240 309.6 L241.6 310.1 L243.1 310.4 L245.5 310.9 L247.7 311.3 L250 311.9 L251.2 312.3 L253.8 313.2 L255 313.8 L257.5 314.8 L258.8 315.5 L261.2 316.7 L262.5 317.5 L263.8 318.3 L266.2 319.8 L267.5 320.5 L270 321.9 L271.2 322.4 L273.8 323.5 L275 324 L276.2 324.4 L278.8 325.4 L280 325.9 L282.5 326.9 L283.8 327.5 L286.2 328.5 L287.5 329.1 L290 330.2 L291.2 330.9 L293.6 332 L294.8 332.7 L297.3 333.8 L298.6 334.3 L301.5 335.3 L303 335.7 L304.7 336.1 L306.3 336.5 L308 336.8 L309.7 337.1 L313 337.7 L314.6 337.9 L316.2 338 L317.7 338.1 L320.8 338.3 L322.5 338.4 L324.2 338.4 L326 338.5 L329 338.7 L330.1 338.7 L332.3 338.8 L334.5 339 L336.7 339.1 L338.9 339.3 L340 339.4 L343 339.8 L344.8 340 L346.4 340.1 L348 340.3 L349.5 340.4 L352.6 340.6 L354.2 340.8 L355.9 340.9 L357.8 341.1 L359.7 341.3 L361.7 341.5 L363.7 341.7 L365.6 341.8 L366.4 341.9 L368.1 342 L368.8 342 L372.2 342.4 L373.5 342.4 L374.8 342.4 L376.1 342.3 L378.9 342.6 L380.2 342.5 L382.8 343.1 L384.1 343.3 L385.4 343.7 L387.6 345 L388.8 345.7 L391.1 347.4 L392.3 348.4 L393.4 349.4 L395.8 351.5 L396.9 352.7 L398 354 L399.1 355.3 L400.2 356.5 L402.6 358.8 L403.8 360 L405 361.1 L406.3 362.2 L407.7 363.2 L409.2 364.1 L410.8 365 L413.4 366.5 L415.3 367.3 L417.3 368.1 L419.4 368.9 L421.4 369.7 L422.7 369.8 L424.6 370.5 L426.4 371.2 L429.2 372.9 L430.6 373.6 L432.9 375.2 L433.9 376.1 L434.8 377.2 L436.6 379.4 L437.2 380.6 L438.7 382.9 L438.9 384.1 L440 386.2 L440 387.2 L440.8 389 L441.5 390.7 L442.1 392.3 L442.2 392.9 L443 394.4 L443.6 396 L444.6 398.5 L445.1 400 L445.8 402 L446.3 403.7 L446.3 405 L446.5 407 L446.8 409.2 L447.2 411 L447.5 412.1 L448.9 414.7 L450.1 416.1 L451.6 417.5 L453.9 420 L455.6 421.8 L457.1 423.6 L458.5 424.9 L460.5 426.5 L462.1 427.5 L463.7 428.5 L465.7 430 L467.4 431.3 L469.2 432.5 L471.3 433.9 L472.9 434.8 L474.7 435.8 L476.7 437 L479 438.5 L480.6 439.4 L483.2 441.2 L485.9 443.1 L487.6 444 L490.2 446 L491.8 447 L494.2 449 L495.6 450 L497.6 452 L498.7 452.9 L500.4 454.7 L502.1 456.4 L503.7 458.1 L504.6 459 L506.1 460.6 L507.6 462.2 L509 463.9 L509.7 464.9 L511.2 467.3 L511.7 468.7 L512 470.2 L512.1 471.8 L512.2 473.4 L512.3 475 L512.4 476.5 L512.6 478 L513.8 480.8 L515 482.2 L516.9 483.6 L519 486.3 L519.8 487.6 L520.3 489 L521.3 491.7 L521.6 493.1 L521.8 494.4 L522.7 497.2 L523.1 498.6 L523.7 500 L524.7 502.9 L525.2 504.4 L525.8 505.9 L526.4 507.4 L527.5 510.4 L528.3 512 L529.1 513.6 L530 515.2 L530.8 516.9 L532 520.2 L532.8 521.9 L533.8 523.5 L535.2 525 L537.2 528 L539 529.5 L540.7 530.9 L542.8 533.6 L544.4 534.9 L546 537 L547.7 539.3 L548.5 540.6 L549.3 542 L550 543.5 L550.6 545 L550.1 545.8 L550.3 547.2 L550.2 548.7 L549.1 549.5 L548.8 550.9 L547.4 551.6 L546.9 553.2 L546.2 554.9 L544.7 555.8 L544.1 557.6 L543.3 559.7 L541.4 560.8 L539.3 562 L537.9 564.9 L535.8 566.6 L533.7 568.2 L531.7 569.9 L529.8 571.5 L528.7 574 L528 576 L527.2 577.2 L527.8 579.1 L528.2 580.4 L529.2 583.4 L529.9 585 L530.6 586.7 L531.3 588.3 L532 590 L532.7 591.8 L533.4 594.7 L533.9 596.7 L534 597.8 L534.5 601.4 L534.6 602.9"/>
<path d="M-16 285.7 L-14.7 285.4 L-12.9 285 L-10.7 284.5 L-9.5 284.3 L-7.1 283.6 L-4.7 282.9 L-3.6 282.5 L-1.6 282 L0 281.7 L2.7 281.2 L4.4 281 L6.4 280.9 L8.5 280.8 L10.6 280.6 L11.9 280.5 L13.9 280.2 L16 279.9 L18.4 279.6 L20.1 279.5 L21.7 279.4 L23.9 279.3 L25.9 279.1 L27.5 279.2 L29.7 279.4 L31.1 279.6 L34.2 280.1 L35.8 280.4 L37.4 280.8 L40 281.4 L41.9 281.9 L44 282.6 L46 283.3 L47.5 283.9 L49.8 284.6 L52 285.2 L54.1 285.5 L55.5 285.7 L57.5 285.8 L59.5 285.8 L61.6 285.7 L63.8 285.5 L65.4 285.4 L67.8 285.1 L69.4 284.8 L71.5 284.4 L73.6 284 L75.7 283.7 L77.2 283.6 L79.5 283.3 L81 283.2 L83.3 282.5 L84.8 282 L87 280.9 L88.3 280 L90.2 278.7 L92 277.3 L93.8 275.9 L95.7 274.6 L97.7 273.6 L99.9 272.7 L101.5 272.1 L103.8 271.5 L105.2 271.1 L107.5 270.6 L109.8 270.3 L111.3 270.1 L113.6 270.2 L115.7 270.4 L117.5 270.9 L119.3 271.6 L121.4 272.3 L122.9 272.9 L124.5 273.6 L126.7 274.5 L128.2 275.1 L130.4 276 L132 276.4 L133.8 276.7 L135.8 277 L137.8 277.1 L140 277.3 L142.4 277.5 L143.6 277.6 L146.2 277.9 L147.5 278 L150 278.4 L151.2 278.8 L153.5 279.5 L155.9 280.2 L157.1 280.8 L160 281.5 L161.6 281.9 L163.4 282.3 L165.3 282.8 L167.2 283.3 L169.2 283.9 L171.1 284.5 L173.1 285.1 L175 285.7 L176.9 286.3 L178.8 286.9 L180.6 287.4 L182.5 288 L184.4 288.6 L186.2 289.1 L188.1 289.7 L190 290.2 L191.9 290.6 L193.7 291 L195.5 291.4 L199.2 292 L201.1 292.2 L203 292.5 L205 292.7 L207 293.1 L208.1 293.3 L210.1 293.8 L212.2 294.4 L214.4 295.1 L216.5 295.8 L218.7 296.5 L219.8 297 L222 297.6 L224.3 298.3 L226.6 299.1 L227.8 299.5 L230.2 300.3 L231.4 300.9 L233.8 301.7 L236 302.6 L238.1 303.3 L240 304 L241.6 304.5 L243.1 304.8 L245.5 305.2 L247.7 305.5 L250 305.9 L251.2 306.2 L253.8 307 L255 307.4 L257.5 308.4 L258.8 308.9 L261.2 310.2 L262.5 310.9 L263.8 311.6 L266.2 313.1 L267.5 313.9 L270 315.2 L271.2 315.8 L273.8 316.9 L275 317.5 L276.2 318.1 L278.8 319.3 L280 319.9 L282.5 321 L283.8 321.5 L286.2 322.5 L287.5 323 L290 323.9 L291.2 324.2 L293.6 325.1 L294.8 325.4 L297.3 326.3 L298.6 326.7 L301.5 327.5 L303 328 L304.7 328.4 L306.3 328.9 L308 329.3 L309.7 329.8 L313 330.4 L314.6 330.8 L316.2 331.1 L317.7 331.3 L320.8 331.8 L322.5 332.1 L324.2 332.5 L326 332.9 L329 333.6 L330.1 333.9 L332.3 334.4 L334.5 334.8 L336.7 335.2 L338.9 335.5 L340 335.6 L343 335.9 L344.8 336 L346.4 336 L348 336 L349.5 335.9 L352.6 336 L354.2 335.9 L356 335.7 L357.9 335.5 L360 335.3 L362.1 335 L364.4 334.8 L366.6 334.6 L367.7 334.4 L369.9 334.3 L371 334.2 L374.7 334.5 L376.4 334.6 L378.1 334.6 L379.9 334.4 L383.1 334.6 L384.9 334.4 L388 334.9 L389.7 335 L391.4 335.1 L394 336.2 L395.6 336.5 L398.2 337.9 L399.7 338.4 L401.3 339 L404.2 340.4 L405.9 341 L407.5 341.5 L409.2 342.1 L410.8 342.8 L413.7 344.7 L415.1 345.6 L416.5 346.7 L417.8 347.9 L419 349.3 L420.3 350.7 L421.5 352.2 L423.4 354.5 L424.6 356.3 L425.9 358.1 L427.1 359.9 L428.3 361.7 L428.8 362.8 L429.9 364.4 L431.1 365.8 L433.4 368.1 L434.6 369 L437 370.7 L438.5 371.2 L440.2 371.8 L443.3 373.2 L445.5 373.8 L448.9 375.5 L451.3 376.5 L454.6 378.6 L456.6 380.1 L459.1 382.7 L461.2 385.5 L463.1 388.2 L464.1 390 L465.6 392.6 L467 395.1 L468.7 398.2 L470.4 400 L472.5 402 L474.9 403.7 L477 405 L479.4 407 L481.8 409.2 L484.1 411 L486.1 412.1 L489.2 414.7 L492.5 416.1 L495.6 417.5 L498.5 420 L499.9 421.8 L501 423.6 L501.7 424.9 L502.6 426.5 L502.8 427.5 L502.8 428.5 L503 430 L502.9 431.3 L502.8 432.5 L503.4 433.9 L503.5 434.8 L503.6 435.8 L503.7 437 L504 438.5 L503.4 439.4 L503.7 441.2 L504.1 443.1 L503.6 444 L504.2 446 L504.2 447 L505.3 449 L506 450 L507.8 452 L509.2 452.9 L511.6 454.7 L514.2 456.4 L516.7 458.1 L518.4 459 L520.7 460.6 L522.7 462.2 L524.6 463.9 L525.5 464.9 L527.4 467.3 L528.5 468.7 L529.7 470.2 L531 471.8 L532.2 473.4 L533.4 475 L534.4 476.5 L535.3 478 L536.8 480.8 L537.5 482.2 L538.3 483.6 L539.8 486.3 L540.8 487.6 L542.1 489 L544.1 491.7 L545.6 493.1 L547.5 494.4 L549.8 497.2 L551.3 498.6 L552.4 500 L553.6 502.9 L554 504.4 L554.4 505.9 L554.7 507.4 L555.4 510.4 L555.8 512 L556.2 513.6 L556.7 515.2 L557.1 516.9 L557.9 520.2 L558.3 521.9 L558.7 523.5 L559.4 525 L560.7 528 L561.9 529.5 L563.3 530.9 L565.2 533.6 L566.8 534.9 L568.7 537 L570.7 539.3 L571.9 540.6 L573 542 L574.1 543.5 L575 545 L574.9 545.8 L575.5 547.2 L576 548.7 L575.6 549.5 L576.3 550.9 L575.9 551.6 L576.7 553.2 L577.3 554.9 L577 555.8 L577.5 557.6 L577.8 559.7 L577.3 560.8 L576.7 562 L577 564.9 L576.6 566.6 L576.5 568.2 L576.5 569.9 L576.7 571.5 L577.6 574 L578.7 576 L579.3 577.2 L580.1 579.1 L580.7 580.4 L581.5 583.4 L581.9 585 L582.3 586.7 L582.7 588.3 L583.1 590 L583.6 591.8 L584.3 594.7 L584.7 596.7 L584.9 597.8 L585.5 601.4 L585.6 602.9"/>
<path d="M-16 285.9 L-14.7 285.5 L-12.9 284.9 L-10.7 284.3 L-9.5 284.1 L-7.1 283.5 L-4.7 282.9 L-3.6 282.7 L-1.6 282.2 L0 281.7 L2.7 280.8 L4.4 280.1 L6.4 279.5 L8.5 278.9 L10.6 278.4 L11.9 278 L13.9 277.5 L16 276.9 L18.4 276.5 L20.1 276.2 L21.7 275.9 L23.9 275.6 L25.9 275.4 L27.5 275.5 L29.7 275.8 L31.1 276.2 L34.2 276.9 L35.8 277.4 L37.4 277.9 L40 278.5 L41.9 278.9 L44 279.4 L46 279.9 L47.5 280.3 L49.8 280.9 L52 281.4 L54.1 281.8 L55.5 282 L57.5 282.1 L59.5 282.1 L61.6 281.9 L63.8 281.7 L65.4 281.5 L67.8 281.2 L69.4 280.9 L71.5 280.5 L73.6 280 L75.7 279.6 L77.2 279.4 L79.5 278.9 L81 278.6 L83.3 277.9 L84.8 277.5 L87 276.9 L88.3 276.6 L90.2 276.1 L92 275.6 L93.8 275 L95.7 274.3 L97.7 273.6 L99.9 272.8 L101.5 272.1 L103.8 271.3 L105.2 270.7 L107.5 270.1 L109.8 269.8 L111.3 269.6 L113.6 269.5 L115.7 269.6 L117.5 269.9 L119.3 270.2 L121.4 270.7 L122.9 271 L124.5 271.3 L126.7 271.8 L128.2 272 L130.4 272.5 L132 272.7 L133.8 273.1 L135.8 273.5 L137.8 274 L140 274.6 L142.4 275.2 L143.6 275.6 L146.2 276.3 L147.5 276.7 L150 277.3 L151.2 277.6 L153.5 277.9 L155.9 278 L157.1 277.9 L160 278.1 L161.6 278.3 L163.4 278.4 L165.3 278.6 L167.2 278.9 L169.2 279.3 L171.1 279.7 L173.1 280.1 L175 280.5 L176.9 281 L178.8 281.4 L180.6 281.8 L182.5 282.2 L184.4 282.7 L186.2 283.2 L188.1 283.8 L190 284.4 L191.9 285 L193.7 285.5 L195.5 285.9 L199.2 286.5 L201.1 286.8 L203 287 L205 287.2 L207 287.4 L208.1 287.5 L210.1 287.7 L212.2 288 L214.4 288.2 L216.5 288.5 L218.7 288.6 L219.8 288.5 L222 288.7 L224.3 288.8 L226.6 289.1 L227.8 288.9 L230.2 288.8 L231.4 288.5 L233.8 288.5 L236 288.6 L238.1 288.9 L240 289.4 L241.6 289.9 L243.1 290.3 L245.5 290.9 L247.7 291.5 L250 292.3 L251.2 293.1 L253.8 294.3 L255 295.1 L257.5 296.4 L258.8 297.3 L261.2 298.8 L262.5 299.7 L263.8 300.8 L266.2 302.6 L267.5 303.8 L270 305.6 L271.2 306.8 L273.8 308.5 L275 309.7 L276.2 310.9 L278.8 312.7 L280 314 L282.5 315.8 L283.8 317.2 L286.2 319 L287.5 320.4 L290 322.2 L291.2 323.4 L293.6 325.1 L294.8 326 L297.3 327.3 L298.6 327.9 L301.5 328.8 L303 329 L304.7 329.1 L306.3 329.2 L308 329.1 L309.7 328.8 L313 328.8 L314.6 328.3 L316.2 327.8 L317.7 327.1 L320.8 326.7 L322.5 326.2 L324.2 325.9 L326 325.8 L329 325.9 L330.1 325.7 L332.3 325.7 L334.5 325.6 L336.7 325.5 L338.9 325.4 L340 325 L343 324.9 L344.8 324.5 L346.4 324.2 L348 323.8 L349.5 323.4 L352.6 323 L354.2 322.4 L356.1 321.6 L358.2 320.8 L360.6 319.9 L363.3 319.1 L366.1 318.3 L369 317.7 L370.9 317.1 L373.9 316.7 L375.8 316.3 L380.5 316.4 L383.2 316.3 L385.9 316.3 L388.5 316.3 L392.4 316.9 L394.7 317.4 L398.1 318.6 L400 319.5 L401.7 320.4 L404.2 322.2 L405.6 323.1 L408.1 324.7 L409.6 325.3 L411.1 325.9 L414 327.5 L415.5 328.2 L417.1 329 L418.6 329.9 L420.1 330.9 L422.8 333 L424.3 334.1 L425.7 335.1 L427.2 336.2 L428.7 337.4 L430.1 338.7 L431.4 340.2 L433.4 342.6 L434.6 344.5 L435.7 346.5 L436.8 348.6 L437.9 350.6 L438.2 351.9 L439.2 353.7 L440.3 355.4 L442.5 357.8 L443.3 359.1 L445.3 361.3 L446.3 362.8 L447.5 364.4 L450 367 L451.6 368.8 L454.4 371.6 L456.2 373.5 L458.8 376.4 L460.2 378.5 L461.9 381.7 L462.9 385 L463.2 388.2 L462.7 390.2 L462.4 392.9 L462 395.3 L462 398.3 L461.9 400 L462.6 402 L463.7 403.7 L464.6 405 L465.8 407 L466.9 409.2 L467.6 411 L467.6 412.1 L467.6 414.7 L466.5 416.1 L465.3 417.5 L465 420 L465.4 421.8 L466.3 423.6 L467.2 424.9 L468.6 426.5 L469.7 427.5 L470.8 428.5 L472.4 430 L473.9 431.3 L475.5 432.5 L477.4 433.9 L478.8 434.8 L480.2 435.8 L481.5 437 L482.6 438.5 L482.8 439.4 L483.7 441.2 L484.7 443.1 L484.9 444 L486.2 446 L486.8 447 L488.5 449 L489.6 450 L491.7 452 L493.2 452.9 L495.4 454.7 L497.7 456.4 L500.1 458.1 L502 459 L504.8 460.6 L507.5 462.2 L510.3 463.9 L512.6 464.9 L515.8 467.3 L518.2 468.7 L520.4 470.2 L522.4 471.8 L524.3 473.4 L526 475 L527.4 476.5 L528.6 478 L530.2 480.8 L530.1 482.2 L529.1 483.6 L527.9 486.3 L525.7 487.6 L523.4 489 L521.6 491.7 L518.4 493.1 L515.2 494.4 L513.4 497.2 L512.4 498.6 L513.2 500 L515.1 502.9 L517 504.4 L519.1 505.9 L521.5 507.4 L524.3 510.4 L526.9 512 L529.5 513.6 L532 515.2 L534.3 516.9 L536.7 520.2 L538.7 521.9 L540.7 523.5 L542.5 525 L544.5 528 L545.8 529.5 L547 530.9 L548.5 533.6 L549.4 534.9 L550.6 537 L552.1 539.3 L552.9 540.6 L553.5 542 L554 543.5 L554.3 545 L553.6 545.8 L553.7 547.2 L553.8 548.7 L553.1 549.5 L553.5 550.9 L552.9 551.6 L553.3 553.2 L553.5 554.9 L552.7 555.8 L552.4 557.6 L551.5 559.7 L549.7 560.8 L547.8 562 L546.5 564.9 L544.6 566.6 L542.8 568.2 L541.1 569.9 L539.4 571.5 L538.3 574 L537.4 576 L536.3 577.2 L536.3 579.1 L536.2 580.4 L536.6 583.4 L536.9 585 L537.4 586.7 L538 588.3 L538.7 590 L539.3 591.8 L540 594.7 L540.5 596.7 L540.8 597.8 L541.5 601.4 L541.9 602.9"/>
<path d="M-16 283.9 L-14.7 283.6 L-12.9 283.2 L-10.7 282.7 L-9.5 282.4 L-7.1 281.7 L-4.7 281 L-3.6 280.6 L-1.6 280 L0 279.6 L2.7 278.8 L4.4 278.3 L6.4 277.8 L8.5 277.3 L10.6 276.7 L11.9 276.2 L13.9 275.6 L16 275 L18.4 274.7 L20.1 274.6 L21.7 274.6 L23.9 274.5 L25.9 274.5 L27.5 274.6 L29.7 274.9 L31.1 275.1 L34.2 275.4 L35.8 275.6 L37.4 275.8 L40 276 L41.9 276.2 L44 276.3 L46 276.4 L47.5 276.3 L49.8 276.4 L52 276.6 L54.1 276.6 L55.5 276.7 L57.5 276.8 L59.5 277 L61.6 277.1 L63.8 277.1 L65.4 277.1 L67.8 276.9 L69.4 276.8 L71.5 276.4 L73.6 275.8 L75.7 275.3 L77.2 275 L79.5 274.5 L81 274.2 L83.3 273.5 L84.8 273.1 L87 272.3 L88.3 271.7 L90.2 270.7 L92 269.6 L93.8 268.5 L95.7 267.6 L97.7 266.9 L99.9 266.6 L101.5 266.8 L103.8 267.1 L105.2 267.5 L107.5 267.8 L109.8 267.8 L111.3 267.6 L113.6 267.3 L115.7 267.1 L117.5 266.9 L119.3 267 L121.4 267.3 L122.9 267.5 L124.5 267.8 L126.7 268.5 L128.2 268.8 L130.4 269.4 L132 269.4 L133.8 269.1 L135.8 268.6 L137.8 268 L140 267.3 L142.4 266.7 L143.6 266 L146.2 265.5 L147.5 264.9 L150 264.5 L151.2 263.8 L153.5 263.4 L155.9 263.3 L157.1 263.2 L160 264 L161.6 264.7 L163.4 265.7 L165.3 266.8 L167.2 268 L169.2 269.2 L171.1 270.4 L173.1 271.5 L175 272.6 L176.9 273.6 L178.8 274.6 L180.6 275.5 L182.5 276.4 L184.4 277.3 L186.2 278.2 L188.1 279.1 L190 279.9 L191.9 280.6 L193.7 281.3 L195.5 282 L199.2 283 L201.1 283.6 L203 284.3 L205 285 L207 285.5 L208.1 285.8 L210.1 286 L212.2 286.2 L214.4 286.3 L216.5 286.3 L218.7 286.2 L219.8 285.9 L222 285.9 L224.3 285.9 L226.6 285.9 L227.8 285.3 L230.2 284.8 L231.4 284 L233.8 283.4 L236 282.9 L238.1 282.4 L240 282.1 L241.6 282.2 L243.1 282.3 L245.5 282.6 L247.7 282.8 L250 283.2 L251.2 283.4 L253.8 284 L255 284.3 L257.5 285.1 L258.8 285.5 L261.2 286.5 L262.5 287.1 L263.8 287.6 L266.2 288.9 L267.5 289.4 L270 290.4 L271.2 290.6 L273.8 291.3 L275 291.5 L276.2 291.7 L278.8 292.5 L280 292.8 L282.5 293.7 L283.8 294 L286.2 294.8 L287.5 295.2 L290 295.9 L291.2 296.2 L293.6 297.1 L294.8 297.4 L297.3 298.3 L298.6 298.6 L301.5 299.3 L303 299.6 L304.7 299.7 L306.3 299.8 L308 299.7 L309.7 299.7 L313 299.9 L314.6 299.7 L316.2 299.6 L317.7 299.5 L320.8 299.6 L322.5 299.5 L324.2 299.6 L326 299.6 L329 299.8 L330.1 299.6 L332.3 299.7 L334.5 299.7 L336.7 299.8 L338.9 300 L340 300 L343 300.3 L344.8 300.4 L346.4 300.5 L348 300.6 L349.5 300.6 L352.6 300.9 L354.2 301.3 L356.2 302 L358.6 303 L361.3 304.2 L364.2 305.7 L367.2 307.3 L370.2 309.1 L372 310.8 L374.8 312.6 L376.4 314.4 L380.5 316.6 L382.4 318.5 L384.1 320.6 L385.4 323 L387.7 325.8 L388.4 328.2 L390.2 331.3 L390.6 333.6 L390.9 335.8 L392.3 338.6 L392.8 340.3 L394.7 342.6 L395.7 343.8 L396.8 344.9 L399.4 346.8 L400.8 347.7 L402.2 348.5 L403.7 349.3 L405.2 350.1 L408 352 L409.4 352.9 L410.7 354 L411.9 355.2 L413.1 356.6 L414.1 358.2 L415.1 359.8 L417 362.2 L418.2 363.9 L419.6 365.5 L421 367 L422.5 368.4 L423.3 369.1 L424.7 370.3 L426.1 371.5 L428.7 373.5 L429.9 374.4 L432.3 376 L433.7 376.4 L435.2 376.8 L438 378.1 L439.8 378.5 L442.7 380 L444.5 380.7 L446.9 382.6 L448 383.8 L449.6 386 L451 388.2 L452.2 390.3 L452.8 391.5 L453.9 393.5 L454.9 395.6 L455.9 398.3 L456.5 400 L457 402 L457 403.7 L456.4 405 L455.9 407 L455.6 409.2 L455.4 411 L455.4 412.1 L456 414.7 L456.2 416.1 L456.6 417.5 L458 420 L459.5 421.8 L461 423.6 L462.6 424.9 L464.9 426.5 L467 427.5 L469.3 428.5 L472.1 430 L474.6 431.3 L477 432.5 L479.2 433.9 L480.9 434.8 L482.5 435.8 L484.2 437 L486.1 438.5 L487.2 439.4 L489.5 441.2 L491.8 443.1 L493.3 444 L495.7 446 L496.9 447 L498.9 449 L499.6 450 L500.8 452 L500.9 452.9 L501.6 454.7 L502.2 456.4 L502.8 458.1 L502.8 459 L503.4 460.6 L504 462.2 L504.7 463.9 L504.6 464.9 L505.3 467.3 L505.3 468.7 L505.4 470.2 L505.9 471.8 L506.5 473.4 L507.5 475 L508.6 476.5 L509.8 478 L511.6 480.8 L513.1 482.2 L514.8 483.6 L517.3 486.3 L519.4 487.6 L521.6 489 L524.4 491.7 L527 493.1 L529.8 494.4 L533.2 497.2 L535.7 498.6 L537.4 500 L538.7 502.9 L539.6 504.4 L540.4 505.9 L541.4 507.4 L543 510.4 L544.4 512 L546 513.6 L547.7 515.2 L549.3 516.9 L551.1 520.2 L552.4 521.9 L553.6 523.5 L554.8 525 L556.2 528 L557.3 529.5 L558.4 530.9 L559.8 533.6 L560.7 534.9 L561.9 537 L563.2 539.3 L563.9 540.6 L564.5 542 L565.2 543.5 L566.1 545 L566.3 545.8 L567.5 547.2 L568.9 548.7 L569.5 549.5 L571.2 550.9 L571.8 551.6 L573.3 553.2 L574.6 554.9 L574.9 555.8 L575.8 557.6 L576.6 559.7 L576.7 560.8 L576.8 562 L577.5 564.9 L577.5 566.6 L577.4 568.2 L577 569.9 L576.5 571.5 L576.3 574 L576.4 576 L576.1 577.2 L576.3 579.1 L576.5 580.4 L577.2 583.4 L577.7 585 L578.2 586.7 L578.7 588.3 L579.1 590 L579.5 591.8 L580.2 594.7 L580.7 596.7 L581.2 597.8 L582.2 601.4 L582.8 602.9"/>
<path d="M-16 283 L-14.7 282.5 L-12.9 281.8 L-10.7 281 L-9.5 280.6 L-7.1 279.9 L-4.7 279.3 L-3.6 279.1 L-1.6 278.7 L0 278.5 L2.7 278 L4.4 277.7 L6.4 277.4 L8.5 277.1 L10.6 276.7 L11.9 276.5 L13.9 276 L16 275.6 L18.4 275.4 L20.1 275.3 L21.7 275.2 L23.9 274.8 L25.9 274.3 L27.5 273.9 L29.7 273.5 L31.1 273 L34.2 272.8 L35.8 272.5 L37.4 272.4 L40 272.6 L41.9 272.7 L44 273 L46 273.4 L47.5 273.7 L49.8 274.2 L52 274.7 L54.1 275.1 L55.5 275.4 L57.5 275.8 L59.5 276.2 L61.6 276.5 L63.8 276.8 L65.4 277.2 L67.8 277.4 L69.4 277.6 L71.5 277.6 L73.6 277.6 L75.7 277.6 L77.2 277.8 L79.5 277.8 L81 277.9 L83.3 277.6 L84.8 277.4 L87 276.6 L88.3 275.7 L90.2 274.3 L92 272.9 L93.8 271.6 L95.7 270.7 L97.7 270.1 L99.9 269.7 L101.5 269.6 L103.8 269.4 L105.2 269.5 L107.5 269.5 L109.8 269.4 L111.3 269.3 L113.6 269.2 L115.7 269.1 L117.5 269.2 L119.3 269.5 L121.4 270 L122.9 270.4 L124.5 270.9 L126.7 271.9 L128.2 272.6 L130.4 273.8 L132 274.4 L133.8 274.7 L135.8 274.9 L137.8 274.9 L140 274.8 L142.4 274.8 L143.6 274.6 L146.2 274.9 L147.5 275.2 L150 275.9 L151.2 276.6 L153.5 277.4 L155.9 278 L157.1 278.3 L160 278.6 L161.6 278.5 L163.4 278.4 L165.3 278.3 L167.2 278.1 L169.2 278 L171.1 277.8 L173.1 277.6 L175 277.3 L176.9 276.9 L178.8 276.5 L180.6 276.2 L182.5 275.7 L184.4 275.2 L186.2 274.7 L188.1 274.1 L190 273.5 L191.9 273 L193.7 272.4 L195.5 271.9 L199.2 271.7 L201.1 271.3 L203 271 L205 270.8 L207 270.6 L208.1 270.4 L210.1 270.5 L212.2 270.8 L214.4 271.2 L216.5 271.6 L218.7 272.1 L219.8 272.2 L222 272.6 L224.3 272.8 L226.6 273 L227.8 273 L230.2 273.2 L231.4 273.2 L233.8 273.5 L236 274 L238.1 274.5 L240 275.1 L241.6 275.6 L243.1 276 L245.5 276.5 L247.7 277.1 L250 277.8 L251.2 278.5 L253.8 279.7 L255 280.6 L257.5 282.1 L258.8 283.2 L261.2 284.9 L262.5 286 L263.8 287.2 L266.2 289 L267.5 290 L270 291.6 L271.2 292.4 L273.8 293.7 L275 294.6 L276.2 295.4 L278.8 296.9 L280 297.8 L282.5 299.3 L283.8 300.2 L286.2 301.6 L287.5 302.5 L290 303.9 L291.2 304.8 L293.6 306.3 L294.8 307.2 L297.3 308.7 L298.6 309.6 L301.5 310.9 L303 311.7 L304.7 312.4 L306.3 313 L308 313.5 L309.7 313.9 L313 314.5 L314.6 314.8 L316.2 315 L317.7 315.2 L320.8 315.5 L322.5 315.8 L324.2 316 L326 316.3 L329 316.8 L330.1 317 L332.3 317.4 L334.5 317.8 L336.7 318.2 L338.9 318.6 L340 318.8 L343 319.3 L344.8 319.6 L346.4 319.8 L348 319.9 L349.5 320 L352.6 320 L354.2 320 L356.1 319.9 L358.2 319.9 L360.6 319.8 L363.2 319.9 L365.9 320 L368.6 320.3 L370.2 320.5 L372.9 320.9 L374.5 321.3 L378.7 322.2 L380.8 322.9 L382.8 323.6 L384.6 324.5 L387.7 325.8 L389.2 326.9 L391.9 328.6 L393.1 329.8 L394.3 331 L396.4 332.9 L397.6 333.8 L400.1 335.4 L401.7 335.8 L403.5 336 L406.7 337.1 L408.7 337.3 L410.7 337.4 L412.6 337.7 L414.6 338 L417.7 339.5 L419.5 340.1 L421.2 340.8 L422.9 341.6 L424.6 342.5 L426.2 343.5 L427.9 344.5 L430.3 346.3 L432 347.5 L433.7 348.9 L435.4 350.2 L437.1 351.5 L438 352.1 L439.7 353.2 L441.4 354.1 L444.3 355.8 L445.9 356.2 L448.8 357.4 L450.8 357.9 L453.1 358.7 L456.6 361 L459.1 362.6 L462.7 365.6 L465.2 367.9 L468.5 371.3 L470.7 374 L473.6 377.7 L476.4 381.4 L479.1 385.1 L481.1 387.7 L483.4 391.2 L485.4 394.3 L487.5 397.9 L489 400 L491.2 402 L493.3 403.7 L495.1 405 L497.2 407 L499.4 409.2 L501.4 411 L503.2 412.1 L505.7 414.7 L507.3 416.1 L508.6 417.5 L510 420 L510.8 421.8 L511.3 423.6 L511.7 424.9 L512.6 426.5 L513.2 427.5 L513.7 428.5 L514.8 430 L515.5 431.3 L516.2 432.5 L517.2 433.9 L517.7 434.8 L518.3 435.8 L519 437 L519.8 438.5 L520.1 439.4 L521.4 441.2 L522.9 443.1 L523.6 444 L525.2 446 L525.9 447 L527.5 449 L528.1 450 L529.6 452 L530.2 452.9 L531.6 454.7 L533.1 456.4 L534.7 458.1 L535.8 459 L537.6 460.6 L539.4 462.2 L541.3 463.9 L542.5 464.9 L544.5 467.3 L546 468.7 L547.7 470.2 L549.7 471.8 L551.7 473.4 L553.9 475 L556.1 476.5 L558.1 478 L560.5 480.8 L562.2 482.2 L563.2 483.6 L564.2 486.3 L564.3 487.6 L564.1 489 L564.3 491.7 L563.8 493.1 L563.4 494.4 L563.7 497.2 L563.5 498.6 L563.5 500 L564 502.9 L564.1 504.4 L564.1 505.9 L564.1 507.4 L564.5 510.4 L564.7 512 L565.1 513.6 L565.7 515.2 L566.4 516.9 L567.6 520.2 L568.5 521.9 L569.4 523.5 L570.1 525 L571.1 528 L571.5 529.5 L571.8 530.9 L572.3 533.6 L572.4 534.9 L573 537 L574 539.3 L574.7 540.6 L575.6 542 L576.7 543.5 L578 545 L578.4 545.8 L579.8 547.2 L581.1 548.7 L581.6 549.5 L583.2 550.9 L583.9 551.6 L585.7 553.2 L587.4 554.9 L588.2 555.8 L589.6 557.6 L590.7 559.7 L590.8 560.8 L590.7 562 L591.2 564.9 L590.8 566.6 L590.4 568.2 L590.1 569.9 L589.8 571.5 L590.1 574 L590.8 576 L591 577.2 L591.6 579.1 L591.9 580.4 L592.5 583.4 L592.8 585 L593.2 586.7 L593.6 588.3 L594.1 590 L594.8 591.8 L595.8 594.7 L596.6 596.7 L597.2 597.8 L598.1 601.4 L598.5 602.9"/>
<path d="M-16 283.6 L-14.7 283.2 L-12.9 282.6 L-10.7 281.9 L-9.5 281.5 L-7.1 280.6 L-4.7 279.8 L-3.6 279.2 L-1.6 278.4 L0 277.6 L2.7 276.4 L4.4 275.4 L6.4 274.5 L8.5 273.7 L10.6 273 L11.9 272.6 L13.9 272 L16 271.4 L18.4 270.9 L20.1 270.6 L21.7 270.3 L23.9 269.8 L25.9 269.2 L27.5 268.3 L29.7 267.5 L31.1 266.7 L34.2 266.1 L35.8 265.7 L37.4 265.5 L40 265.4 L41.9 265.2 L44 265.1 L46 265.1 L47.5 264.9 L49.8 265 L52 264.9 L54.1 264.8 L55.5 264.7 L57.5 264.5 L59.5 264.4 L61.6 264.2 L63.8 264.1 L65.4 264 L67.8 263.7 L69.4 263.4 L71.5 262.7 L73.6 262 L75.7 261.2 L77.2 260.6 L79.5 259.8 L81 259.2 L83.3 258.3 L84.8 257.8 L87 257 L88.3 256.6 L90.2 255.9 L92 255.2 L93.8 254.5 L95.7 253.8 L97.7 253.1 L99.9 252.7 L101.5 252.6 L103.8 252.5 L105.2 252.7 L107.5 252.9 L109.8 253.3 L111.3 253.8 L113.6 254.4 L115.7 255.1 L117.5 256 L119.3 257 L121.4 258 L122.9 258.8 L124.5 259.7 L126.7 260.8 L128.2 261.7 L130.4 262.9 L132 263.7 L133.8 264.3 L135.8 264.7 L137.8 265 L140 265.3 L142.4 265.7 L143.6 266 L146.2 266.7 L147.5 267.4 L150 268.4 L151.2 269.3 L153.5 270.3 L155.9 271.3 L157.1 271.9 L160 272.5 L161.6 272.7 L163.4 272.8 L165.3 272.7 L167.2 272.6 L169.2 272.3 L171.1 272 L173.1 271.6 L175 271.3 L176.9 270.9 L178.8 270.6 L180.6 270.5 L182.5 270.4 L184.4 270.3 L186.2 270.2 L188.1 270.1 L190 269.9 L191.9 269.6 L193.7 269.4 L195.5 269.1 L199.2 269.2 L201.1 269 L203 268.9 L205 268.9 L207 269.1 L208.1 269.2 L210.1 269.7 L212.2 270.3 L214.4 271 L216.5 271.5 L218.7 272 L219.8 272 L222 272.3 L224.3 272.5 L226.6 272.7 L227.8 272.6 L230.2 272.8 L231.4 272.7 L233.8 272.9 L236 273 L238.1 273.1 L240 273.1 L241.6 273 L243.1 272.9 L245.5 272.8 L247.7 272.7 L250 272.8 L251.2 272.7 L253.8 273.2 L255 273.3 L257.5 274.1 L258.8 274.4 L261.2 275.4 L262.5 276 L263.8 276.6 L266.2 277.9 L267.5 278.5 L270 279.6 L271.2 280 L273.8 280.9 L275 281.2 L276.2 281.4 L278.8 282.2 L280 282.4 L282.5 283.1 L283.8 283.3 L286.2 283.9 L287.5 284.1 L290 284.8 L291.2 284.9 L293.6 285.7 L294.8 286 L297.3 286.9 L298.6 287.3 L301.5 288.3 L303 289 L304.7 289.8 L306.3 290.7 L308 291.7 L309.7 292.8 L313 294.2 L314.6 295.2 L316.2 296.1 L317.7 297 L320.8 298.1 L322.5 298.9 L324.2 299.8 L326 300.7 L329 301.7 L330.1 302.5 L332.3 303.5 L334.5 304.6 L336.7 305.7 L338.9 306.7 L340 307.4 L343 308.4 L344.8 309 L346.4 309.6 L348 310 L349.5 310.3 L352.6 310.7 L354.2 310.9 L356.2 310.9 L358.5 310.9 L361 310.7 L363.9 310.4 L366.9 310.2 L370.1 309.9 L372.2 309.6 L375.5 309.5 L377.7 309.5 L382.5 310.1 L385.4 310.5 L388.2 311 L390.8 311.5 L394.7 312.5 L397.1 313.2 L400.6 314.7 L402.6 315.6 L404.4 316.5 L407 318.3 L408.5 319.2 L410.9 321 L412.2 321.9 L413.4 322.9 L415.8 325 L416.9 326.4 L417.9 327.9 L418.9 329.6 L419.8 331.3 L421.9 334.2 L422.7 336 L423.6 337.8 L424.6 339.5 L425.6 341.2 L426.7 342.9 L427.8 344.6 L429.7 347 L430.9 348.9 L432.1 350.7 L433.4 352.6 L434.6 354.4 L435.2 355.4 L436.5 356.9 L437.8 358.2 L440.3 360.2 L441.7 361 L444.4 362.3 L446.4 362.7 L448.8 363.1 L452.7 364.6 L455.7 365.5 L459.8 367.7 L462.7 369.4 L466.3 372.5 L468.5 375 L471 378.6 L473 382.3 L474.6 385.9 L475.6 388.5 L476.9 391.7 L478.1 394.6 L479.6 398 L481 400 L483.6 402 L486.9 403.7 L490.2 405 L493.6 407 L496.7 409.2 L499 411 L501.2 412.1 L504.3 414.7 L506.5 416.1 L508.5 417.5 L510.6 420 L511.8 421.8 L512.7 423.6 L513.2 424.9 L514 426.5 L514.1 427.5 L514.1 428.5 L514.4 430 L514.4 431.3 L514.5 432.5 L515 433.9 L515 434.8 L515.4 435.8 L515.9 437 L516.3 438.5 L515.9 439.4 L516.4 441.2 L517 443.1 L516.8 444 L517.6 446 L517.7 447 L519 449 L519.7 450 L521.5 452 L522.8 452.9 L525 454.7 L527.3 456.4 L529.6 458.1 L531.1 459 L533.2 460.6 L535 462.2 L536.7 463.9 L537.7 464.9 L539.6 467.3 L540.8 468.7 L542.1 470.2 L543.5 471.8 L544.9 473.4 L546.2 475 L547.5 476.5 L548.5 478 L550.1 480.8 L550.7 482.2 L550.9 483.6 L551.6 486.3 L551.6 487.6 L551.7 489 L552.5 491.7 L552.1 493.1 L551.6 494.4 L552.2 497.2 L553.2 498.6 L555.1 500 L557.7 502.9 L560.1 504.4 L562.6 505.9 L565.1 507.4 L568 510.4 L570.4 512 L572.6 513.6 L574.5 515.2 L576.1 516.9 L577.8 520.2 L579.2 521.9 L580.8 523.5 L582.3 525 L584 528 L585.3 529.5 L586.5 530.9 L587.8 533.6 L588.6 534.9 L589.7 537 L591 539.3 L591.8 540.6 L592.6 542 L593.4 543.5 L594.2 545 L594 545.8 L594.5 547.2 L594.8 548.7 L594 549.5 L594.1 550.9 L593 551.6 L592.9 553.2 L592.5 554.9 L591.4 555.8 L591.1 557.6 L590.7 559.7 L589.6 560.8 L588.5 562 L588.2 564.9 L587.2 566.6 L586.3 568.2 L585.5 569.9 L584.6 571.5 L584.4 574 L584.5 576 L584.2 577.2 L584.8 579.1 L585.3 580.4 L586.2 583.4 L586.9 585 L587.7 586.7 L588.5 588.3 L589.2 590 L589.8 591.8 L590.5 594.7 L590.8 596.7 L590.8 597.8 L591.2 601.4 L591.2 602.9"/>
<path d="M-16 279.2 L-14.7 278.6 L-12.9 277.9 L-10.7 277.2 L-9.5 276.8 L-7.1 276 L-4.7 275.3 L-3.6 275.1 L-1.6 274.6 L0 274.5 L2.7 273.9 L4.4 273.6 L6.4 273.4 L8.5 273.1 L10.6 272.8 L11.9 272.6 L13.9 272.1 L16 271.7 L18.4 271.4 L20.1 271.3 L21.7 271.2 L23.9 271 L25.9 270.8 L27.5 270.8 L29.7 270.8 L31.1 270.8 L34.2 271 L35.8 271 L37.4 271.2 L40 271.5 L41.9 271.9 L44 272.4 L46 273 L47.5 273.6 L49.8 274.3 L52 274.9 L54.1 275.3 L55.5 275.5 L57.5 275.6 L59.5 275.6 L61.6 275.5 L63.8 275.2 L65.4 275.1 L67.8 274.8 L69.4 274.5 L71.5 274 L73.6 273.5 L75.7 273.1 L77.2 272.9 L79.5 272.5 L81 272.2 L83.3 271.5 L84.8 270.9 L87 269.8 L88.3 269 L90.2 267.8 L92 266.6 L93.8 265.5 L95.7 264.4 L97.7 263.4 L99.9 262.6 L101.5 262.1 L103.8 261.6 L105.2 261.3 L107.5 260.9 L109.8 260.7 L111.3 260.6 L113.6 260.6 L115.7 260.7 L117.5 261 L119.3 261.4 L121.4 261.9 L122.9 262.2 L124.5 262.4 L126.7 262.9 L128.2 263.2 L130.4 263.7 L132 264 L133.8 264.2 L135.8 264.5 L137.8 265 L140 265.6 L142.4 266.2 L143.6 266.7 L146.2 267.2 L147.5 267.4 L150 267.8 L151.2 268 L153.5 268.4 L155.9 268.9 L157.1 269.3 L160 270.1 L161.6 270.7 L163.4 271.3 L165.3 271.9 L167.2 272.5 L169.2 273.1 L171.1 273.7 L173.1 274.3 L175 274.9 L176.9 275.5 L178.8 276.1 L180.6 276.7 L182.5 277.3 L184.4 277.9 L186.2 278.5 L188.1 279 L190 279.5 L191.9 280 L193.7 280.4 L195.5 280.8 L199.2 281.5 L201.1 282 L203 282.4 L205 282.8 L207 283.3 L208.1 283.4 L210.1 283.7 L212.2 283.9 L214.4 284.1 L216.5 284.2 L218.7 284.4 L219.8 284.3 L222 284.5 L224.3 284.7 L226.6 284.9 L227.8 284.9 L230.2 285.2 L231.4 285.2 L233.8 285.4 L236 285.6 L238.1 285.7 L240 285.6 L241.6 285.6 L243.1 285.4 L245.5 285.3 L247.7 285.1 L250 285.2 L251.2 285.1 L253.8 285.4 L255 285.5 L257.5 286.1 L258.8 286.4 L261.2 287.3 L262.5 287.7 L263.8 288.2 L266.2 289.4 L267.5 289.8 L270 290.9 L271.2 291.1 L273.8 291.9 L275 291.9 L276.2 292 L278.8 292.5 L280 292.5 L282.5 293 L283.8 293 L286.2 293.5 L287.5 293.6 L290 294.2 L291.2 294.3 L293.6 295.1 L294.8 295.3 L297.3 296.2 L298.6 296.6 L301.5 297.6 L303 298.3 L304.7 299.2 L306.3 300.2 L308 301.3 L309.7 302.5 L313 304 L314.6 305.2 L316.2 306.2 L317.7 307.2 L320.8 308.2 L322.5 308.9 L324.2 309.6 L326 310.1 L329 310.8 L330.1 311.2 L332.3 311.8 L334.5 312.4 L336.7 313 L338.9 313.5 L340 313.9 L343 314.5 L344.8 314.8 L346.4 315.1 L348 315.4 L349.5 315.6 L352.6 315.9 L354.2 316.1 L356.1 316.4 L358.3 316.7 L360.8 317 L363.4 317.4 L366.1 317.8 L368.9 318.3 L370.6 318.7 L373.3 319.2 L374.9 319.7 L379.2 320.6 L381.4 321.2 L383.5 321.8 L385.5 322.5 L388.8 323.7 L390.5 324.6 L393.4 326.2 L394.7 327.4 L396 328.5 L398.1 330.6 L399.2 331.7 L401.4 333.7 L402.6 334.6 L403.8 335.6 L406.5 337.4 L407.8 338.4 L409.2 339.3 L410.6 340.4 L411.9 341.5 L414.4 343.7 L415.6 345 L416.8 346.4 L417.9 347.8 L419 349.3 L420.1 350.9 L421.3 352.4 L423.2 354.7 L424.6 356.4 L425.9 358 L427.4 359.6 L428.8 361.1 L429.5 361.9 L430.9 363.3 L432.3 364.5 L434.8 366.5 L436 367.4 L438.4 369.1 L439.8 369.9 L441.3 370.6 L444.1 372.4 L446 373.4 L449.1 375.4 L451.1 376.6 L454 378.9 L455.7 380.5 L458 383.1 L460 385.8 L461.7 388.5 L462.7 390.2 L463.9 392.7 L465 395.2 L466.1 398.2 L466.9 400 L468.4 402 L469.8 403.7 L471 405 L472.8 407 L474.6 409.2 L476.5 411 L478.2 412.1 L480.7 414.7 L482.4 416.1 L483.9 417.5 L485.7 420 L486.9 421.8 L487.8 423.6 L488.5 424.9 L489.6 426.5 L490.4 427.5 L491.1 428.5 L492.3 430 L493.3 431.3 L494.3 432.5 L495.6 433.9 L496.6 434.8 L497.6 435.8 L498.6 437 L499.8 438.5 L500.3 439.4 L501.8 441.2 L503.5 443.1 L504.4 444 L506.3 446 L507.6 447 L509.8 449 L511.3 450 L513.6 452 L515 452.9 L517.2 454.7 L519.3 456.4 L521.4 458.1 L522.7 459 L524.7 460.6 L526.8 462.2 L528.9 463.9 L530.5 464.9 L533.1 467.3 L535.1 468.7 L537.2 470.2 L539.2 471.8 L541 473.4 L542.6 475 L544 476.5 L544.9 478 L546.2 480.8 L545.8 482.2 L544.5 483.6 L543.5 486.3 L542.5 487.6 L542.7 489 L543.9 491.7 L544.8 493.1 L545.8 494.4 L547.5 497.2 L548.5 498.6 L549.4 500 L550.5 502.9 L551.1 504.4 L551.6 505.9 L552 507.4 L552.8 510.4 L553.3 512 L553.8 513.6 L554.4 515.2 L554.9 516.9 L555.9 520.2 L556.4 521.9 L557 523.5 L557.6 525 L558.7 528 L559.3 529.5 L560 530.9 L561 533.6 L561.7 534.9 L562.8 537 L564.4 539.3 L565.5 540.6 L566.9 542 L568.5 543.5 L570.4 545 L571.3 545.8 L573.1 547.2 L574.8 548.7 L575.5 549.5 L577.1 550.9 L577.6 551.6 L579 553.2 L580.2 554.9 L580.4 555.8 L581.2 557.6 L581.9 559.7 L581.9 560.8 L581.7 562 L582.2 564.9 L582 566.6 L581.7 568.2 L581.3 569.9 L580.8 571.5 L580.8 574 L581.1 576 L581 577.2 L581.4 579.1 L581.6 580.4 L582.3 583.4 L582.9 585 L583.5 586.7 L584.2 588.3 L584.9 590 L585.6 591.8 L586.5 594.7 L587.1 596.7 L587.4 597.8 L588.1 601.4 L588.3 602.9"/>
<path d="M-16 278.9 L-14.7 278.5 L-12.9 278 L-10.7 277.3 L-9.5 277 L-7.1 276.4 L-4.7 275.7 L-3.6 275.4 L-1.6 274.9 L0 274.5 L2.7 273.6 L4.4 273 L6.4 272.5 L8.5 271.9 L10.6 271.4 L11.9 271 L13.9 270.5 L16 270 L18.4 269.8 L20.1 269.7 L21.7 269.7 L23.9 269.5 L25.9 269.3 L27.5 269.2 L29.7 269 L31.1 268.7 L34.2 268.6 L35.8 268.5 L37.4 268.4 L40 268.5 L41.9 268.5 L44 268.7 L46 268.9 L47.5 269 L49.8 269.5 L52 269.8 L54.1 270.2 L55.5 270.4 L57.5 270.7 L59.5 270.9 L61.6 271 L63.8 271 L65.4 271.1 L67.8 270.9 L69.4 270.8 L71.5 270.4 L73.6 269.9 L75.7 269.6 L77.2 269.5 L79.5 269.1 L81 269 L83.3 268.6 L84.8 268.4 L87 268 L88.3 267.9 L90.2 267.5 L92 267.1 L93.8 266.6 L95.7 266.2 L97.7 266 L99.9 265.9 L101.5 266 L103.8 266.1 L105.2 266.2 L107.5 266.2 L109.8 266 L111.3 265.7 L113.6 265.2 L115.7 264.7 L117.5 264.3 L119.3 264 L121.4 264 L122.9 263.9 L124.5 264 L126.7 264.4 L128.2 264.5 L130.4 265.2 L132 265.6 L133.8 266 L135.8 266.6 L137.8 267.2 L140 268 L142.4 268.9 L143.6 269.6 L146.2 270.6 L147.5 271.5 L150 272.9 L151.2 274.2 L153.5 275.8 L155.9 277.4 L157.1 278.7 L160 279.9 L161.6 280.4 L163.4 280.8 L165.3 281.2 L167.2 281.5 L169.2 281.8 L171.1 282.1 L173.1 282.3 L175 282.6 L176.9 283 L178.8 283.4 L180.6 283.8 L182.5 284.4 L184.4 285 L186.2 285.6 L188.1 286.2 L190 286.8 L191.9 287.2 L193.7 287.7 L195.5 288.1 L199.2 288.7 L201.1 289.1 L203 289.4 L205 289.7 L207 290 L208.1 290.1 L210.1 290.4 L212.2 290.7 L214.4 291 L216.5 291.2 L218.7 291.5 L219.8 291.5 L222 291.8 L224.3 292.2 L226.6 292.7 L227.8 293.1 L230.2 293.8 L231.4 294.3 L233.8 295.2 L236 295.9 L238.1 296.6 L240 297.1 L241.6 297.5 L243.1 297.8 L245.5 298 L247.7 298.2 L250 298.5 L251.2 298.6 L253.8 299.2 L255 299.4 L257.5 300.1 L258.8 300.4 L261.2 301.3 L262.5 301.8 L263.8 302.4 L266.2 303.7 L267.5 304.3 L270 305.6 L271.2 306.2 L273.8 307.3 L275 307.8 L276.2 308.4 L278.8 309.5 L280 310.1 L282.5 311.3 L283.8 312 L286.2 313.3 L287.5 314.1 L290 315.3 L291.2 316.2 L293.6 317.5 L294.8 318.2 L297.3 319.4 L298.6 320 L301.5 321 L303 321.6 L304.7 322.1 L306.3 322.5 L308 323 L309.7 323.5 L313 324.2 L314.6 324.6 L316.2 324.9 L317.7 325.3 L320.8 325.7 L322.5 326 L324.2 326.3 L326 326.6 L329 327.1 L330.1 327.5 L332.3 328.1 L334.5 328.7 L336.7 329.4 L338.9 330.1 L340 330.6 L343 331.4 L344.8 331.9 L346.4 332.4 L348 332.8 L349.5 333.1 L352.6 333.4 L354.2 333.6 L356 333.7 L357.9 333.8 L360 333.8 L362.2 333.8 L364.5 333.9 L366.7 333.9 L367.8 334 L369.9 334.2 L370.9 334.4 L374.5 335.1 L376.1 335.5 L377.5 336.1 L378.8 336.7 L381.4 337.7 L382.5 338.5 L384.8 340 L385.6 341 L386.4 342.2 L388.2 344.2 L389 345.3 L391.1 347.3 L392.3 348.3 L393.5 349.3 L396.2 351 L397.6 351.8 L399.2 352.5 L400.8 353.1 L402.4 353.7 L405.3 355.4 L406.9 356 L408.6 356.7 L410.1 357.4 L411.7 358.3 L413.2 359.3 L414.7 360.3 L417 362.1 L418.6 363.4 L420.2 364.7 L421.8 366.1 L423.4 367.4 L424.2 368 L425.7 369.2 L427.2 370.3 L429.7 372.3 L430.9 373.2 L433.3 374.7 L434.8 375.2 L436.3 375.7 L439.1 377.1 L440.9 377.6 L443.9 379.2 L445.8 379.9 L448.5 381.8 L450.2 382.8 L452.6 384.9 L454.9 387.1 L457.1 389.4 L458.6 390.7 L460.5 393 L462.2 395.3 L464.1 398.2 L465.6 400 L467.9 402 L470.3 403.7 L472.6 405 L475.2 407 L477.8 409.2 L480.3 411 L482.4 412.1 L486.2 414.7 L489.6 416.1 L492.6 417.5 L495 420 L495.7 421.8 L495.8 423.6 L495.7 424.9 L495.8 426.5 L495.6 427.5 L495.4 428.5 L495.6 430 L495.7 431.3 L496 432.5 L496.7 433.9 L497.1 434.8 L497.4 435.8 L497.6 437 L497.7 438.5 L496.9 439.4 L496.9 441.2 L496.9 443.1 L496.1 444 L496.2 446 L495.7 447 L496.3 449 L496.2 450 L497.2 452 L497.7 452.9 L499.2 454.7 L500.9 456.4 L502.7 458.1 L503.7 459 L505.4 460.6 L507 462.2 L508.6 463.9 L509.6 464.9 L511.8 467.3 L513.4 468.7 L515.2 470.2 L517.2 471.8 L519.1 473.4 L521.1 475 L522.9 476.5 L524.5 478 L526.5 480.8 L527.7 482.2 L528.5 483.6 L529.7 486.3 L530.3 487.6 L531 489 L532.7 491.7 L534.4 493.1 L536.3 494.4 L539.1 497.2 L541.5 498.6 L543.3 500 L544.9 502.9 L546.1 504.4 L547.2 505.9 L548.4 507.4 L550 510.4 L551.3 512 L552.6 513.6 L554.1 515.2 L555.6 516.9 L557.6 520.2 L559.2 521.9 L561 523.5 L562.9 525 L565.2 528 L567 529.5 L568.7 530.9 L570.4 533.6 L571.5 534.9 L572.8 537 L574.2 539.3 L574.9 540.6 L575.6 542 L576.5 543.5 L577.4 545 L577.5 545.8 L578.4 547.2 L579.3 548.7 L579.2 549.5 L580.1 550.9 L579.9 551.6 L580.6 553.2 L581.1 554.9 L580.7 555.8 L581 557.6 L581.1 559.7 L580.4 560.8 L579.8 562 L580 564.9 L579.5 566.6 L579.1 568.2 L578.7 569.9 L578.2 571.5 L578.3 574 L578.5 576 L578.2 577.2 L578.5 579.1 L578.5 580.4 L578.8 583.4 L578.8 585 L578.8 586.7 L578.8 588.3 L578.9 590 L579.1 591.8 L579.6 594.7 L579.9 596.7 L580.1 597.8 L580.7 601.4 L580.9 602.9"/>
<path d="M-16 276.6 L-14.7 276.3 L-12.9 275.7 L-10.7 275.1 L-9.5 274.7 L-7.1 274.1 L-4.7 273.4 L-3.6 273.1 L-1.6 272.7 L0 272.4 L2.7 271.8 L4.4 271.5 L6.4 271.2 L8.5 270.9 L10.6 270.6 L11.9 270.5 L13.9 270.2 L16 270.3 L18.4 270.8 L20.1 271.5 L21.7 272.3 L23.9 272.9 L25.9 273.3 L27.5 273.6 L29.7 273.9 L31.1 274.2 L34.2 274.6 L35.8 274.9 L37.4 275.2 L40 275.6 L41.9 275.9 L44 276.3 L46 276.7 L47.5 277 L49.8 277.5 L52 278 L54.1 278.2 L55.5 278.4 L57.5 278.5 L59.5 278.5 L61.6 278.4 L63.8 278.3 L65.4 278.2 L67.8 277.9 L69.4 277.7 L71.5 277.3 L73.6 276.9 L75.7 276.5 L77.2 276.4 L79.5 276.2 L81 276.1 L83.3 275.7 L84.8 275.5 L87 275.1 L88.3 275.1 L90.2 274.6 L92 274.1 L93.8 273.3 L95.7 272.4 L97.7 271.4 L99.9 270.3 L101.5 269.2 L103.8 268.1 L105.2 267.2 L107.5 266.4 L109.8 266 L111.3 265.8 L113.6 266 L115.7 266.4 L117.5 267 L119.3 267.8 L121.4 268.5 L122.9 269.1 L124.5 269.8 L126.7 270.8 L128.2 271.6 L130.4 272.8 L132 273.6 L133.8 274.2 L135.8 274.8 L137.8 275.3 L140 275.7 L142.4 276.2 L143.6 276.4 L146.2 276.8 L147.5 277.1 L150 277.7 L151.2 278.5 L153.5 279.8 L155.9 281 L157.1 281.7 L160 282.3 L161.6 282.5 L163.4 282.5 L165.3 282.6 L167.2 282.6 L169.2 282.5 L171.1 282.4 L173.1 282.3 L175 282.2 L176.9 282.1 L178.8 282 L180.6 282 L182.5 282.1 L184.4 282.2 L186.2 282.3 L188.1 282.3 L190 282.2 L191.9 282.1 L193.7 282 L195.5 281.8 L199.2 281.9 L201.1 281.6 L203 281.4 L205 281.3 L207 281.2 L208.1 281 L210.1 281.2 L212.2 281.5 L214.4 281.7 L216.5 282 L218.7 282.2 L219.8 282 L222 282 L224.3 281.8 L226.6 281.5 L227.8 280.9 L230.2 280.6 L231.4 280 L233.8 279.7 L236 279.5 L238.1 279.5 L240 279.7 L241.6 279.9 L243.1 280.2 L245.5 280.5 L247.7 280.9 L250 281.4 L251.2 281.9 L253.8 282.8 L255 283.3 L257.5 284.4 L258.8 285.1 L261.2 286.5 L262.5 287.5 L263.8 288.5 L266.2 290.3 L267.5 291.4 L270 293.1 L271.2 294.1 L273.8 295.6 L275 296.4 L276.2 297.3 L278.8 298.6 L280 299.3 L282.5 300.5 L283.8 301.1 L286.2 302.2 L287.5 302.8 L290 303.9 L291.2 304.4 L293.6 305.5 L294.8 306.1 L297.3 307.1 L298.6 307.5 L301.5 308.3 L303 308.6 L304.7 308.9 L306.3 309.1 L308 309.4 L309.7 309.6 L313 310.1 L314.6 310.3 L316.2 310.5 L317.7 310.7 L320.8 311 L322.5 311.2 L324.2 311.4 L326 311.6 L329 312 L330.1 312 L332.3 312.1 L334.5 312.2 L336.7 312.3 L338.9 312.3 L340 312.1 L343 312.3 L344.8 312.3 L346.4 312.3 L348 312.3 L349.5 312.4 L352.6 312.6 L354.2 312.9 L356.1 313.4 L358.4 314 L360.9 314.7 L363.5 315.6 L366.3 316.5 L369 317.6 L370.6 318.6 L373.1 319.8 L374.6 320.9 L378.6 322.4 L380.5 323.6 L382.3 324.9 L383.9 326.1 L386.7 327.7 L388.1 328.9 L390.6 330.7 L391.7 331.9 L392.8 333 L394.9 335 L396 336 L398.2 337.8 L399.5 338.7 L400.9 339.5 L403.6 341.2 L405 342.1 L406.5 342.9 L408 343.7 L409.5 344.6 L412.2 346.6 L413.7 347.5 L415.1 348.5 L416.5 349.5 L417.9 350.6 L419.3 351.9 L420.7 353.2 L422.8 355.2 L424.3 356.7 L425.8 358.2 L427.3 359.7 L428.9 361 L429.8 361.6 L431.5 362.7 L433.2 363.5 L436.1 365.1 L437.8 365.4 L440.9 366.2 L443.5 365.8 L446.4 365.5 L450.7 366.4 L454.1 366.7 L458.6 368.5 L462 369.9 L465.7 372.8 L468.1 375.2 L471 378.6 L473.7 382.1 L476.1 385.7 L477.7 388.2 L479.8 391.4 L481.6 394.5 L483.6 398 L485.2 400 L487.4 402 L489.6 403.7 L491.4 405 L493.3 407 L495.4 409.2 L497.5 411 L499.7 412.1 L503.3 414.7 L506.6 416.1 L509.7 417.5 L512.7 420 L514.2 421.8 L515.2 423.6 L515.8 424.9 L516.6 426.5 L516.9 427.5 L517 428.5 L517.5 430 L517.9 431.3 L518.4 432.5 L519.5 433.9 L520.4 434.8 L521.5 435.8 L523 437 L524.6 438.5 L525.6 439.4 L527.5 441.2 L529.4 443.1 L530.3 444 L532.1 446 L532.9 447 L534.5 449 L535.1 450 L536.4 452 L536.6 452.9 L537.6 454.7 L538.4 456.4 L539.2 458.1 L539.3 459 L540.1 460.6 L540.9 462.2 L541.9 463.9 L542.2 464.9 L543.7 467.3 L544.6 468.7 L545.8 470.2 L547.1 471.8 L548.5 473.4 L550 475 L551.6 476.5 L553.1 478 L555.2 480.8 L556.4 482.2 L557.3 483.6 L558.5 486.3 L559 487.6 L559.2 489 L559.8 491.7 L559.5 493.1 L559.1 494.4 L559.4 497.2 L559.5 498.6 L559.9 500 L561 502.9 L561.7 504.4 L562.5 505.9 L563.4 507.4 L564.7 510.4 L565.7 512 L566.6 513.6 L567.4 515.2 L568.2 516.9 L569.3 520.2 L570 521.9 L570.9 523.5 L572 525 L573.4 528 L574.6 529.5 L575.9 530.9 L577.5 533.6 L578.6 534.9 L580.1 537 L581.8 539.3 L582.9 540.6 L584 542 L585.1 543.5 L586.3 545 L586.5 545.8 L587.6 547.2 L588.8 548.7 L589 549.5 L590.4 550.9 L590.9 551.6 L592.3 553.2 L593.7 554.9 L594.1 555.8 L595.3 557.6 L596.5 559.7 L596.9 560.8 L597.3 562 L598.5 564.9 L599.1 566.6 L599.7 568.2 L600.4 569.9 L601.1 571.5 L602.3 574 L603.6 576 L604.3 577.2 L605.1 579.1 L605.5 580.4 L606 583.4 L606.1 585 L606.1 586.7 L606 588.3 L605.9 590 L605.7 591.8 L605.9 594.7 L606 596.7 L606 597.8 L606.6 601.4 L606.9 602.9"/>
<path d="M800 461 L797.7 462.8 L794.3 465.5 L790.6 468.4 L787.5 471 L784.8 473.2 L782.1 475.2 L780 477.2 L779 479 L779.4 480.5 L781 481.9 L783.1 483.3 L785 485 L786.9 487.4 L788.9 490.1 L790.9 492.8 L792.5 495 L793.6 496.6 L794.4 497.7 L795.1 498.5 L796 499 L797.3 499 L798.7 498.5 L800.1 497.9 L801 497.5"/>
<path d="M801 474 L799.3 475 L796.8 476.5 L794.3 478.3 L792.5 480 L791.5 481.8 L791 483.7 L790.9 485.6 L791 487.5 L791.4 489.5 L792.2 491.6 L793.1 493.5 L794 495 L794.8 496.1 L795.7 496.8 L796.6 497.3 L797.5 497.5 L798.5 497.4 L799.5 496.9 L800.4 496.4 L801 496"/>
<path d="M780 576 L781.8 574.5 L784.3 572.3 L787.2 569.8 L790 567.5 L792.9 565.2 L796.1 562.7 L799 560.5 L801 559"/>
<path d="M790 576 L791.4 574.9 L793.5 573.2 L795.7 571.5 L797.5 570 L798.7 568.8 L799.7 567.6 L800.5 566.7 L801 566"/>
<path d="M600 560 L604 576"/>
</g>
<path d="M-2 290 L-1.8 289.9 L-1.6 289.9 L-1.3 289.8 L-1 289.7 L-0.5 289.6 L0 289.4 L0.7 289.2 L1.4 288.9 L2.3 288.6 L3.2 288.2 L4.1 287.9 L5 287.6 L5.9 287.3 L6.8 287.1 L7.8 286.8 L8.7 286.5 L9.7 286.3 L10.6 286 L11.5 285.7 L12.4 285.4 L13.2 285.2 L14.1 284.9 L15 284.6 L16 284.4 L17 284.2 L18.1 284 L19.2 283.9 L20.3 283.7 L21.4 283.6 L22.5 283.5 L23.5 283.4 L24.3 283.2 L25.2 283.1 L26.1 283 L27.2 283 L28.5 283 L30.2 283.1 L32.1 283.2 L34.2 283.4 L36.4 283.6 L38.3 283.8 L40 284 L41.3 284.2 L42.4 284.3 L43.3 284.5 L44.2 284.7 L45.1 284.8 L46 285 L47 285.2 L48 285.4 L49 285.6 L50 285.7 L51 285.9 L52 286 L52.9 286.1 L53.9 286.1 L54.8 286.1 L55.7 286.1 L56.6 286 L57.5 286 L58.4 285.9 L59.3 285.9 L60.2 285.8 L61.1 285.7 L62 285.5 L63 285.4 L64 285.3 L65.1 285.1 L66.2 285 L67.3 284.8 L68.4 284.6 L69.4 284.4 L70.4 284.2 L71.3 283.9 L72.2 283.6 L73.1 283.3 L74.1 283 L75 282.8 L76 282.5 L77 282.2 L78 281.9 L79 281.6 L80 281.3 L81 281 L82 280.7 L83 280.3 L84.1 279.9 L85.1 279.5 L86.1 279.1 L87 278.8 L87.9 278.4 L88.7 278 L89.6 277.6 L90.4 277.2 L91.2 276.9 L92 276.5 L92.8 276.1 L93.6 275.7 L94.4 275.4 L95.3 275 L96.1 274.6 L97 274.3 L97.9 274 L98.9 273.7 L99.9 273.4 L101 273.1 L102 272.9 L103 272.7 L104 272.5 L105 272.4 L106 272.2 L107 272.1 L108 272 L109 272 L110 272 L111 272 L112.1 272 L113.1 272.1 L114.1 272.2 L115 272.3 L115.9 272.5 L116.7 272.7 L117.5 272.9 L118.3 273.2 L119.1 273.5 L120 273.8 L120.9 274.2 L121.9 274.6 L122.9 275 L124 275.4 L125 275.9 L126 276.3 L127 276.8 L127.9 277.2 L128.9 277.7 L129.9 278.2 L130.9 278.6 L132 279 L133.2 279.3 L134.4 279.6 L135.8 279.8 L137.1 280 L138.5 280.3 L140 280.5 L141.6 280.7 L143.2 281 L144.9 281.2 L146.6 281.5 L148.3 281.7 L150 282 L151.6 282.3 L153.1 282.5 L154.7 282.8 L156.3 283.1 L158 283.4 L160 283.8 L162.2 284.2 L164.6 284.8 L167.2 285.3 L169.8 285.9 L172.4 286.4 L175 287 L177.5 287.6 L180 288.2 L182.5 288.8 L185 289.4 L187.5 290 L190 290.5 L192.5 291 L194.9 291.5 L197.4 291.9 L199.9 292.3 L202.4 292.8 L205 293.3 L207.7 293.9 L210.5 294.5 L213.3 295.1 L216.2 295.7 L219.1 296.4 L222 297 L225 297.7 L228.2 298.4 L231.4 299.1 L234.6 299.8 L237.5 300.5 L240 301 L242.1 301.4 L243.9 301.6 L245.5 301.8 L247 301.9 L248.4 302.2 L250 302.5 L251.7 302.9 L253.3 303.4 L255 304 L256.7 304.6 L258.3 305.3 L260 306 L261.7 306.8 L263.3 307.7 L265 308.7 L266.7 309.7 L268.3 310.6 L270 311.5 L271.7 312.3 L273.3 313.1 L275 313.8 L276.7 314.6 L278.3 315.3 L280 316 L281.7 316.7 L283.3 317.4 L285 318 L286.7 318.7 L288.3 319.3 L290 320 L291.6 320.7 L293.2 321.4 L294.8 322.1 L296.4 322.7 L298.2 323.4 L300 324 L302 324.6 L304.1 325.1 L306.3 325.7 L308.6 326.1 L310.8 326.6 L313 327 L315.1 327.3 L317.2 327.6 L319.2 327.8 L321.4 328 L323.6 328.2 L326 328.5 L328.6 328.9 L331.5 329.3 L334.5 329.8 L337.5 330.2 L340.4 330.7 L343 331 L345.4 331.2 L347.5 331.4 L349.5 331.5 L351.5 331.6 L353.6 331.8 L356 332 L358.7 332.3 L361.6 332.6 L364.6 332.9 L367.6 333.2 L370.4 333.6 L373 334 L375.3 334.4 L377.5 334.8 L379.5 335.2 L381.4 335.7 L383.2 336.3 L385 337 L386.7 337.9 L388.2 338.9 L389.6 340 L391 341.1 L392.4 342.3 L394 343.5 L395.7 344.7 L397.4 345.9 L399.2 347.1 L400.9 348.4 L402.7 349.7 L404.5 351 L406.2 352.4 L407.9 353.8 L409.7 355.3 L411.4 356.8 L413.2 358.4 L415 360 L416.9 361.7 L419 363.5 L421.1 365.3 L423.2 367.2 L425.2 368.9 L427 370.5 L428.7 371.9 L430.3 373.2 L431.8 374.4 L433.2 375.6 L434.6 376.8 L436 378 L437.4 379.2 L438.9 380.5 L440.2 381.8 L441.6 383 L442.9 384.2 L444 385.5 L445 386.8 L446 388 L446.8 389.3 L447.6 390.5 L448.3 391.8 L449 393 L449.6 394.2 L450.2 395.4 L450.7 396.7 L451.1 397.8 L451.6 399 L452 400 L452.4 400.9 L452.9 401.8 L453.3 402.6 L453.7 403.3 L454.1 404.1 L454.5 405 L454.9 405.9 L455.2 406.8 L455.6 407.7 L456 408.7 L456.4 409.8 L457 411 L457.7 412.5 L458.6 414.2 L459.5 416.1 L460.4 417.9 L461.3 419.6 L462 421 L462.6 422.1 L463.1 422.9 L463.5 423.6 L463.9 424.2 L464.4 424.7 L465 425.4 L465.7 426.1 L466.5 426.8 L467.4 427.5 L468.3 428.2 L469.2 428.9 L470 429.5 L470.7 430.1 L471.4 430.7 L472.1 431.3 L472.8 431.8 L473.5 432.4 L474.3 433 L475.2 433.6 L476 434.2 L477 434.8 L478 435.4 L479 436.2 L480 437 L481.1 438 L482.2 439.1 L483.4 440.2 L484.6 441.5 L485.8 442.7 L487 444 L488.2 445.3 L489.4 446.6 L490.6 448 L491.7 449.4 L492.9 450.7 L494 452 L495.1 453.2 L496.1 454.4 L497.1 455.6 L498 456.7 L499 457.8 L500 459 L501 460.1 L501.9 461.1 L502.9 462.2 L503.9 463.3 L504.9 464.5 L506 466 L507.3 467.7 L508.6 469.7 L510.1 471.8 L511.5 473.9 L512.8 476 L514 478 L515 479.9 L515.9 481.7 L516.7 483.6 L517.4 485.4 L518.2 487.2 L519 489 L519.9 490.8 L520.7 492.6 L521.6 494.4 L522.5 496.3 L523.3 498.1 L524 500 L524.6 501.9 L525.1 503.9 L525.6 505.9 L526.1 507.9 L526.5 509.9 L527 512 L527.5 514.1 L528 516.3 L528.5 518.6 L529 520.8 L529.5 522.9 L530 525 L530.5 527 L531 529 L531.4 530.9 L531.9 532.8 L532.4 534.5 L533 536 L533.6 537.3 L534.1 538.4 L534.8 539.3 L535.4 540.2 L536.1 541.1 L537 542 L538 543 L539.1 544 L540.2 545 L541.5 546 L542.7 547 L544 548 L545.3 549 L546.7 549.9 L548.1 550.9 L549.4 551.9 L550.8 552.9 L552 554 L553.1 555.2 L554.2 556.4 L555.2 557.6 L556.1 559 L557.1 560.4 L558 562 L558.9 563.9 L559.9 566 L560.8 568.2 L561.6 570.4 L562.4 572.4 L563 574 L563.5 575.2 L564 576.1 L564.3 576.8 L564.6 577.3 L564.8 577.7 L565 578" stroke="#000" stroke-width="3.5" stroke-dasharray="9.5 6.7 0 6.4 0 6.96" stroke-dashoffset="-3.6"/>
<g stroke="#6b6bff" stroke-width="0.9">
<path d="M0 42.5 L11 47 L22.5 45 L27.5 37.5 L37.5 31 L57.5 29 L65 25.5 L82.5 25.5 L90 27.5 L94.5 31 L97.5 27.5 L105 25"/>
<path d="M163.8 25 L172.5 38.8 L180 41 L200 40 L225 40 L231 38 L255 38 L265.5 37.5 L273 47 L288.8 47.5 L295 50.5 L305 52 L325 56 L340 57 L360 57.5 L377.5 56 L390 54 L400 51 L410 49.5 L441 49.5 L444 51 L462.5 51 L475 47.5 L480 45 L487.5 50 L505 51 L535 54 L550 52.5 L575 55 L600 58.8 L620 61 L622.5 64 L630 62.5 L650 57.5 L682.5 47.5 L715 35 L755 25"/>
<path d="M127.5 26 L128.8 29 L137 29.5 L137 25"/>
<path d="M137 25 L137 40 L138.8 57.5 L145 72.5 L146 80 L138.8 95 L140 102.5 L150 120 L150 127.5 L152.5 132.5 L147.5 152.5 L142.5 170 L139 170 L135 174 L127.5 181 L125 187.5 L122.5 191 L115 190 L110 186 L105 184 L100 182.5 L90 187.5 L82.5 194 L80 201 L75 215 L72.5 222.5 L70 235 L70 245 L67.5 255 L60 265 L57 275 L57.5 290 L62.5 297.5 L70 302.5 L75 310 L77.5 317.5 L80 324 L85 331 L95 339 L100 346 L110 354 L117.5 354 L135 360 L150 360 L165 359 L180 362.5 L200 366 L215 367 L225 365.5 L237.5 370 L260 374 L275 377.5 L295 382.5 L305 380.5 L312.5 385 L325 394 L335 400 L342.5 407.5 L347.5 417.5 L350 423"/>
<path d="M0 314 L7.5 311 L20 316 L37.5 314 L55 313 L75 312"/>
<path d="M0 188.8 L10 186 L22.5 190 L32.5 194 L40 202.5 L50 204 L60 207.5 L70 205 L80 201 L90 202.5 L100 206 L125 207.5 L144 209 L155 205 L175 201 L185 200 L190 202.5 L200 199 L210 196 L220 197 L237.5 199.5 L275 199 L305 197 L312.5 194 L320 190 L340 186 L360 186 L380 187.5 L382.5 189 L400 190 L425 190 L460 187.5 L482.5 190 L486 194 L489 189 L500 186 L515 189 L525 194 L540 199 L550 202.5 L554 207.5 L556 216 L560 215 L580 212.5 L600 207.5 L615 202.5 L627.5 200.5 L632.5 201 L637.5 200 L657.5 186 L675 180 L700 174 L715 170 L730 165 L741 161 L770 162 L800 162.5"/>
<path d="M236 199.5 L237.5 207.5 L240 220 L242.5 236 L239 242.5 L239 260"/>
<path d="M378 46 L378.8 56 L379.5 78.8 L388.8 87.5 L388.8 102.5 L388 120 L388 150 L388 170 L385 182.5 L382.5 189 L384 192.5 L390 207.5 L395 225 L395 245 L395 257.5 L394 275 L390 285 L391 292.5 L393 300 L395 320 L392.5 342.5 L387.5 360 L380 372.5 L377.5 385 L375 400 L365 412.5 L355 420 L350 424"/>
<path d="M390 102.5 L400 98.8 L412.5 87.5 L426 72.5 L435 57.5 L441 49.5"/>
<path d="M426 72.5 L442.5 73 L457.5 67.5 L467.5 61 L475 52.5 L480 45"/>
<path d="M365 103 L378 103"/>
<path d="M385 100 L389 104 L393 100"/>
<path d="M390 287.5 L385 280 L377.5 270 L370 260 L355 250 L349 245 L350 241 L352.5 230 L355 215 L370 201 L381 194"/>
<path d="M385 182.5 L400 180 L410 177.5 L425 170 L437.5 162.5"/>
<path d="M388 150 L397.5 152.5 L400 156 L410 160 L425 160 L437.5 162.5 L445 167.5 L447.5 170 L455 175 L460 187.5"/>
<path d="M437.5 155 L437.5 167"/>
<path d="M432.5 166 L437.5 162.5 L450 152.5 L462.5 140 L472.5 131 L479.5 129 L487.5 126 L505 125 L525 119 L536 115 L540 106 L550 99.5 L570 92.5 L585 86 L600 77.5 L612.5 70 L622.5 67.5"/>
<path d="M434 190 L437.5 205 L442.5 225 L450 245"/>
<path d="M454 179 L449 189 L444 200 L442.5 207.5"/>
<path d="M400 180 L410 177.5"/>
<path d="M556 216 L555 217.5 L540 230 L530 242.5 L520 252.5 L505 262.5 L499 266 L497.5 265 L475 270 L465 277.5 L437.5 280 L425 282.5 L412.5 287.5 L407.5 292.5"/>
<path d="M407.5 292.5 L412.5 295 L437.5 300 L462.5 305 L475 306 L497.5 305 L505 301 L510 300 L525 300 L550 302.5 L575 305 L595 307.5 L600 310 L615 311 L625 312.5 L650 310 L670 309 L686 306 L700 292.5 L715 277.5 L725 275 L735 269 L740 264 L750 259 L775 257.5 L800 256"/>
<path d="M390 292 L385 294 L370 296 L362.5 300 L350 305 L325 307 L300 305 L285 305 L270 307.5 L255 310 L245 315 L240 317.5 L225 327.5 L215 332.5 L200 340 L187.5 345 L175 350 L165 359"/>
<path d="M405 296 L410 300 L412.5 310 L420 327.5 L432.5 345 L442.5 360 L450 377.5 L452.5 392.5 L454 410"/>
<path d="M414 255 L412.5 270 L410 285 L407.5 292.5"/>
<path d="M350 423 L352.5 421 L375 415 L400 411 L425 410 L450 408 L455 409 L470 408 L488 407 L496 397 L510 393 L525 392 L540 392 L555 392 L565.5 391 L579 386.5 L585 385 L594 382.5 L616 382 L626 382.5 L634 385.6 L642.5 389 L646 388 L655 385.6 L667.5 384 L682.5 382.5 L695 377.5 L699 370 L705 375 L717.5 377.5 L740 374 L755 372.5 L775 371 L790 371 L800 375"/>
<path d="M507.5 305 L512.5 315 L530 330 L550 346 L552.5 352.5 L560 365 L565 375 L565 389"/>
<path d="M645 24 L645 35 L642.5 47.5 L635 60 L629 62"/>
<path d="M622 68 L620 80 L630 92.5 L640 105 L646 120 L649 132.5 L648 140 L647.5 146 L643 152 L641.5 160 L637.8 167.8 L632 178 L628 185 L625 192.5 L632.5 201 L632.5 205 L636 232.5 L640 265 L637.5 277.5 L632.5 290 L629 300 L625 310 L620 320 L617.5 332.5 L616 362.5 L616 382 L619 386 L618 397 L620 404"/>
<path d="M690 24 L682.5 45 L669 62.5 L667 77.5 L667 105.5 L661.8 111.5 L661 125"/>
<path d="M667 105.5 L672 114 L677.5 122 L688 129.5 L674.5 140 L668.5 147.5 L667 151"/>
<path d="M728 98 L734 107 L740 115.5 L746 124 L751 131"/>
<path d="M779 79 L790 70 L799 63"/>
<path d="M627.5 66 L650 71 L667.5 77.5 L700 82.5 L737.5 82.5 L772.5 79 L775 80 L800 84"/>
<path d="M764 24 L772.5 45 L775 70 L775 80 L775 82.5 L775 94.5 L770.5 106 L768.5 117.5 L763 126 L751 131 L747.5 140.5 L743.6 152 L741 161 L736 170 L736 205 L737.5 240 L739 262.5 L740 275 L747.5 295 L755 307.5 L752.5 315 L742.5 332.5 L725 350 L705 362.5 L697.5 370"/>
<path d="M755 307.5 L775 302.5 L785 300 L800 299"/>
<path d="M751 300 L756 307.5"/>
<path d="M697.5 125 L715 135 L730 147.5 L740 160"/>
<path d="M718 84 L716 100 L717.5 120 L717.5 145"/>
<path d="M682.5 125 L700 125 L717.5 120 L740 114 L762.5 106 L800 95"/>
<path d="M762.5 127.5 L800 125"/>
<path d="M647.5 132.5 L662.5 130 L685 127.5 L700 125"/>
<path d="M740 264 L760 247.5 L775 230 L782.5 212.5 L792.5 205 L795 195"/>
<path d="M750 170 L765 190 L777.5 205 L785 207.5 L800 206"/>
<path d="M675 310 L660 335 L655 352.5 L650 370 L646 386"/>
<path d="M524 391 L527 391 L527 393 L524 393 L524 391"/>
<path d="M596 384 L600.6 392.5 L609 395.6 L618 397 L622.5 400 L630 402 L637.5 396 L642.5 389"/>
<path d="M630.6 385 L629 400"/>
<path d="M621 400 L620 404"/>
<path d="M648.8 370 L644 382.5 L641 389"/>
<path d="M637.5 206 L650 215 L652.5 217.5"/>
<path d="M662.5 224 L675 234 L695 237.5 L700 241"/>
<path d="M676 231 L676 240"/>
<path d="M672.5 265 L689 264"/>
<path d="M737 220 L747.5 216"/>
<path d="M560 214 L575 197.5 L591 184"/>
<path d="M556 219 L560 230 L567.5 237.5"/>
<path d="M555 123 L564 124"/>
<path d="M522.5 120 L525 124"/>
<path d="M473.4 24 L473.4 36 L479.5 46"/>
<path d="M460 50.8 L472.3 47 L483 49.3 L499.8 50.8"/>
<path d="M460 53.5 L475.3 53.5 L476.5 66"/>
<path d="M482.2 54.6 L488.4 66"/>
<path d="M491 24 L487.5 39 L480 45"/>
<path d="M494 151 L494.5 166"/>
<path d="M455 160.5 L461 160.5"/>
<path d="M475 160 L479 161"/>
<path d="M447.5 170 L455 175 L460 187.5"/>
<path d="M425 170 L410 177.5"/>
<path d="M447.5 170 L454 179"/>
<path d="M400 300 L405 296 L400 287.5"/>
<path d="M405 305 L405 300"/>
<path d="M412.5 295 L422.5 300"/>
<path d="M411 295 L410 310 L412.5 320"/>
<path d="M507.5 301 L507.5 310 L511 320"/>
<path d="M340 430 L331 439 L327.5 440 L307.5 441 L295 442.5 L282.5 451"/>
<path d="M331 439 L325 462.5 L316 494"/>
<path d="M350 424 L352.5 430 L351 442.5 L360 455 L370 470 L380 484 L385 486"/>
<path d="M380 484 L372.5 496 L374 512.5 L374 540 L375 546 L382.5 555 L385 560"/>
<path d="M355 547.5 L375 549"/>
<path d="M350 424 L340 430"/>
<path d="M455 410 L447.5 414 L440 418 L430 425"/>
<path d="M454.5 409 L458 399 L463 387.5 L467 381"/>
<path d="M455 410 L462 419 L470 428"/>
<path d="M642 158.8 L646 163 L652.8 165.5 L658 162.5 L659.5 156.5 L661.8 154"/>
<path d="M667.5 152.5 L672.5 156"/>
<path d="M741 161.5 L747 168 L753 175"/>
<path d="M765 24 L775 31 L800 38"/>
<path d="M780 79 L800 82.5"/>
<path d="M770 105 L800 92.5"/>
<path d="M237.5 262 L239 260"/>
<path d="M482.5 55 L487.5 66 L488.75 85 L489.5 122.5" stroke-dasharray="7 4"/>
<path d="M558.75 67.5 L565 62.5 L568 55" stroke-dasharray="5 3"/>
<ellipse cx="237.5" cy="262" rx="2.2" ry="1.6"/>
<ellipse cx="382.5" cy="188" rx="2.2" ry="2"/>
<ellipse cx="388" cy="294" rx="2.5" ry="2.2"/>
<ellipse cx="407" cy="292.5" rx="3" ry="2.4"/>
<ellipse cx="350" cy="423.5" rx="2.4" ry="2.2"/>
<ellipse cx="454.5" cy="409.5" rx="2.4" ry="2.2"/>
<ellipse cx="436" cy="162" rx="2.2" ry="2"/>
<ellipse cx="387" cy="102" rx="2" ry="2"/>
<ellipse cx="556" cy="216" rx="2.5" ry="2"/>
<ellipse cx="632" cy="201" rx="2.5" ry="2.2"/>
<ellipse cx="627" cy="307" rx="2.4" ry="2.2"/>
<ellipse cx="507" cy="302" rx="2" ry="1.8"/>
<ellipse cx="622" cy="64" rx="3" ry="2.5"/>
<ellipse cx="775" cy="80" rx="2.5" ry="2"/>
<ellipse cx="741" cy="161" rx="2.2" ry="2.2"/>
<ellipse cx="741" cy="264" rx="2.2" ry="2"/>
<ellipse cx="479" cy="49" rx="4" ry="4.5"/>
</g>
<g stroke="#1a1a1a" stroke-width="0.95">
<path d="M232 24 L232 129.5"/>
<path d="M0 129.5 L479.5 129.5"/>
<path d="M200 129.5 L199.6 149 L198.5 323.2"/>
<path d="M199.6 148.5 L300 148.5 L300 223"/>
<path d="M300 223 L301.1 224.4 L303.3 224.7 L304.5 225.9 L306.2 227.3 L307.1 227.4 L309.7 228.9 L311.2 229.4 L312.4 231.3 L313.9 230.5 L316.5 228.4 L317.9 228.5 L321.5 227.9 L322.2 228.9 L323.4 229.7 L325.9 232.5 L326.4 234.7 L327.2 237.5 L329.2 237.4 L331.9 238.6 L333.7 238.6 L336.1 239.9 L337 239.8 L339.8 240.3 L342 239.9 L343.9 240.2 L345.3 240.1 L348 240.4 L349 242.1 L350.9 241 L354.4 240.5 L355.7 240.7 L358.5 240.8 L360.2 240.5 L362.5 240.9 L363.8 242.7 L365 244.4 L366.1 246.9 L368.9 248.4 L369.9 249.6 L372 249.1 L374.3 247 L376.2 246.2 L377.5 246.5 L379.3 247.5 L380.7 249.1 L383.5 249.9 L385.3 252.4 L387.5 251.3 L389.4 250 L392.6 249.9 L392.8 252.3 L394.3 253.4 L395 255.6 L396.8 252.8 L398 251.5 L399.1 249.6 L399.4 247.7 L402.1 249.1 L405.4 250.4 L407.9 251.4 L409.7 252.4 L412.1 250.5 L413.2 249.4 L415.2 251.2 L415.5 253.1 L417.4 253.5 L418.8 255 L420.5 255.7 L422.8 256.9 L424 255.5 L425.3 253.9 L427.4 252.1 L428.9 252.5 L431.3 251.2 L433.3 251.5 L434.4 250 L436.4 250.5 L438.2 250.1 L440.6 249.5 L441.8 249.7 L444.3 248.8 L445.4 248.5 L447.4 248.1 L449.8 249.2 L452 249.8 L455.1 249.6 L456.4 248.8 L458.5 248 L461.1 248 L462.6 248.2 L465.5 248.8 L466.9 251.2 L468.1 251.5 L469.9 253.7 L471.2 254.4 L472.4 255.4 L474 256.5 L476.2 256.7 L477.7 258 L479.8 258.5 L481.7 259.7 L484.2 259.4 L485.3 261 L488.1 262.8 L489.4 262.1 L491.9 262.7 L494.3 262 L496.4 262.3 L498 262"/>
<path d="M466 24 L462.5 30 L465 35 L469 39 L474 42.5 L479.5 45 L479.5 148.5 L628.4 148.3 L630 151 L631.8 154 L631 157.6 L628 160 L625 161.8 L622 164.8 L620.5 168.2 L643 168.2"/>
<path d="M479.5 148.8 L482.5 170 L485 185 L484.5 220 L484 259"/>
<path d="M498 262 L498 322.5"/>
<path d="M498 283 L596 283.5"/>
<path d="M498 322.5 L500.9 324.9 L501.9 325.4 L504 328.6 L504.7 330.3 L505.6 333 L506.6 334.7 L507.4 337.4 L508.6 340.7 L509.8 342.6 L509.9 344.7 L511 346.8 L513.3 349.7 L514.8 353 L515 355.1 L514.6 356.8 L514.8 359.5 L515 363.2 L514 364.6 L513.1 367.9 L512 370.6 L511.2 372.9 L509.8 375.7 L510.6 377 L510.4 380.3 L509.9 382.5 L510 385.6 L509.8 388 L509.3 390.5 L509.8 392.4 L509.1 395.6 L508 397.5 L505.9 399.8 L505.3 402 L504.3 404.7 L503.1 407.2 L505 410"/>
<path d="M590 24 L592.2 26.5 L594.8 29 L597.7 30.8 L599.4 34.2 L602.2 35.1 L605.6 37 L607.9 38.7 L608.8 41.2 L610 45 L611 47.8 L611.2 50.1 L611.3 53.9 L614.8 52.6 L619.4 52.5 L622.8 54.7 L626.3 56.5 L628.9 60.4 L626.9 63 L625.5 64.5 L622.1 69.7 L621.8 73.7 L620.2 77.3 L622 80.6 L623.8 84.1 L626.9 87 L629.7 89.5 L632.7 92.1 L635.2 93.6 L638.4 96.2 L641.5 97.4 L644.3 98.7 L645.4 102.1 L645.7 104.5 L648.6 108.9 L649.8 112 L652.4 114.6 L651.5 119.1 L651.4 122 L653.6 124.5 L656.3 127.3 L661.5 130.6 L661 133.9 L660.8 136.2 L661 140"/>
<path d="M659.9 139.7 L660.2 139.6 L660.8 139.9 L661.3 140.6 L661.6 141.8 L661.4 143 L660.5 144.1 L659.3 144.4 L658.6 143.6 L658.8 142.7 L659.2 142.4 L659.4 142.9 L659.2 143.7 L658.5 144.4 L657.6 144.9 L656.6 145.3 L655.5 145.6 L654.5 145.5 L653.7 145.1 L653.4 144.5 L653.9 144.7 L653.8 144.9 L653.7 145.2 L653.7 145.7 L653.5 146.4 L653.2 147.2 L652.7 147.9 L652 148.6 L651.3 149.1 L650.6 149.4 L648.9 150.7 L648.3 150.7 L647.8 150.6 L647.4 150.3 L647.4 150 L647.5 149.8 L647.9 149.7 L648.4 149.9 L649 150.3 L649.5 151 L649.7 152.2 L650 153.7 L649.6 155.4 L648.5 156.8 L646.9 157.5 L645.4 157.3 L644.5 156.7 L644.2 155.9 L644.6 155.3 L645.2 155.3 L645.7 156.2 L646 156.9 L646.4 157.9 L646.5 159.2 L646.3 160.5 L645.6 161.7 L644.7 162.4 L643.9 162.8 L643.2 162.8 L642.8 162.5 L643.5 162.4 L643.9 162.4 L644.5 162.7 L645.2 163.5 L645.5 164.7 L645 165.9 L644.1 166.7 L643.3 167 L642.7 166.9 L642.5 166.7 L642.5 166.7 L642.3 167.1 L642.6 167.5 L642.9 168 L643.4 168.4 L643.8 168.9 L644.3 169.6 L644.8 170.4 L645.1 171.4 L644.9 172.4 L645.1 174.1 L644.3 175 L643.4 175.7 L642.2 176 L641.2 175.8 L640.4 175.2 L640.1 174.4 L640 174.1 L640.1 173.9 L640.4 173.9 L640.7 174.1 L641.5 174.9 L641.9 176.3 L641.4 177.8 L640.1 179.1 L638.5 179.7 L636.9 179.6 L635.6 179 L634.9 178 L635 177.1 L635.7 177.5 L635.4 177.7 L635.2 178 L635.3 178.5 L635.6 179 L636 179.7 L636.3 180.5 L636.4 181.4 L636.4 182.4 L636.1 183.5 L636 185 L635.1 185.7 L634.2 186.2 L633.4 186.4 L632.7 186.5 L632.1 186.4 L631.8 186.3 L631.6 186.1 L631.6 186 L631.8 186 L632 185.8 L633.3 186.1 L634.4 187.3 L634.8 189.2 L634.2 191.1 L632.8 192.4 L631.1 192.8 L629.8 192.3 L629.3 191.3 L629.8 190.4 L631 190.7 L631.5 191.3 L631.9 192 L632.1 193 L632.2 194 L632 195.1 L631.5 196.2 L630.9 197.1 L630.1 197.9 L629.3 198.5 L628.5 198.6 L627.6 198.5 L627.1 198 L627.1 197.6 L627.7 197.5 L628.4 197.8 L629 198.7 L629.3 200 L629 201.4 L628.2 202.6 L627.1 203.3 L625.9 203.4 L625.1 203 L625 202.4 L625.6 202.1 L626.5 202.5 L627 203.6 L626.9 205.1 L626.1 206.3 L624.8 207.1 L623.1 207.9 L622.2 207.8 L621.5 207.5 L621.1 207.2 L620.8 206.9 L620.8 206.6 L621 206.4 L621.3 206.4 L621.7 206.6 L622.1 207.1 L622.1 208.3 L622.4 209.4 L622.3 210.6 L621.8 211.8 L620.9 212.8 L619.7 213.4 L618.7 213.7 L617.7 213.6 L617.1 213.4 L616.9 213.1 L616.5 212.4 L617 212.2 L617.6 212.4 L618.3 213 L618.9 213.8 L619.3 215 L619.3 216.3 L619 217.7 L618.4 218.9 L617.4 220 L616.3 220.7 L615.4 221.1 L614.5 221.3 L613.7 221.3 L613 221.1 L612.6 220.9 L612.5 220.6 L612.5 220.4 L612.7 220.2 L613.1 220.3 L613.7 221.3 L614.2 221.8 L614.6 222.7 L614.7 223.8 L614.5 224.9 L614 226.1 L613.2 227 L612.3 227.7 L611.3 228 L610.4 227.9 L609.7 227.6 L609.5 227.3 L609.6 227 L609.9 227 L610.4 227.2 L610.9 227.9 L611.3 228.8 L611.3 230 L611 231.2 L610.4 232.3 L609.1 232.5 L608.4 233 L607.6 233.3 L607 233.3 L606.6 233.3 L606.5 233.2 L606.6 233.3 L606.8 233.6 L607 234.1 L607.1 234.9 L608.2 235.7 L607.5 237.6 L605.9 238.8 L604.1 239 L602.9 238.3 L602.6 237.2 L603.3 236.5 L604.5 236.7 L605.5 237.9 L605.7 239.8 L603.9 240.6 L603.4 241.2 L603 241.8 L602.5 242.2 L602.1 242.6 L601.6 242.9 L601.3 243.1 L601.1 243.3 L601 243.4 L600.9 243.7 L600.8 243.6 L601.1 243.9 L601.4 244.5 L601.6 245.2 L601.7 246.1 L601.6 247.1 L601.3 248 L600.8 248.9 L600.2 249.6 L599.5 250.1 L598.7 250.8 L598 250.7 L597.5 250.5 L597.4 250.2 L597.7 250.1 L598.2 250.2 L598.7 250.6 L599.2 251.5 L599.4 252.6 L599.3 253.8 L599.6 255.5 L598.3 256.8 L596.7 257.4 L595.3 257.2 L594.4 256.5 L594.3 255.5 L594.9 254.8 L596 254.8 L597.1 255.4 L597.9 256.7 L597.4 258.5 L597.2 259.8 L596.7 260.9 L595.8 261.7 L595 262 L594.4 261.9 L594.1 261.6 L594.4 261.4 L595 261.4 L595.7 261.8 L596.7 262.4 L597.1 263.8 L597.1 265.2 L596.5 266.6 L595.7 267.5 L594.7 268.1 L593.8 268.1 L593.2 267.8 L593.2 267.3 L593.6 267 L594.5 267.4 L594.9 267.9 L595.3 268.5 L595.6 269.2 L595.8 270.1 L595.9 271 L595.9 271.9 L595.7 272.8 L595.5 273.7 L595.1 274.5 L594.7 275 L594.2 275.5 L593.7 275.8 L593.4 275.9 L593.2 275.9 L593.2 275.9 L593.5 276 L593.8 276.1 L594.3 276.5 L594.8 277 L595.9 276.9 L596.8 278.6 L596.7 280.6 L595.7 282.2 L594.3 283.1 L592.9 283 L592.2 282.2 L592.4 281.2 L593.5 280.6 L594.9 280.9 L595.1 283.2 L595.3 284.1 L595.3 285 L595 285.9 L594.6 286.6 L594.2 287 L593.9 287.3 L593.8 287.4 L593.9 287.4 L594.3 287.6 L594.7 286.7 L595.5 287.3 L596.3 288.2 L596.8 289.3 L597.1 290.5 L597.1 291.8 L596.8 293 L596.3 294 L595.6 294.8 L594.9 295.3 L594.7 294.7 L594.4 294.8 L594.3 294.8 L594.5 294.7 L594.9 294.8 L595.5 295.1 L596.1 295.7 L596.6 296.5 L596.9 297.5 L596.9 298.6 L596.6 299.5 L596.3 300.2 L596.1 300.8 L595.9 301.2 L595.8 301.5 L595.7 301.7 L595.8 301.7 L596.1 301.7 L596.5 301.8 L597.1 302 L597.8 302.6 L598.3 303.1 L598.7 303.6 L599.2 304.3 L599.5 305 L599.7 305.7 L599.8 306.5 L599.9 307.1 L599.9 307.7 L599.8 308.2 L599.2 310 L598.8 310.1 L598.6 310 L598.6 309.8 L598.7 309.6 L599.2 308.9 L600.4 308.5 L601.4 308.6 L602.3 309.4 L602.6 310.3 L602.5 311.5 L602.4 312.5 L602.2 313.6 L601.7 314.6 L601.2 315.5 L600.5 316.3 L599.7 317 L598.9 317.5 L598.1 317.8 L597.3 318 L597.7 317.3 L597.4 317.3 L597.2 317.4 L597.2 317.6 L597.3 317.9 L597.5 318.4 L597.6 319.1 L597.5 319.9 L597.2 320.7 L596.8 321.5 L596.5 323.8 L595.4 324.2 L594.4 324.4 L593.6 324.3 L592.9 324.1 L592.5 323.8 L592.4 323.4 L592.5 323.1 L592.8 323 L593.3 323.1 L593.9 324.4 L594.1 324.9 L594.2 325.6 L594.3 326.3 L594.3 327.2 L594.2 328 L593.9 328.9 L593.5 329.8 L593 330.6 L592.4 331.2 L591.8 332.2 L591 332.6 L590.2 332.9 L589.5 333 L589 332.9 L588.6 332.8 L588.4 332.7 L588.4 332.6 L588.6 332.6 L588.9 332.7 L589.3 333.6 L589.7 334.3 L590 335.2 L589.9 336.4 L589.4 337.5 L588.5 338.3 L587.6 338.8 L586.8 338.8 L586.3 338.6 L586.2 338.4 L586.3 338.1 L587 338.3 L587.6 339.2 L587.9 340.4 L587.5 341.8 L586.7 343 L585.6 343.6 L584.5 343.7 L583.8 343.4 L583.6 342.9 L584 342.7 L584.2 343 L584.4 343.4 L584.5 343.9 L584.7 344.6 L584.8 345.3 L584.7 346.1 L584.6 347 L584.4 347.8 L584 348.7 L583.5 349.4 L582.3 350.2 L581.2 350.3 L580.5 349.9 L580.6 349.4 L581.2 349.4 L581.9 350.1 L582.2 351.3 L581.9 352.6 L581 353.7 L580.2 353.8 L579.8 354.1 L579.4 354.1 L579.4 354.2 L579.6 354.3 L580 354.7 L580.4 355.4 L580.6 356.2 L580.5 357.2 L580.1 358.1 L579.7 360.1 L578.6 360.5 L577.7 360.4 L577.2 360 L577.1 359.5 L577.5 359.1 L578.2 359"/>
<path d="M656.5 127 L658.6 125.1 L660.9 123.2 L662.8 121 L664.4 120.6 L668 121 L670.5 120.5 L672.2 121.9 L674.6 123.6 L676.2 124.4 L678.7 126.5 L683.8 124.6 L684.4 122.1 L684.6 119.6 L684.4 117.9 L686.2 114.9 L688.6 113.4 L690.2 112.6 L693 111.2 L695.1 110.5 L696.5 107.6 L697.5 103.8 L697.2 100.6 L697.3 97.5 L697.5 94"/>
<path d="M697 94 L697.4 92.5 L697 89.7 L698.3 89 L701 87.9 L701.3 85.7 L701.7 83.6 L702.8 80.9 L704.2 79.5 L705.3 77.6 L707.8 75.4 L709.4 74.3 L710 71.5 L709.4 69.9 L710.9 67.2 L710.4 64.6 L713.2 64.2 L715.6 64.1 L715.6 61.2 L715.1 59.6 L715.2 57 L714.2 55.3 L714.1 53.7 L712.7 50.8 L713.2 48.7 L712.9 46.4 L713 45 L712.8 42.7 L713.9 39.6 L715 37 L714.8 35.8 L715.6 32.3 L715.9 30.1 L715.4 29.1 L716 26 L716 24"/>
<path d="M697.5 94 L699.2 93.1 L701.8 92.7 L704.3 93.8 L706.2 94.5 L708.2 94.4 L710.2 93.8 L712.9 95.1 L714.7 94.5 L717.9 96.3 L720.1 95.8 L722.9 95.7 L724.6 96.6 L725.4 96.8 L727.7 98.6 L729.4 96.5 L732.3 94.4 L734.1 92.2 L735.2 91.7 L738.3 91.3 L739.7 90.8 L741.8 91.4 L744.3 93.4 L745.2 94.3 L747.5 96.1 L749 92.9 L750.6 90.6 L750.7 89.6 L751.3 87.1 L752.2 85.3 L756 86.6 L758.7 87.7 L760.9 89.5 L763.1 90.5 L765.4 90.2 L766.6 88.5 L767.7 87.4 L769.6 85.9 L770.8 82.6 L770.9 81.3 L771.1 78.9 L773.4 76.9 L775.2 76.7 L777.3 74.3 L779.8 74.1 L780.4 71.4 L782.4 70.3 L784.1 68.3 L784.2 65.6 L785.5 64.5 L789.2 62.8 L790.4 62.5 L792.5 62.5 L795.2 61.6 L796.1 61.4 L799 61"/>
<path d="M652 148.1 L699 148 L699 142.5 L799 143.8"/>
<path d="M625 206 L800 207.5"/>
<path d="M694 206 L696 210 L694 245 L686 307.5 L685.5 337.5 L686 385"/>
<path d="M780 207.5 L787.5 245 L794 282.5 L799 300"/>
<path d="M796 312 L795 325 L797.5 345 L799 356"/>
<path d="M579 361 L641 361"/>
<path d="M641 361 L640.3 363.9 L639.8 365.8 L639.3 367.6 L640 369.9 L639.2 372.5 L639.8 374.4 L640.4 376.6 L641.1 377.8 L641.9 379.7 L643.2 383 L644 384.5 L644.7 388.1 L645 390.1 L646 392.5"/>
<path d="M714 361 L800 361"/>
<path d="M714 361 L713.2 362.8 L712 365.5 L713.1 366.9 L715.6 368.2 L716.3 370.8 L716.9 372.3 L718.3 374.4 L718.8 376 L718.6 378 L719.5 381.1 L720 382.5"/>
<path d="M79.5 323.2 L198.5 323.2"/>
<path d="M79.5 331.2 L26 331.2 L26 348 L0 348"/>
<path d="M79.5 323.2 L79.1 325.9 L80.1 329.6 L82.9 331.5 L85.2 331.5 L87.5 334.5 L89.6 338.1 L92.4 339 L93.8 342 L94.8 343.7 L97.7 345.4 L100.3 347.2 L102 348.9 L105.7 350.7 L106.8 351.4 L107.6 353.5 L110.6 355.7 L112.3 359.1 L114.7 361.1 L117.4 362.6 L120.1 365.8 L122 367.1 L124.9 368 L127.5 370.3 L130.2 371 L132.5 372.7 L134.1 375.2 L136.1 377 L137.4 379.4 L137.5 382.9 L139.6 384.9 L140.1 387.1 L141.2 390.2 L142.3 392 L143.9 394.5 L144.2 397.9 L144.4 400 L143.8 402.4 L144.2 405.3 L145.5 407.2 L146 409.9 L147.6 412.3 L150 414.2 L151.1 415.5 L154.1 417 L155.6 417.9 L157.5 419.9 L159.9 421.4 L162.6 423.1 L165 424 L167.4 426.7 L169.9 426.8 L171.8 428.8 L174.4 429.4 L177 431.6 L180.7 433.3 L182.4 434.9 L184.9 436.2 L187.6 438.1 L189.9 438.6 L192.2 440.6 L194 437.6 L197.2 436.3 L198.7 434.1 L200.5 432 L201.3 430.2 L201.6 427.7 L202.8 425.3 L202.7 422.9 L204.5 420.6 L205.7 417.2 L207.1 415.1 L208.9 414.3 L210.2 411.7 L211.9 409.6 L214.6 408.2 L218.2 408 L219.9 406.6 L222.8 405 L224.9 406.5 L227.6 407.2 L229.8 408.1 L232.7 407.8 L235.2 409.1 L238 409.2 L239.4 409.1 L241.9 408.8 L244.7 409.5 L247.9 410 L249.7 410.3 L252.5 412 L254.7 413.9 L257.3 416.1 L260 417.4 L261.8 419.3 L264 421.6 L266 423 L267.9 425.7 L270.3 427.3 L271.1 429.5 L274.2 430.3 L274.8 433.1 L276.6 435.8 L277.2 437.5 L278.3 439.6 L280.4 443.1 L280.9 445.3 L283.1 447.1 L283.9 449.9 L285.7 453 L285.3 454.6 L287.5 457.6 L288 460.4 L289.4 463.1 L290.3 464 L292.3 466.1 L293.6 469.4 L294.9 471.1 L296.4 472.8 L298.9 476 L301.3 477.1 L303.1 480 L303.8 481.9 L305.6 483.8 L306.5 486.5 L308.8 488.2 L310.3 490.7 L311.5 492.5 L314.5 493.8 L316.1 495.9 L315.8 498.7 L316 502.1 L316.3 504.4 L317.1 507.7 L317.7 509.6 L317.3 511.9 L318.5 514.7 L321.5 516.9 L322 520.2 L323.6 522.1 L325.6 524.4 L326.4 527.4 L327.3 529.6 L327.9 532.4 L329.5 535 L330.4 538 L332 539.2 L335.1 539.7 L337.5 541.5 L339.8 542.1 L343.1 543.8 L344.4 546.3 L347.2 546.7 L350.2 548.5 L352.3 549.6 L355.2 550.2 L357.5 550.6 L359.5 552.7 L362.8 552.3 L365.2 553.2 L367.6 553.5 L369.6 553.8 L373.2 554.4 L375.5 555.8 L376.9 557.1 L379.3 558 L382.3 559.8 L385 561"/>
<path d="M390 576 L390.3 574 L390.7 571.5 L390.5 569.6 L390.9 567.8 L391.5 565.6 L391.7 563.5 L391.6 561.3 L391.9 559.5 L392.1 557.3 L392.4 555.1 L392.5 552.9 L392.7 550.7 L392.1 549.3 L392.3 546.7 L392.5 545.3 L391.8 542.9 L391.7 540.9 L392 538.8 L391.9 536.7 L391.1 535 L390.9 532.6 L390.6 530.4 L390 527.9 L389.8 526.4 L389.5 524 L388.6 521.6 L388.4 519.6 L387.9 517.2 L387.9 515.4 L388.1 513.3 L387.5 511.4 L387.6 509.2 L387.3 507 L387.3 505.2 L387.8 502.9 L388.5 500.9 L389 498.5 L389.9 496.6 L390.7 494.4 L391.9 492.1 L393.2 490.5 L394.2 488.4 L395.1 486.3 L396.8 483.3 L398.7 481.3 L399.5 479.2 L401.3 477.7 L402.2 475.9 L403.4 474.7 L405.3 473.3 L406.7 471.5 L408.3 470.8 L410.3 469.5 L411.6 468.2 L413.5 467.1 L415.4 466.1 L417.9 464.4 L419.5 463.7 L421.5 462.6 L423.7 461 L425.9 459.2 L427.6 457.8 L429.9 456.6 L431.6 455.8 L433.9 454.4 L436.1 454 L438.2 452.8 L440.6 452.1 L442.4 450.7 L444.1 450 L446.1 448.7 L447.7 447.5 L449.9 446.6 L451.1 445.4 L453.5 444.2 L455.2 442.9 L456.7 441.5 L458.4 439.3 L460.1 437.7 L462.3 436.2 L463.7 434.4 L464.9 432.9 L466.7 431.4 L467.8 429.9 L469.6 428.6 L471.2 426.7 L473.1 425.6 L475.2 424.1 L477.3 422.7 L478.7 421.5 L481 420 L483.1 418.9 L484.8 418 L487.3 417 L488.9 416.3 L490.8 415.6 L492.8 415.1 L495 414.1 L497.3 413.5 L500.1 413.4 L502.3 412.7 L504.9 412.2 L507.2 410.9 L510.2 409.6 L512.1 409.7 L514.3 409.5 L516.1 409.2 L518.2 409.1 L520 409 L521.9 408.7 L524.1 409.2 L526.3 409 L529 409.4 L531.3 409.8 L532.9 411 L535.3 411.6 L536.7 412.8 L539.1 413.5 L540.9 414.1 L542.7 414.8 L544.4 415.6 L546.9 416.1 L549.7 416.3 L551.8 416.8 L554.3 417.3 L555.7 417.9 L558.3 418.2 L560.2 417.4 L562.4 416.2 L565 417 L566.8 417.3 L568.9 417.7 L571.2 418.5 L573.5 418 L575.9 416.8 L577.8 417.9 L580.3 419.1 L582.2 420.1 L585 421 L587 422.6 L589 424"/>
<path d="M385 561 L383.8 559.9 L384.8 558.4 L383.3 557.3 L383 557 L383.8 557.3 L384.1 555.9 L385.1 554.4 L384.4 553.2 L381.7 553.8 L384 553.3 L383.5 552 L383.3 550.8 L383.9 550.5 L383.3 550.8 L381.6 549.6 L383.7 548.3 L382.1 546.9 L383.4 545.8 L381.6 545.8 L383.4 545.8 L383.3 544.5 L382.2 544.8 L383.4 544.5 L384.1 543.3 L385.2 542.1 L382.4 542.4 L384.4 542.1 L383.5 540.7 L384.9 539.6 L384.6 538.3 L385.8 538.7 L384.3 538.3 L384.6 537 L382.7 537 L384.4 537 L384.7 535.8 L384.9 534.5 L386.2 534.3 L384.7 534.5 L385.7 533.4 L382.2 533.5 L385.2 533.3 L384.9 532 L385.1 530.6 L385.9 529.2 L382.6 529.7 L385 529.4 L385.2 528.1 L382.4 528.8 L384.5 528.3 L383 527.4 L383.8 525.9 L381.6 525.2 L382.1 524.9 L382.3 525 L382 523.8 L380.4 524.7 L382.3 523.7 L383.1 522.3 L381.4 521.4 L380.7 521.8 L381.7 521.4 L381.7 520.1 L382.9 518.6 L379.7 518.9 L382.2 518.7 L379.8 517.7 L381 516.4 L383 516.8 L381.2 516.4 L381.6 515.3 L379.9 514.8 L381.7 515.3 L382.2 514.2 L383.5 513.2 L382.6 511.7 L383.1 510.6 L381.5 510.6 L383.1 510.6 L382.2 509.6 L380.3 509.6 L380.5 507.7 L380.1 506.3 L378.9 505.6 L377.6 505 L377.2 503.3 L378.2 502.4 L380.3 501.9 L379 499.8 L381.2 499.5 L380.7 497.8 L381.3 496.6 L383.2 496.2 L383.4 494.8 L383.5 493.4 L383.5 491.9 L383.5 490.5 L386.6 492 L384.1 490.8 L385.8 490.2 L387.1 491.3 L385.6 490.1 L385.9 488.8 L386.6 487.7 L386.6 486.5 L386.9 485.2 L385 483.6 L387.6 483.1 L388 481.8 L389.1 481 L389.6 479.7 L389.3 478 L390.9 477.4 L391.5 476.4 L391.7 474.6 L392.7 475.5 L391.8 474.8 L391.7 472.6 L393.5 472.3 L394.6 471.2 L396.5 472.1 L395.3 470.5 L396.4 471.7 L397.5 470.8 L398.6 470 L398.6 472 L398.7 470.2 L400.4 471.2 L400.6 471.1 L400.2 470.6 L401.3 468.8 L402.4 468.4 L403.1 467.8 L403.2 466.5 L405 466.6 L403.4 466.6 L403.9 465.5 L405 464.5 L403.7 462.9 L404.4 461.4 L406.4 461.8 L407.4 460.8 L409 461 L410.5 460.4 L409.5 458.7 L411.1 457.7 L411.4 456.5 L410.5 455.2 L409.1 455.1 L410.7 455.2 L411.4 454.1 L412.8 453.1 L410.1 451.4 L411.3 450.3 L412.2 449.3 L410.6 448.9 L412 449.2 L412 447.4 L412.2 449.6 L412 447.7 L413.1 449 L413.9 449.2 L412.8 449.1 L411.9 450.9 L412.7 452.1 L414 452.7 L413.9 451.9 L414 452.9 L415.7 451.5 L417.2 450.7 L419.1 450.4 L419.5 452.3 L420.9 453.4 L423 453.9 L423.8 451.6 L425 451 L426.2 450.2 L427.6 449.4 L428.2 451.2 L426 452 L426.5 453.7 L426.2 454.8 L427.6 456.3 L427.5 456.6 L427.4 455.5 L428.2 453.9 L429.3 453.4 L428.6 452.6 L429.4 453.7 L430.7 453.8 L431.3 454.7 L430.7 453.7 L431.7 452.7 L432.4 454.9 L431.7 453 L433.2 453.8 L433.2 454.5 L433.1 453.4 L434.3 452.4 L434.2 451.4 L434.4 452.6 L435.8 452.5 L437.2 452.7 L438.5 451.8 L440 452"/>
<path d="M509 395.5 L508.3 397.2 L508.3 398.8 L507.4 399.7 L506.1 400.7 L505.5 401.6 L504 402.7 L503 404.4 L502.8 406.1 L501.2 407.3 L502.3 409.4 L504 410.8 L504.7 412"/>
<path d="M558 418 L557.7 417.1 L558.9 416.2 L558.6 413.9 L559.7 413.3 L559.4 412 L559.8 410.9 L560.6 410.8 L563.1 411.8 L563 411.7 L564.5 409.8 L565.3 409.9 L565.6 409 L566.4 407.7 L567.8 407.3 L570.8 407.3 L572.3 408.2 L573.2 409.6 L574.8 408.9 L576.1 410.2 L577 409.4 L579.6 410 L580 409.9 L580 412.2 L580.5 412.9 L582.5 413.3 L583.1 413.7 L585.4 414.4 L586.5 415.8 L588 416 L589.6 414.9 L590 416.1 L590.7 416.8 L591 418.3 L592.1 420.7 L591.3 420.7 L592.5 422.5"/>
<path d="M464 409 L465 409 L466.5 410 L467.3 410.5 L467.6 412.1 L469.6 412 L470.5 410.3 L471.8 410.4 L473.5 410.3 L474.4 411.4 L474.6 412.8 L475.6 413.3 L476.6 413.6 L476.3 415.8 L477.1 416.8 L476.7 417.7 L476.3 419 L475.9 419.4 L474.4 419.5 L473.7 420 L472.2 419.1 L470.8 419.1 L471.4 420.3 L470.9 422.1 L470.7 422.6 L470.8 423.8 L471.9 425.7 L471.6 426.4 L472 428"/>
<path d="M642 404 L643.4 404.8 L645.4 404.3 L646.4 405.3 L647.3 403.4 L647.2 402.8 L649.4 401.6 L650 400.7 L651.6 400.8 L651.8 400 L652.3 398.9 L654 397.5"/>
<path d="M589 425 L590.8 424.1 L590.9 427 L592.4 426.6 L591.9 428.7 L592.5 426.6 L593.1 428.4 L595.8 425.3 L596.3 427.2 L596.5 426.1 L596.2 427.6 L596.8 429.4 L596.8 431.2 L597 428.9 L599.2 426.5 L599 426.7 L598.7 427.7 L599 430.5 L599.8 431.7 L599.1 431.9 L600.2 430.7 L601.4 431.1 L600.2 432.2 L601.5 430.6 L602.6 431.1 L603.3 432.9 L604.6 433 L606.6 431.1 L607.6 431.9 L608.5 431.2 L607.5 432.1 L608.8 432.2 L609.5 433.6 L608.6 435.7 L609.6 433.4 L610.4 434.9 L611.9 430.7 L610.6 434.2 L612.1 433.5 L613.4 434.1 L614.5 435.2 L614.5 436.1 L614.6 434.9 L615.8 436 L617.6 434.2 L618.2 437.4 L619.2 434.1 L618.5 436.5 L619.9 436.7 L621.4 436.2 L621.2 438.8 L621.4 436.1 L622.8 435 L624.2 437.2 L625.6 435.5 L627 436"/>
<path d="M592 430 L592.7 431.5 L594.4 430.9 L595.4 431.8 L596.5 432.5 L597.7 433 L599.2 432.7 L597.6 434.8 L599 433.1 L599.5 435.2 L601.3 434.2 L602.3 435.5 L603.8 434.9 L604.2 433.3 L603.8 435 L605 435.5 L606.4 435.5 L605.5 438 L606.3 435.7 L608 434.7 L607 438.3 L607.7 435.5 L608.5 437.3 L610 436.9 L610.5 436 L610 437 L611.2 436.6 L612.4 437.2 L613.6 437.9 L613.5 436 L613.6 437.6 L614.6 439.2 L614.2 440 L614.7 438.3 L615.9 438.2 L617.3 436.8 L618.3 438.3 L618.5 436.5 L618.4 438 L619.7 436.5 L620.8 438.4 L620.9 436.4 L620.8 438.1 L622 438"/>
<path d="M627 436 L629.5 435.8 L624.8 434.1 L628.4 435.4 L628.2 434.2 L626.5 433.1 L628 434.1 L626.9 432.6 L628.2 431.9 L630.6 433 L628.3 431.9 L628.6 430.9 L628.7 429.8 L630.9 430.9 L629 429.9 L629.2 428.8 L628.4 427.9 L629.7 427 L631.6 425.5 L631 424.6 L629 424 L629.2 422.9 L631.2 422.9 L629 422.9 L627.3 422.3 L628.1 421 L629.1 420.2 L630.2 420.4 L629.3 418.3 L630.7 418 L627.8 415.6 L630.3 417.8 L632.1 417.8 L632 416.4 L632.6 416.2 L631.7 416.1 L632 415.4 L633 415.4 L633.8 416.1 L635 415.5 L633.6 416.3 L632.6 418.7 L634.7 416 L633.4 417.9 L634.5 418.2 L633.5 418.9 L634.7 418.1 L636.5 417.7 L636.2 419.4 L637.2 419.9 L638.1 418.7 L637.1 419.9 L636.7 421.4 L639.1 421.4 L636.5 422.8 L638.6 421.7 L638.4 423 L640.2 422.8 L638.5 423 L638.1 424.4 L639.5 425 L637.3 426.2 L639.5 425 L641 425.5 L641 424.6 L640.5 425.8 L640.6 427 L640.5 428.3 L640.5 429.1 L640.8 428.2 L641.4 429 L644 426.9 L641.5 428.9 L642.5 429.5 L642.6 430.8 L644 431.1 L642.6 433.5 L645 433"/>
<path d="M643 396 L643.1 397.4 L643.7 398.3 L645 398.7 L643.3 399.8 L645.1 398.6 L644.5 400.6 L643.1 401.2 L645.2 400 L647.5 399.5 L646.5 401.8 L648.6 401.5 L647 403.9 L646.6 404.7 L647.8 403.4 L649 403.8 L650.1 404.3 L651 403.6 L649.9 404.4 L650.2 405.5 L647.5 406.8 L650.3 405.4 L650.9 406.3 L650.8 407.6 L652.7 405.7 L651.1 407.4 L653.7 407 L648.8 409 L652.8 407.5 L652.8 408.8 L654.9 408.3 L652.7 408.9 L652.9 410 L651.5 411 L653 410 L653.3 411.1 L651.3 411.6 L653.4 411.1 L652.6 412.7 L656.5 411.3 L653.3 412.4 L653.4 413.5 L657.7 411.6 L654 413.3 L653.4 414.8 L652.7 415.3 L654.2 414.4 L656 414.8 L655.6 416.2 L654.1 416.9 L655.8 416.1 L657.6 416.5 L658.6 417.2 L658 418.7 L656.5 420.8 L659.8 420.3 L656.8 422.6 L659.2 420.6 L661 420.9 L659.9 422.9 L657.9 424.9 L659.9 423 L659 424.8 L657.4 425.6 L659.7 424.4 L661 425"/>
<path d="M641 400 L641 401.2 L640.9 402.6 L643.7 400.8 L641.4 402.3 L643.8 402.3 L643.6 403.7 L642.1 405.7 L644.4 405.8 L644.6 406.9 L643 408.3 L644.6 407 L642.8 409 L647.4 406.8 L643.9 408.5 L646.6 408.5 L646.5 409.7 L643.4 410.9 L646.1 409.9 L645 411.4 L645.6 412.3 L644.5 412.4 L646.1 412.2 L646.4 413.2 L648.9 412.4 L646.7 413.1 L648.4 413.6 L647 415.2 L647 416.4 L650.5 414.9 L647.5 416.2 L648.4 417.1 L649 418 L649.7 418.9 L652.6 418.2 L649.6 418.9 L651.3 419.4 L651.9 420.3 L651.9 419.5 L651.2 420.7 L650.8 422.1 L652.3 422.6 L652 424"/>
<path d="M646 394 L647.4 393.9 L646.4 396 L647.2 394.3 L647.8 395.5 L649 395.8 L650.1 396.2 L649.5 398.1 L650 396.3 L651.6 396.4 L652.1 397.7 L652 399.1 L654 398.5 L652.1 399.1 L652.9 399.9 L651.3 401.1 L652.8 400 L652.9 401.3 L654 402"/>
<path d="M624 416 L625.5 416 L622.8 417.8 L625 416.4 L624.8 417.7 L626.3 417.7 L625.5 419.5 L625.1 419.2 L625.9 419.2 L626.2 420.1 L628.3 419.6 L629 419.5 L627.9 419.9 L627.8 421.2 L629.2 420.1 L627.9 421.1 L628.9 421.4 L627.7 423 L628.8 421.6 L628.6 422.9 L627.5 423 L628.9 422.6 L630.1 422.8 L628 424.4 L629.9 423 L629.1 424.8 L631.2 424.3 L631.4 425.3 L632.2 424.8 L631.4 425.3 L630.4 426.9 L632 427.2 L633.6 426.8 L632.2 427.1 L633.2 427.8 L634.6 426.8 L633 427.9 L632.4 429.3 L633.9 429.9 L634 431"/>
<path d="M660 424 L660.2 425 L661.3 427.1 L662.5 429.6 L663.1 430.3 L663.4 432.3 L663.3 433.2 L664.2 435.8 L664.9 437.5 L665.3 437.7 L665 440"/>
<path d="M652 443 L653.6 442.3 L655.7 441 L656.6 440.5 L657.3 438.6 L659 439.8 L660.8 441.2 L662.3 442.6 L664 443"/>
<path d="M600 428 L600.8 428.4 L601.9 427.6 L600.8 428.4 L602.3 427.8 L602.6 428.9 L601.1 431 L602.4 429.2 L602.2 431.2 L601.6 430.9 L602.6 430.6 L603.5 430.9 L604 431.8 L606.3 428.7 L604.2 431.4 L605.3 431.5 L605.8 432.3 L605 433.1 L605.9 432.2 L605.8 433.9 L606.5 434.5 L608.8 431.4 L607 433.7 L608.3 433.4 L608.9 434.1 L609.8 433 L609 434 L610 434.1 L610.1 435.6 L611.3 433 L610.3 435.3 L610.9 436.1 L611.9 436.3 L612.9 436.1 L612.5 437.3 L612.9 436.2 L613.9 436.2 L613.7 437.9 L613.8 436.4 L614.6 436.7 L615.8 435.1 L614.6 436.8 L615.4 437.2 L616.6 436.6 L617.3 437.1 L616.4 439 L617.2 437.4 L617.8 439.5 L619 437.7 L618.6 436.4 L619 437.8 L620 437.6 L619.5 435.9 L620 437.8 L621 437.7 L622 437.3 L621.6 439.1 L622 437.6 L623 437.6 L623.4 440.3 L623 437.8 L624 438"/>
<path d="M664 396 L665.8 396.5 L667.5 397.3 L668.9 397.6 L669.8 399.4 L670.5 400.4 L671.4 402 L672.7 403.3 L673 404.7 L673 405.6 L672.7 407.3 L672.8 408.9 L672.2 410.9 L671.2 412.2 L670.8 413.6 L668.6 414.8 L667.7 416.5 L666 417.5"/>
<path d="M716 380 L716.8 381.1 L716.3 382.6 L716.9 380.7 L717.4 382.4 L718.8 381.6 L717.9 382.3 L718.9 381.3 L720.2 380.8 L721.1 381.3 L722.3 381.2 L721.4 383.7 L722.1 381.6 L723.3 381.3 L723.8 383.4 L724.3 381.2 L723.9 383 L725.4 381.9 L724.1 384.4 L725.2 382.4 L726 383.3 L726.9 384 L727.3 381.7 L726.9 383.8 L728.2 383.5 L726.9 386.3 L728.1 383.8 L729.3 383.4 L729.4 382.4 L729.2 383.9 L730.6 382.8 L730.6 386.1 L732.2 383.2 L730.8 385.6 L731.8 385.9 L731.6 387.5 L731.9 385.6 L732.9 385.9 L733 387 L733 385.8 L734 386"/>
<path d="M746 382 L747 382.1 L747.1 384.3 L747 382.1 L748 382.2 L748.7 380.9 L748 382.2 L749 381.9 L750 382.2 L750.9 383.6 L752 382.7 L752.4 383.9 L752 382.6 L753 383 L753.3 383.5 L753 382.8 L754.1 381.9 L754.6 380.9 L754 382.3 L755 382.2 L756 383.1 L756.1 381.2 L756 383 L757 383.2 L757.2 381.1 L757 383 L758 382.9 L758 380.7 L758 383 L759.1 382.9 L759.4 381.7 L759 383.1 L760.1 383 L760.2 381.8 L760.1 383.3 L761 383.8 L762 384"/>
<path d="M771 389 L772.2 389.2 L773.2 388.4 L772.1 389.4 L773.1 390.1 L774.2 390.5 L774.6 392 L775.8 392.3 L776.4 391.1 L775.9 392.1 L776.5 393.1 L777 394.2 L778.7 393.8 L777.1 395.4 L778.6 393.9 L779.2 394.8 L780.5 393.4 L779.3 394.7 L780.1 395.4 L781.8 395.1 L779.8 397.3 L781.4 395.6 L781.3 397.3 L783 397.2 L783.7 398.1 L783.7 399.7 L785.2 398 L783.9 399.5 L785 400"/>
<path d="M702 370 L702.7 371.4 L702.2 373.3 L703.5 374.7 L703.4 376.7 L703.4 378.2 L703.8 380.2 L704.5 381.8 L705 383 L705.6 384.9 L705.7 386.2 L706 388"/>
<path d="M644 394 L645.8 393.6 L647.2 392.4 L648.7 392.3 L650.1 390.3 L651.7 389.7 L653.4 389.3 L654.7 389 L656.5 388.9 L658 387.8 L659.6 388.1 L661.5 387.8 L663.8 386.9 L664.4 386.8 L667 385.9 L668.6 385.2 L670.6 385.5 L672.1 386 L673 385.7 L675.3 386.4 L676.5 385.8 L678.5 386.1 L680.3 386.3 L681.7 387.2 L683 387.5 L685.3 387.6 L687.6 388.5 L689.2 388.3 L689.7 389.2 L691.5 390.3 L693.2 390 L694.7 390.9 L696.8 391.4 L697.7 392.2 L699 391.2 L701.5 391.6 L702.2 390.2 L704.4 390.6 L705.3 389.9 L707.3 389 L708.7 388.9 L710.8 388.3 L712.6 388.9 L714.3 387.4 L715.9 387.9 L716.6 387.2 L719.2 387.6 L721.3 386.8 L722.5 387 L723.6 386 L724.9 386.3 L727.2 385.3 L728.1 385.7 L730.4 385 L731.3 385.4 L732.7 385.8 L734.8 385.8 L736.2 385.3 L737.2 384.9 L738.9 384.7 L739.9 385.1 L741.5 384.4 L744.1 384.4 L745.5 383.9 L746.5 384 L747.8 383.8 L749.5 384.5 L751.9 383.4 L753 384 L754.3 383.4 L755.8 383.7 L757.4 384.5 L759 384.5 L760.5 385.9 L762.2 386.3 L763.5 386.2 L765.7 387.1 L767.2 388.1 L768.9 387.8 L770.7 389.4 L771.6 390.3 L773.8 390.7 L774.2 391.7 L776.1 392.9 L776.7 393.9 L778.7 395.1 L779.8 396.4 L781.4 396.9 L782.2 399 L783.2 399.5 L784.5 400.9 L786.4 401.5 L786.2 402.8 L786.7 404.8 L787.8 406.8 L788.3 407.6 L788.3 408.6 L788.2 410.6 L788.4 412.9 L789.5 413.5 L791.5 413.6 L793.8 413.2 L795.6 413.5 L796.2 413.6 L799 413.5 L800 413"/>
<path d="M697.5 370 L698.4 371.5 L698.6 373 L698.3 373.9 L699.5 375.4 L699.2 375.9 L699.1 378.1 L698.9 378.5 L700 379.9 L699.3 381 L700.2 382.3 L699.8 383.9 L700.4 385 L700.1 386.3 L700.7 387 L701.5 389 L702.5 390"/>
</g>
</g>
<rect x="0.5" y="24.5" width="799" height="551" fill="none" stroke="#000" stroke-width="1"/>
</svg>
</body></html>
